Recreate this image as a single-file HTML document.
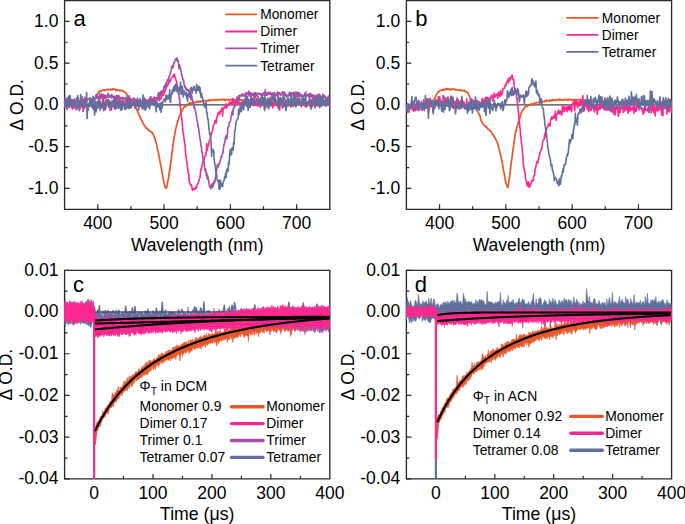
<!DOCTYPE html>
<html><head><meta charset="utf-8"><style>
html,body{margin:0;padding:0;background:#fff;width:685px;height:524px;overflow:hidden}
svg{display:block}
</style></head><body>
<svg width="685" height="524" viewBox="0 0 685 524" font-family='"Liberation Sans", sans-serif' fill="#000">
<path d="M64.6,0.5 H329.8 V209.3 H64.6 Z" fill="none" stroke="#2a2a2a" stroke-width="1.35"/>
<path d="M97.75,209.3 V204.3 M164.05,209.3 V204.3 M230.35,209.3 V204.3 M296.65,209.3 V204.3 M130.9,209.3 V206.3 M197.2,209.3 V206.3 M263.5,209.3 V206.3 M64.6,21.38 H69.6 M64.6,63.14 H69.6 M64.6,104.9 H69.6 M64.6,146.66 H69.6 M64.6,188.42 H69.6 M64.6,42.26 H67.6 M64.6,84.02 H67.6 M64.6,125.78 H67.6 M64.6,167.54 H67.6" stroke="#2a2a2a" stroke-width="1.2" fill="none"/>
<text x="97.75" y="229.4" font-size="17.5" text-anchor="middle" >400</text>
<text x="164.05" y="229.4" font-size="17.5" text-anchor="middle" >500</text>
<text x="230.35" y="229.4" font-size="17.5" text-anchor="middle" >600</text>
<text x="296.65" y="229.4" font-size="17.5" text-anchor="middle" >700</text>
<text x="58.4" y="26.78" font-size="17.5" text-anchor="end" >1.0</text>
<text x="58.4" y="68.54" font-size="17.5" text-anchor="end" >0.5</text>
<text x="58.4" y="110.3" font-size="17.5" text-anchor="end" >0.0</text>
<text x="58.4" y="152.06" font-size="17.5" text-anchor="end" >-0.5</text>
<text x="58.4" y="193.82" font-size="17.5" text-anchor="end" >-1.0</text>
<text x="197.2" y="250.5" font-size="17.5" text-anchor="middle" >Wavelength (nm)</text>
<text transform="translate(22.6,104.9) rotate(-90)" font-size="17.5" text-anchor="middle">&#916; O.D.</text>
<text x="73.5" y="25.8" font-size="22" text-anchor="start" >a</text>
<path d="M64.6,104.9 H329.8" stroke="#444" stroke-width="1.3"/>
<path d="M406.4,0.5 H671.6 V209.3 H406.4 Z" fill="none" stroke="#2a2a2a" stroke-width="1.35"/>
<path d="M439.55,209.3 V204.3 M505.85,209.3 V204.3 M572.15,209.3 V204.3 M638.45,209.3 V204.3 M472.7,209.3 V206.3 M539,209.3 V206.3 M605.3,209.3 V206.3 M406.4,21.38 H411.4 M406.4,63.14 H411.4 M406.4,104.9 H411.4 M406.4,146.66 H411.4 M406.4,188.42 H411.4 M406.4,42.26 H409.4 M406.4,84.02 H409.4 M406.4,125.78 H409.4 M406.4,167.54 H409.4" stroke="#2a2a2a" stroke-width="1.2" fill="none"/>
<text x="439.55" y="229.4" font-size="17.5" text-anchor="middle" >400</text>
<text x="505.85" y="229.4" font-size="17.5" text-anchor="middle" >500</text>
<text x="572.15" y="229.4" font-size="17.5" text-anchor="middle" >600</text>
<text x="638.45" y="229.4" font-size="17.5" text-anchor="middle" >700</text>
<text x="400.2" y="26.78" font-size="17.5" text-anchor="end" >1.0</text>
<text x="400.2" y="68.54" font-size="17.5" text-anchor="end" >0.5</text>
<text x="400.2" y="110.3" font-size="17.5" text-anchor="end" >0.0</text>
<text x="400.2" y="152.06" font-size="17.5" text-anchor="end" >-0.5</text>
<text x="400.2" y="193.82" font-size="17.5" text-anchor="end" >-1.0</text>
<text x="539" y="250.5" font-size="17.5" text-anchor="middle" >Wavelength (nm)</text>
<text transform="translate(364.4,104.9) rotate(-90)" font-size="17.5" text-anchor="middle">&#916; O.D.</text>
<text x="415.3" y="25.8" font-size="22" text-anchor="start" >b</text>
<path d="M406.4,104.9 H671.6" stroke="#444" stroke-width="1.3"/>
<g>
<path d="M64.6,104.9 L65.1,105 L65.6,104.8 L66.1,104.59 L66.6,104.74 L67.1,104.55 L67.6,104.92 L68.1,105.37 L68.6,104.73 L69.1,104.68 L69.6,105.07 L70.1,105.02 L70.6,104.94 L71.1,104.57 L71.6,104.89 L72.1,105.14 L72.6,104.43 L73.1,104.74 L73.6,104.23 L74.1,104.45 L74.6,104.26 L75.1,104.82 L75.6,104.46 L76.1,104.99 L76.6,104.95 L77.1,104.83 L77.6,104.02 L78.1,104.71 L78.6,104.88 L79.1,104.94 L79.6,104.36 L80.1,104.73 L80.6,104.56 L81.1,104.62 L81.6,105.27 L82.1,104.62 L82.6,104.89 L83.1,105.21 L83.6,104.7 L84.1,104.86 L84.6,104.94 L85.1,104.92 L85.6,104.47 L86.1,104.93 L86.6,105.38 L87.1,104.36 L87.6,105.2 L88.1,104.94 L88.6,104.62 L89.1,105.41 L89.6,104.79 L90.1,103.85 L90.6,104.01 L91.1,103.85 L91.6,103.23 L92.1,103.16 L92.6,102.33 L93.1,101.81 L93.6,101.15 L94.1,99.41 L94.6,98.7 L95.1,97.51 L95.6,96.89 L96.1,95.61 L96.6,94.97 L97.1,94.27 L97.6,93.88 L98.1,93.28 L98.6,91.86 L99.1,91.66 L99.6,91.85 L100.1,90.64 L100.6,90.92 L101.1,90.81 L101.6,91.07 L102.1,90.68 L102.6,90.17 L103.1,90.03 L103.6,89.97 L104.1,90.52 L104.6,89.78 L105.1,89.77 L105.6,89.95 L106.1,89.74 L106.6,89.67 L107.1,89.31 L107.6,89.66 L108.1,89.47 L108.6,90.01 L109.1,89.8 L109.6,89.54 L110.1,89.77 L110.6,89.4 L111.1,89.88 L111.6,89.5 L112.1,89.7 L112.6,89.05 L113.1,89.64 L113.6,88.95 L114.1,88.85 L114.6,89.49 L115.1,89.32 L115.6,89.74 L116.1,90.53 L116.6,89.51 L117.1,89.65 L117.6,90.02 L118.1,90.2 L118.6,90.06 L119.1,90.15 L119.6,90.57 L120.1,90.62 L120.6,90.19 L121.1,90.65 L121.6,90.82 L122.1,90.58 L122.6,91.18 L123.1,90.94 L123.6,91.74 L124.1,91.71 L124.6,92.08 L125.1,92.36 L125.6,93.15 L126.1,93.18 L126.6,94.21 L127.1,95.48 L127.6,95.34 L128.1,97.07 L128.6,96.8 L129.1,98.33 L129.6,98.42 L130.1,99.65 L130.6,100.09 L131.1,100.19 L131.6,101.86 L132.1,102.64 L132.6,102.84 L133.1,103.51 L133.6,104.32 L134.1,104.82 L134.6,106.36 L135.1,106.64 L135.6,107.69 L136.1,108.34 L136.6,109.33 L137.1,110.06 L137.6,111.94 L138.1,112.51 L138.6,114.02 L139.1,114.85 L139.6,115.78 L140.1,117.09 L140.6,118.18 L141.1,119.52 L141.6,120.46 L142.1,121.5 L142.6,122.05 L143.1,123.09 L143.6,124.76 L144.1,124.73 L144.6,125.34 L145.1,126.55 L145.6,127.6 L146.1,127.24 L146.6,128.27 L147.1,128.67 L147.6,128.77 L148.1,130.07 L148.6,130.18 L149.1,130.55 L149.6,130.58 L150.1,131.32 L150.6,131.31 L151.1,131.82 L151.6,131.9 L152.1,132.36 L152.6,133.84 L153.1,133.94 L153.6,135.24 L154.1,136.37 L154.6,137.66 L155.1,139.22 L155.6,141.29 L156.1,142.7 L156.6,144.55 L157.1,146.68 L157.6,149.38 L158.1,151.68 L158.6,154.16 L159.1,156.47 L159.6,158.82 L160.1,162.22 L160.6,164.7 L161.1,166.71 L161.6,169.62 L162.1,172.57 L162.6,175.54 L163.1,178.48 L163.6,180.74 L164.1,183.88 L164.6,184.95 L165.1,187.2 L165.6,187.92 L166.1,188.12 L166.6,187.6 L167.1,185.78 L167.6,182.54 L168.1,179.56 L168.6,177.36 L169.1,173.51 L169.6,170.7 L170.1,167.98 L170.6,163.72 L171.1,159.77 L171.6,156.59 L172.1,152.43 L172.6,148.35 L173.1,144.71 L173.6,141.06 L174.1,137.7 L174.6,135.14 L175.1,132.03 L175.6,129.23 L176.1,127.76 L176.6,125.56 L177.1,123.87 L177.6,121.64 L178.1,120.13 L178.6,118.48 L179.1,117.09 L179.6,116.11 L180.1,114.47 L180.6,113.59 L181.1,112.35 L181.6,111.79 L182.1,109.57 L182.6,109.52 L183.1,108.53 L183.6,107.99 L184.1,106.96 L184.6,106.81 L185.1,106.78 L185.6,106.08 L186.1,105.76 L186.6,105.28 L187.1,105.47 L187.6,104.78 L188.1,103.76 L188.6,104.06 L189.1,103.4 L189.6,102.76 L190.1,103.52 L190.6,104 L191.1,103.38 L191.6,102.79 L192.1,102.72 L192.6,103.31 L193.1,102.83 L193.6,102.67 L194.1,102.51 L194.6,102.43 L195.1,102.59 L195.6,102.4 L196.1,102.19 L196.6,101.65 L197.1,102.11 L197.6,101.61 L198.1,102.15 L198.6,101.24 L199.1,101.57 L199.6,101.54 L200.1,101.02 L200.6,102.02 L201.1,101.87 L201.6,101.13 L202.1,101.51 L202.6,101.31 L203.1,100.2 L203.6,101.15 L204.1,100.98 L204.6,100.97 L205.1,100.51 L205.6,100.73 L206.1,100.7 L206.6,101.11 L207.1,100.74 L207.6,100.54 L208.1,101 L208.6,100.19 L209.1,100.17 L209.6,99.59 L210.1,100.7 L210.6,100.41 L211.1,100.33 L211.6,100.17 L212.1,99.92 L212.6,99.9 L213.1,99.69 L213.6,99.67 L214.1,99.74 L214.6,100.23 L215.1,99.89 L215.6,99.68 L216.1,99.5 L216.6,99.48 L217.1,100.26 L217.6,99.88 L218.1,99.73 L218.6,99.58 L219.1,99.32 L219.6,99.68 L220.1,100.01 L220.6,99.57 L221.1,99.63 L221.6,99.63 L222.1,99.75 L222.6,99.16 L223.1,99.63 L223.6,99.42 L224.1,100.03 L224.6,99.45 L225.1,99.93 L225.6,100.26 L226.1,99.62 L226.6,99.52 L227.1,99.8 L227.6,99.74 L228.1,99.39 L228.6,99.9 L229.1,100.45 L229.6,99.66 L230.1,99.68 L230.6,99.39 L231.1,99.87 L231.6,99.32 L232.1,99.38 L232.6,100.22 L233.1,99.46 L233.6,100.15 L234.1,100.31 L234.6,99.87 L235.1,99.98 L235.6,100.48 L236.1,99.73 L236.6,99.59 L237.1,99.33 L237.6,99.83 L238.1,100.35 L238.6,100.19 L239.1,99.54 L239.6,99.6 L240.1,99.75 L240.6,100.06 L241.1,99.92 L241.6,100.1 L242.1,100.17 L242.6,100 L243.1,100.13 L243.6,100.27 L244.1,100.21 L244.6,100.47 L245.1,101 L245.6,100.6 L246.1,100.47 L246.6,99.91 L247.1,100.7 L247.6,99.94 L248.1,100.18 L248.6,101.04 L249.1,101.04 L249.6,100.81 L250.1,100.32 L250.6,100.85 L251.1,100.8 L251.6,101.33 L252.1,101.95 L252.6,101.3 L253.1,101.01 L253.6,100.94 L254.1,101.38 L254.6,101.4 L255.1,101.12 L255.6,101.62 L256.1,101.23 L256.6,102.07 L257.1,102.11 L257.6,102.17 L258.1,101.67 L258.6,102.06 L259.1,101.88 L259.6,101.83 L260.1,101.89 L260.6,101.59 L261.1,101.58 L261.6,102.41 L262.1,102.1 L262.6,102.28 L263.1,102.6 L263.6,101.68 L264.1,102.06 L264.6,102.43 L265.1,102.55 L265.6,102.32 L266.1,102.86 L266.6,102.61 L267.1,102.15 L267.6,102.3 L268.1,102.94 L268.6,102.87 L269.1,102.08 L269.6,103.26 L270.1,103.04 L270.6,103.34 L271.1,102.77 L271.6,102.84 L272.1,102.59 L272.6,103.92 L273.1,103.01 L273.6,103.66 L274.1,102.92 L274.6,103.24 L275.1,102.63 L275.6,103.12 L276.1,103.64 L276.6,102.89 L277.1,103.74 L277.6,103.52 L278.1,103.07 L278.6,103.29 L279.1,103.34 L279.6,103.52 L280.1,103.38 L280.6,103.31 L281.1,103.52 L281.6,103.3 L282.1,103.23 L282.6,103.69 L283.1,104.05 L283.6,103.23 L284.1,103.79 L284.6,103.58 L285.1,103.49 L285.6,104.16 L286.1,103.7 L286.6,104.42 L287.1,103.64 L287.6,104.07 L288.1,103.87 L288.6,103.7 L289.1,104.18 L289.6,103.94 L290.1,104.21 L290.6,104 L291.1,103.64 L291.6,104 L292.1,104.06 L292.6,104.39 L293.1,103.75 L293.6,104.06 L294.1,103.48 L294.6,104.33 L295.1,103.73 L295.6,103.48 L296.1,104.11 L296.6,104.52 L297.1,103.61 L297.6,103.78 L298.1,103.91 L298.6,103.78 L299.1,104.32 L299.6,103.91 L300.1,103.95 L300.6,104.42 L301.1,103.96 L301.6,104.38 L302.1,103.9 L302.6,103.82 L303.1,103.61 L303.6,104.92 L304.1,104.16 L304.6,104.37 L305.1,104.28 L305.6,104.35 L306.1,104.32 L306.6,104.98 L307.1,103.96 L307.6,103.78 L308.1,103.98 L308.6,103.87 L309.1,104.61 L309.6,104.64 L310.1,104.02 L310.6,103.88 L311.1,104.25 L311.6,104.87 L312.1,103.4 L312.6,104.58 L313.1,104.02 L313.6,104.77 L314.1,104.03 L314.6,104.32 L315.1,103.89 L315.6,104.08 L316.1,104.92 L316.6,104.72 L317.1,104.3 L317.6,104.14 L318.1,103.79 L318.6,104.32 L319.1,104.45 L319.6,104.43 L320.1,104.43 L320.6,104.08 L321.1,104.45 L321.6,104.46 L322.1,104.93 L322.6,105.13 L323.1,104.43 L323.6,104.22 L324.1,104.46 L324.6,104.28 L325.1,104.23 L325.6,104.47 L326.1,104.13 L326.6,104.71 L327.1,104.46 L327.6,104.59 L328.1,104.43 L328.6,104.24 L329.1,104.17 L329.6,104.42" fill="none" stroke="#E95628" stroke-width="1.7" stroke-linejoin="round" />
<path d="M64.6,102.29 L65.05,98.8 L65.5,106.19 L65.95,106.58 L66.4,103.63 L66.85,105.53 L67.3,109.29 L67.75,107.47 L68.2,106.48 L68.65,106.43 L69.1,102.08 L69.55,107.2 L70,99.88 L70.45,103.57 L70.9,103.27 L71.35,99.66 L71.8,104.19 L72.25,109.1 L72.7,103.54 L73.15,101.12 L73.6,104.24 L74.05,108.18 L74.5,105.04 L74.95,104.49 L75.4,100.55 L75.85,105.9 L76.3,105.85 L76.75,108.25 L77.2,108.66 L77.65,106.42 L78.1,99.89 L78.55,100.47 L79,101.42 L79.45,105.32 L79.9,102.28 L80.35,108.16 L80.8,105.17 L81.25,106.7 L81.7,106.59 L82.15,105.44 L82.6,100.53 L83.05,111.35 L83.5,108.58 L83.95,108.75 L84.4,102.39 L84.85,99.31 L85.3,100.26 L85.75,101.53 L86.2,106.95 L86.65,107 L87.1,110.91 L87.55,110.47 L88,105.93 L88.45,105.46 L88.9,103.45 L89.35,103.53 L89.8,101.22 L90.25,105.89 L90.7,105.35 L91.15,103.33 L91.6,102.19 L92.05,105.74 L92.5,108.11 L92.95,104.68 L93.4,105.25 L93.85,102.92 L94.3,103.75 L94.75,103.56 L95.2,103.65 L95.65,102.77 L96.1,105.55 L96.55,108.08 L97,101.79 L97.45,108.35 L97.9,103.31 L98.35,103.4 L98.8,98.39 L99.25,97.65 L99.7,106.48 L100.15,101.37 L100.6,106.68 L101.05,104.56 L101.5,105.12 L101.95,108.15 L102.4,104.21 L102.85,95.27 L103.3,99.54 L103.75,107.13 L104.2,109.99 L104.65,104.13 L105.1,102.43 L105.55,100.5 L106,105.92 L106.45,99.35 L106.9,100.9 L107.35,104.76 L107.8,104.66 L108.25,103.65 L108.7,107.35 L109.15,100.89 L109.6,101.03 L110.05,103.19 L110.5,104.54 L110.95,103.41 L111.4,109.92 L111.85,102.66 L112.3,106.12 L112.75,102.7 L113.2,105.23 L113.65,103.09 L114.1,103.23 L114.55,108.86 L115,103.38 L115.45,109.11 L115.9,102.25 L116.35,103 L116.8,107.4 L117.25,97.38 L117.7,99.62 L118.15,104.34 L118.6,105.62 L119.05,105.88 L119.5,103.37 L119.95,100.24 L120.4,106.59 L120.85,105.51 L121.3,101.08 L121.75,104.49 L122.2,109.32 L122.65,104.59 L123.1,100.89 L123.55,103.03 L124,103.19 L124.45,105.18 L124.9,106.75 L125.35,101.58 L125.8,102.37 L126.25,107.05 L126.7,106.26 L127.15,107.98 L127.6,100.09 L128.05,101.49 L128.5,106.97 L128.95,101.5 L129.4,105.06 L129.85,103.99 L130.3,102.06 L130.75,108.2 L131.2,104.09 L131.65,102.72 L132.1,103.67 L132.55,104.79 L133,99.77 L133.45,101.73 L133.9,100.59 L134.35,98.35 L134.8,106.73 L135.25,107.95 L135.7,107.26 L136.15,102.03 L136.6,105.11 L137.05,105.85 L137.5,102.52 L137.95,106.17 L138.4,101.1 L138.85,101.21 L139.3,101.85 L139.75,102.14 L140.2,101.41 L140.65,106.38 L141.1,101.22 L141.55,102.68 L142,102.17 L142.45,109 L142.9,101.35 L143.35,104.51 L143.8,107.53 L144.25,100.32 L144.7,101 L145.15,102 L145.6,99.6 L146.05,105.12 L146.5,101.19 L146.95,104.31 L147.4,103 L147.85,101.75 L148.3,103.5 L148.75,100.77 L149.2,103.32 L149.65,98.54 L150.1,99.55 L150.55,103.11 L151,96.89 L151.45,103.7 L151.9,99.82 L152.35,101.6 L152.8,99.19 L153.25,102.45 L153.7,97.71 L154.15,102.05 L154.6,100.8 L155.05,99.31 L155.5,99.74 L155.95,100.84 L156.4,98.81 L156.85,97.39 L157.3,99.86 L157.75,98.16 L158.2,98.63 L158.65,99.11 L159.1,99.85 L159.55,101.07 L160,98.94 L160.45,98.38 L160.9,98.87 L161.35,97.7 L161.8,94.7 L162.25,95.36 L162.7,93.87 L163.15,95.36 L163.6,95.18 L164.05,93.21 L164.5,90.71 L164.95,91.88 L165.4,88.95 L165.85,89.41 L166.3,86.9 L166.75,85.84 L167.2,84.99 L167.65,85.64 L168.1,83.94 L168.55,84.14 L169,81.26 L169.45,82.19 L169.9,80.05 L170.35,81.13 L170.8,80.05 L171.25,78.02 L171.7,77.74 L172.15,77.24 L172.6,76.87 L173.05,75.62 L173.5,76.77 L173.95,75.14 L174.4,74.06 L174.85,76.95 L175.3,77.4 L175.75,79.36 L176.2,80.7 L176.65,82.24 L177.1,84.42 L177.55,86.72 L178,88.49 L178.45,90.76 L178.9,94.27 L179.35,98.58 L179.8,100.42 L180.25,106.44 L180.7,109.86 L181.15,114.58 L181.6,117.62 L182.05,122.25 L182.5,125.67 L182.95,130.92 L183.4,132.99 L183.85,136.83 L184.3,140.87 L184.75,142.92 L185.2,147.67 L185.65,154.21 L186.1,157.23 L186.55,160.58 L187,163.24 L187.45,167.08 L187.9,170.27 L188.35,173.52 L188.8,175.21 L189.25,180.82 L189.7,182.13 L190.15,184.08 L190.6,184.96 L191.05,185.49 L191.5,184.62 L191.95,187.72 L192.4,190.34 L192.85,189.63 L193.3,188.71 L193.75,188.3 L194.2,189.33 L194.65,189.55 L195.1,188.7 L195.55,189.1 L196,186.58 L196.45,187.74 L196.9,185.84 L197.35,184.08 L197.8,183.23 L198.25,182.73 L198.7,181.9 L199.15,179.58 L199.6,178.14 L200.05,177.81 L200.5,171.49 L200.95,168.86 L201.4,168.81 L201.85,165.81 L202.3,165.21 L202.75,161.91 L203.2,162.16 L203.65,161.9 L204.1,160.29 L204.55,156.68 L205,156.09 L205.45,155.9 L205.9,155.42 L206.35,151.15 L206.8,143.66 L207.25,150.28 L207.7,147.32 L208.15,145.15 L208.6,145.74 L209.05,141.44 L209.5,140.86 L209.95,140.89 L210.4,137.52 L210.85,137.05 L211.3,133.54 L211.75,133.15 L212.2,130.94 L212.65,130.32 L213.1,126.8 L213.55,125.26 L214,124.16 L214.45,124.01 L214.9,120.9 L215.35,120.3 L215.8,121.3 L216.25,122.99 L216.7,117.94 L217.15,115.72 L217.6,116.31 L218.05,113.44 L218.5,112.39 L218.95,112.29 L219.4,114.15 L219.85,113.55 L220.3,110.48 L220.75,110.55 L221.2,110.9 L221.65,111.21 L222.1,107.69 L222.55,116.25 L223,109.63 L223.45,109.52 L223.9,107.39 L224.35,108 L224.8,106.73 L225.25,106.82 L225.7,105.05 L226.15,103.76 L226.6,108.35 L227.05,105.33 L227.5,105.03 L227.95,105.03 L228.4,105.73 L228.85,104.93 L229.3,102.19 L229.75,103.08 L230.2,103.07 L230.65,103.78 L231.1,101.81 L231.55,102.98 L232,102.68 L232.45,104.24 L232.9,98.59 L233.35,102.42 L233.8,102.8 L234.25,103.32 L234.7,102.3 L235.15,101.03 L235.6,103.38 L236.05,102.92 L236.5,100.95 L236.95,100.06 L237.4,103.31 L237.85,100.85 L238.3,103.52 L238.75,105.12 L239.2,102.77 L239.65,102.83 L240.1,102.65 L240.55,105.11 L241,105.2 L241.45,102.61 L241.9,103.97 L242.35,102.55 L242.8,101.42 L243.25,104.12 L243.7,102.29 L244.15,100.62 L244.6,99.16 L245.05,104.74 L245.5,100.3 L245.95,99.94 L246.4,101.9 L246.85,104.27 L247.3,98.4 L247.75,104.06 L248.2,103.48 L248.65,99.55 L249.1,99.72 L249.55,102.11 L250,107.41 L250.45,101.92 L250.9,105.32 L251.35,104.98 L251.8,98.47 L252.25,102.57 L252.7,105.15 L253.15,101.28 L253.6,105.8 L254.05,93.8 L254.5,98.69 L254.95,104.81 L255.4,104.36 L255.85,101.58 L256.3,105.09 L256.75,98.46 L257.2,101.05 L257.65,106.34 L258.1,95.97 L258.55,103.48 L259,100.22 L259.45,100.62 L259.9,101.76 L260.35,98.63 L260.8,105.21 L261.25,104.27 L261.7,106.03 L262.15,103.13 L262.6,100.07 L263.05,104.47 L263.5,98.98 L263.95,100.15 L264.4,108.51 L264.85,105.68 L265.3,103.93 L265.75,106.83 L266.2,101.91 L266.65,104.35 L267.1,100.46 L267.55,101.8 L268,102.98 L268.45,106.91 L268.9,100.8 L269.35,105.7 L269.8,102.73 L270.25,97.84 L270.7,97.37 L271.15,100.82 L271.6,105.77 L272.05,103.5 L272.5,107.87 L272.95,103.29 L273.4,106.76 L273.85,103.49 L274.3,100.24 L274.75,104.8 L275.2,100.72 L275.65,98.85 L276.1,100.7 L276.55,101.72 L277,103.52 L277.45,105.21 L277.9,104.54 L278.35,108.7 L278.8,97.34 L279.25,102.33 L279.7,110.11 L280.15,101.97 L280.6,99.32 L281.05,100.74 L281.5,100.14 L281.95,99.01 L282.4,107.74 L282.85,98.95 L283.3,100.93 L283.75,106.87 L284.2,103.73 L284.65,103.82 L285.1,101.84 L285.55,105.55 L286,100.04 L286.45,105.6 L286.9,103.26 L287.35,102.39 L287.8,101.42 L288.25,105.6 L288.7,103.88 L289.15,101.83 L289.6,103.27 L290.05,99.99 L290.5,106.54 L290.95,106.84 L291.4,106.14 L291.85,103.78 L292.3,104.4 L292.75,99.15 L293.2,101.94 L293.65,102.29 L294.1,102.61 L294.55,104.76 L295,101.76 L295.45,100.96 L295.9,106.38 L296.35,102.12 L296.8,101.19 L297.25,97.34 L297.7,99.17 L298.15,101.47 L298.6,103.76 L299.05,97.99 L299.5,102.95 L299.95,103.91 L300.4,101.58 L300.85,103.15 L301.3,106.94 L301.75,100.89 L302.2,98.24 L302.65,101.93 L303.1,100.52 L303.55,102.85 L304,104.95 L304.45,105.49 L304.9,103.9 L305.35,106.93 L305.8,104.01 L306.25,105.88 L306.7,103.98 L307.15,103.77 L307.6,101.58 L308.05,103.01 L308.5,101.39 L308.95,102.17 L309.4,103.21 L309.85,106.24 L310.3,102.29 L310.75,104.75 L311.2,99.54 L311.65,102.2 L312.1,106.58 L312.55,103.98 L313,97.92 L313.45,102.93 L313.9,102.32 L314.35,99.69 L314.8,98.09 L315.25,100.35 L315.7,100.02 L316.15,105.02 L316.6,104.64 L317.05,105.06 L317.5,106.05 L317.95,96.92 L318.4,102.25 L318.85,103.98 L319.3,101.15 L319.75,106.55 L320.2,100.79 L320.65,103.5 L321.1,102.87 L321.55,106.47 L322,104.13 L322.45,103.62 L322.9,102.97 L323.35,100.83 L323.8,103.38 L324.25,105.34 L324.7,104.35 L325.15,100.06 L325.6,98.81 L326.05,105 L326.5,103.57 L326.95,103.86 L327.4,100.65 L327.85,105.13 L328.3,105.08 L328.75,102.34 L329.2,104.67 L329.65,100.5" fill="none" stroke="#FF2891" stroke-width="1.6" stroke-linejoin="round" />
<path d="M64.6,101.94 L65.05,104.25 L65.5,102.43 L65.95,99.38 L66.4,100.11 L66.85,102.29 L67.3,100.93 L67.75,102.78 L68.2,98.08 L68.65,104.16 L69.1,103.81 L69.55,98.81 L70,100.54 L70.45,100.07 L70.9,100.42 L71.35,102.46 L71.8,100.24 L72.25,99.63 L72.7,103.36 L73.15,103.06 L73.6,100.36 L74.05,101.48 L74.5,98.85 L74.95,102.54 L75.4,104.5 L75.85,101.94 L76.3,100.93 L76.75,97.89 L77.2,100.52 L77.65,97.85 L78.1,102.18 L78.55,103.73 L79,103.12 L79.45,101.22 L79.9,101.71 L80.35,99.9 L80.8,103.3 L81.25,101.27 L81.7,100.88 L82.15,96.75 L82.6,101.26 L83.05,101.53 L83.5,99.64 L83.95,101.45 L84.4,102.02 L84.85,97.41 L85.3,102.11 L85.75,99.88 L86.2,98.84 L86.65,100.83 L87.1,99.33 L87.55,99.79 L88,98.93 L88.45,99.42 L88.9,98.57 L89.35,99.51 L89.8,98.72 L90.25,98.3 L90.7,101.99 L91.15,100.3 L91.6,100.79 L92.05,102.66 L92.5,100.85 L92.95,99.64 L93.4,97.7 L93.85,100.4 L94.3,99.67 L94.75,100.29 L95.2,98.24 L95.65,97.61 L96.1,94.69 L96.55,98.55 L97,95.06 L97.45,96.46 L97.9,97.79 L98.35,96.95 L98.8,96.54 L99.25,97.26 L99.7,93.72 L100.15,96.5 L100.6,98.37 L101.05,98.21 L101.5,94.09 L101.95,97.88 L102.4,97.1 L102.85,94.89 L103.3,94.32 L103.75,96.2 L104.2,98.6 L104.65,97.2 L105.1,94.99 L105.55,96.64 L106,98.12 L106.45,96.36 L106.9,95.79 L107.35,97.25 L107.8,93.3 L108.25,97.24 L108.7,94.46 L109.15,96.46 L109.6,97.17 L110.05,96.41 L110.5,95.49 L110.95,96.08 L111.4,97.96 L111.85,94.62 L112.3,95.88 L112.75,97.26 L113.2,98.03 L113.65,96.8 L114.1,96.03 L114.55,97.97 L115,96.3 L115.45,100.12 L115.9,99.05 L116.35,99.97 L116.8,95.62 L117.25,96.44 L117.7,96.84 L118.15,95.41 L118.6,96.62 L119.05,99.02 L119.5,96.07 L119.95,97.29 L120.4,100.18 L120.85,98.44 L121.3,97.76 L121.75,98.21 L122.2,97.31 L122.65,97.83 L123.1,98.91 L123.55,97.69 L124,98.76 L124.45,98.08 L124.9,98.73 L125.35,101.37 L125.8,99.97 L126.25,97.07 L126.7,98.87 L127.15,103.29 L127.6,102.15 L128.05,97.59 L128.5,100.17 L128.95,99.57 L129.4,95.73 L129.85,100.18 L130.3,102.9 L130.75,98.77 L131.2,99.5 L131.65,101.53 L132.1,99.43 L132.55,99.51 L133,100.71 L133.45,98.12 L133.9,101.2 L134.35,98.46 L134.8,100.66 L135.25,101.92 L135.7,103.28 L136.15,99.58 L136.6,101.21 L137.05,101.29 L137.5,98.17 L137.95,100.78 L138.4,101.44 L138.85,101.98 L139.3,104.25 L139.75,101.4 L140.2,101.18 L140.65,101.18 L141.1,101.32 L141.55,102.12 L142,103.84 L142.45,99.8 L142.9,101.47 L143.35,97.75 L143.8,98.87 L144.25,101.69 L144.7,98.17 L145.15,101.93 L145.6,103.39 L146.05,100.02 L146.5,100.19 L146.95,101.24 L147.4,100.36 L147.85,100.99 L148.3,99.9 L148.75,102.22 L149.2,101.25 L149.65,100.55 L150.1,97.05 L150.55,99.3 L151,100.3 L151.45,101.16 L151.9,98.91 L152.35,100.68 L152.8,100.88 L153.25,98.47 L153.7,100.33 L154.15,98.73 L154.6,97.1 L155.05,98.53 L155.5,100.4 L155.95,98.77 L156.4,97.97 L156.85,99 L157.3,98.57 L157.75,97.53 L158.2,94.07 L158.65,92.63 L159.1,97.43 L159.55,98.08 L160,96.07 L160.45,92.03 L160.9,94.98 L161.35,90.97 L161.8,92.72 L162.25,93.13 L162.7,90.8 L163.15,91.47 L163.6,89.31 L164.05,86.15 L164.5,87.78 L164.95,87.75 L165.4,85.27 L165.85,82.97 L166.3,86.2 L166.75,83.27 L167.2,80.88 L167.65,79.26 L168.1,79.4 L168.55,80.05 L169,76.23 L169.45,76.4 L169.9,74.73 L170.35,72.58 L170.8,71.62 L171.25,70.44 L171.7,67.72 L172.15,65.79 L172.6,67.79 L173.05,67.73 L173.5,65.31 L173.95,62.13 L174.4,62.56 L174.85,60.98 L175.3,59.07 L175.75,59.02 L176.2,59.16 L176.65,60.43 L177.1,57.73 L177.55,61.32 L178,60.35 L178.45,63.2 L178.9,68.84 L179.35,64.54 L179.8,65.91 L180.25,67.63 L180.7,69.2 L181.15,71.58 L181.6,75.13 L182.05,75.23 L182.5,78.55 L182.95,79.44 L183.4,79.42 L183.85,82.78 L184.3,84.99 L184.75,87.07 L185.2,86.45 L185.65,89.5 L186.1,87.66 L186.55,88.87 L187,90.68 L187.45,90.58 L187.9,89.74 L188.35,89.81 L188.8,91.66 L189.25,92.11 L189.7,97.1 L190.15,93.13 L190.6,92.02 L191.05,99.68 L191.5,94.78 L191.95,97.31 L192.4,99.92 L192.85,102.92 L193.3,101.92 L193.75,105.14 L194.2,108.03 L194.65,107.02 L195.1,109.69 L195.55,111.28 L196,113.52 L196.45,116.18 L196.9,119.76 L197.35,121.38 L197.8,125.27 L198.25,126.9 L198.7,128.79 L199.15,132.83 L199.6,135.96 L200.05,138.63 L200.5,141.9 L200.95,146.21 L201.4,146.35 L201.85,152.44 L202.3,152.82 L202.75,156.18 L203.2,160.87 L203.65,162.93 L204.1,161.22 L204.55,166.74 L205,170.33 L205.45,168.74 L205.9,171.16 L206.35,175.41 L206.8,172.93 L207.25,178.9 L207.7,175.69 L208.15,178.08 L208.6,180 L209.05,184.41 L209.5,186 L209.95,186.99 L210.4,187.23 L210.85,188.67 L211.3,184.24 L211.75,185.34 L212.2,187.44 L212.65,183.43 L213.1,186.64 L213.55,183.51 L214,181.4 L214.45,183.24 L214.9,182.07 L215.35,178.04 L215.8,175.74 L216.25,172.57 L216.7,170.16 L217.15,165.12 L217.6,165.58 L218.05,167.22 L218.5,163.58 L218.95,164.14 L219.4,164.06 L219.85,162.26 L220.3,160.3 L220.75,158.96 L221.2,156.42 L221.65,157.05 L222.1,154.12 L222.55,153.81 L223,153.24 L223.45,148.63 L223.9,144.07 L224.35,144.56 L224.8,141.63 L225.25,139.28 L225.7,136.86 L226.15,135.67 L226.6,138.99 L227.05,136.94 L227.5,133 L227.95,127.13 L228.4,126.91 L228.85,126.49 L229.3,122.62 L229.75,122.34 L230.2,121.32 L230.65,120.22 L231.1,116.78 L231.55,114.89 L232,112.36 L232.45,110.63 L232.9,114.88 L233.35,108.17 L233.8,108.37 L234.25,106.67 L234.7,104.88 L235.15,106.48 L235.6,102.81 L236.05,103.29 L236.5,102.23 L236.95,97.06 L237.4,99.76 L237.85,99.35 L238.3,98.51 L238.75,95.59 L239.2,100.89 L239.65,95.42 L240.1,95.41 L240.55,95.11 L241,95.16 L241.45,96.24 L241.9,96.03 L242.35,93.88 L242.8,95.25 L243.25,95.67 L243.7,94.34 L244.15,96.25 L244.6,94.93 L245.05,95.87 L245.5,92.92 L245.95,97.09 L246.4,94.17 L246.85,92.9 L247.3,93.04 L247.75,93.19 L248.2,94.81 L248.65,90.93 L249.1,92.84 L249.55,95.91 L250,96.11 L250.45,92.65 L250.9,94.46 L251.35,94.58 L251.8,93.89 L252.25,93.38 L252.7,95.44 L253.15,93.81 L253.6,94.51 L254.05,95.38 L254.5,92.77 L254.95,92.81 L255.4,97.52 L255.85,92.66 L256.3,95.84 L256.75,95.93 L257.2,94.3 L257.65,93.68 L258.1,94.02 L258.55,93.02 L259,94.16 L259.45,93.81 L259.9,93.33 L260.35,93.58 L260.8,95.38 L261.25,94.14 L261.7,93.81 L262.15,96.98 L262.6,94.1 L263.05,95.05 L263.5,92.83 L263.95,92.57 L264.4,94.85 L264.85,95.57 L265.3,89.68 L265.75,95.15 L266.2,95.3 L266.65,94.18 L267.1,95.09 L267.55,92.56 L268,94.71 L268.45,92.47 L268.9,93.77 L269.35,93.56 L269.8,94.35 L270.25,92.11 L270.7,94.52 L271.15,94.66 L271.6,95.83 L272.05,93.26 L272.5,94.87 L272.95,93.15 L273.4,94.9 L273.85,93.18 L274.3,92.55 L274.75,93.27 L275.2,96.49 L275.65,96.35 L276.1,94.31 L276.55,94.38 L277,94.79 L277.45,92.02 L277.9,97.2 L278.35,92.87 L278.8,92.48 L279.25,94.02 L279.7,92.86 L280.15,94.78 L280.6,95.28 L281.05,93.84 L281.5,94.59 L281.95,93.46 L282.4,91.86 L282.85,92.52 L283.3,97.35 L283.75,94.24 L284.2,91.7 L284.65,92.76 L285.1,93.17 L285.55,95.56 L286,94.64 L286.45,96.63 L286.9,97.33 L287.35,95.43 L287.8,95.35 L288.25,96.4 L288.7,93.97 L289.15,94.2 L289.6,92.14 L290.05,95.79 L290.5,93.35 L290.95,95.08 L291.4,98.26 L291.85,92.69 L292.3,93.97 L292.75,93.19 L293.2,93.03 L293.65,95.8 L294.1,92.34 L294.55,95.2 L295,94.9 L295.45,96.36 L295.9,92.15 L296.35,92.94 L296.8,96.3 L297.25,92.1 L297.7,95.1 L298.15,96.54 L298.6,92.6 L299.05,93.3 L299.5,96.21 L299.95,93.01 L300.4,96.17 L300.85,96.7 L301.3,95.02 L301.75,94.86 L302.2,94.94 L302.65,97.07 L303.1,96.25 L303.55,96.14 L304,95.09 L304.45,95.58 L304.9,93.08 L305.35,93.75 L305.8,92 L306.25,96.13 L306.7,96.56 L307.15,95.71 L307.6,94.57 L308.05,94.78 L308.5,94.79 L308.95,97.01 L309.4,93.74 L309.85,97.34 L310.3,96.36 L310.75,93.4 L311.2,96.58 L311.65,96.81 L312.1,95.16 L312.55,98.51 L313,94.67 L313.45,95.34 L313.9,96.28 L314.35,96.78 L314.8,95.8 L315.25,97.48 L315.7,95.25 L316.15,96.98 L316.6,96.04 L317.05,96.34 L317.5,94.89 L317.95,96.23 L318.4,94.18 L318.85,97.56 L319.3,94.28 L319.75,97.83 L320.2,95.12 L320.65,97.41 L321.1,100.11 L321.55,97.64 L322,97.79 L322.45,96.71 L322.9,94.1 L323.35,96.41 L323.8,97.2 L324.25,95.49 L324.7,97.5 L325.15,96.18 L325.6,98.6 L326.05,97.56 L326.5,97.83 L326.95,98.12 L327.4,97.35 L327.85,100.01 L328.3,96.05 L328.75,96.53 L329.2,97.75 L329.65,98.09" fill="none" stroke="#A84EA8" stroke-width="1.6" stroke-linejoin="round" />
<path d="M64.6,108.08 L65.1,103.09 L65.6,106.46 L66.1,99.44 L66.6,108.07 L67.1,98.09 L67.6,104.1 L68.1,101.69 L68.6,96 L69.1,107.24 L69.6,98.1 L70.1,95.45 L70.6,101.85 L71.1,106.83 L71.6,100.91 L72.1,100.52 L72.6,103.91 L73.1,102.9 L73.6,105.7 L74.1,103.5 L74.6,99.98 L75.1,101.91 L75.6,104.63 L76.1,109.99 L76.6,105 L77.1,105.81 L77.6,95.5 L78.1,100.43 L78.6,103.89 L79.1,110.69 L79.6,110.06 L80.1,104.45 L80.6,94.58 L81.1,103.74 L81.6,101.22 L82.1,104.06 L82.6,102.57 L83.1,105.23 L83.6,106.59 L84.1,103.24 L84.6,108.23 L85.1,99.7 L85.6,104.05 L86.1,104.76 L86.6,92.43 L87.1,118.49 L87.6,106.73 L88.1,110.54 L88.6,103.83 L89.1,106.32 L89.6,106.49 L90.1,97.79 L90.6,105.14 L91.1,98.52 L91.6,105.1 L92.1,106.78 L92.6,105.05 L93.1,96.19 L93.6,109.57 L94.1,105.16 L94.6,115.24 L95.1,101.4 L95.6,102.52 L96.1,111.94 L96.6,103.26 L97.1,102.37 L97.6,102.59 L98.1,107.81 L98.6,98.02 L99.1,102.79 L99.6,100.62 L100.1,110.39 L100.6,108.13 L101.1,104.4 L101.6,104.89 L102.1,103.15 L102.6,102.34 L103.1,103.38 L103.6,110.76 L104.1,102.89 L104.6,102.99 L105.1,105.19 L105.6,109.64 L106.1,105.84 L106.6,99.97 L107.1,104.25 L107.6,104.1 L108.1,98.98 L108.6,101.19 L109.1,105.33 L109.6,102.38 L110.1,110.4 L110.6,105.36 L111.1,102.27 L111.6,103.74 L112.1,100.57 L112.6,101.52 L113.1,106.97 L113.6,103.79 L114.1,96.76 L114.6,98.94 L115.1,107.76 L115.6,99.72 L116.1,102.87 L116.6,108.21 L117.1,103.2 L117.6,103.01 L118.1,102.57 L118.6,108.11 L119.1,101.46 L119.6,99.46 L120.1,104.4 L120.6,110.25 L121.1,105.5 L121.6,109.95 L122.1,108.74 L122.6,99.96 L123.1,104.41 L123.6,103.79 L124.1,104.21 L124.6,108.76 L125.1,109.44 L125.6,106.95 L126.1,108.7 L126.6,102.01 L127.1,107.25 L127.6,100.36 L128.1,102.96 L128.6,107.56 L129.1,108.72 L129.6,102.7 L130.1,107.04 L130.6,99.57 L131.1,105.12 L131.6,107.22 L132.1,104.66 L132.6,105 L133.1,104.88 L133.6,104.14 L134.1,103.06 L134.6,101.41 L135.1,107.9 L135.6,104.38 L136.1,104.6 L136.6,105.46 L137.1,100.15 L137.6,99.82 L138.1,99.91 L138.6,110.21 L139.1,103.44 L139.6,106.12 L140.1,98.47 L140.6,103.09 L141.1,104.64 L141.6,102.54 L142.1,107.75 L142.6,103.25 L143.1,94.75 L143.6,98.98 L144.1,109.17 L144.6,105.33 L145.1,102.97 L145.6,110.18 L146.1,107.84 L146.6,101.17 L147.1,101.36 L147.6,101.51 L148.1,107.19 L148.6,105.44 L149.1,101.69 L149.6,109.01 L150.1,104.14 L150.6,102.7 L151.1,101.27 L151.6,101.89 L152.1,103.69 L152.6,102.6 L153.1,104.24 L153.6,103.4 L154.1,102.48 L154.6,105.71 L155.1,105.86 L155.6,99.34 L156.1,111.69 L156.6,103.53 L157.1,102.12 L157.6,106.91 L158.1,105.64 L158.6,106.5 L159.1,103.57 L159.6,109.81 L160.1,106.38 L160.6,103.33 L161.1,112.38 L161.6,102.23 L162.1,108.08 L162.6,102.82 L163.1,101.45 L163.6,100.57 L164.1,99.23 L164.6,98.84 L165.1,101.62 L165.6,99.78 L166.1,95.09 L166.6,99.36 L167.1,95.86 L167.6,99.04 L168.1,95.9 L168.6,95.94 L169.1,99.05 L169.6,89.92 L170.1,102.09 L170.6,102.14 L171.1,94.63 L171.6,94.15 L172.1,89.98 L172.6,93.66 L173.1,89.26 L173.6,88.04 L174.1,85.93 L174.6,91.26 L175.1,89.77 L175.6,84.02 L176.1,89.74 L176.6,85.46 L177.1,91.98 L177.6,87.69 L178.1,90.25 L178.6,94.65 L179.1,90.11 L179.6,87.41 L180.1,89.54 L180.6,82.15 L181.1,94.56 L181.6,93.28 L182.1,86.23 L182.6,87.88 L183.1,96.96 L183.6,93.01 L184.1,90.78 L184.6,94.49 L185.1,93.43 L185.6,95.05 L186.1,92.38 L186.6,98.04 L187.1,94.61 L187.6,101.14 L188.1,93.64 L188.6,95.69 L189.1,93.65 L189.6,92.57 L190.1,91.31 L190.6,88.02 L191.1,90.18 L191.6,87.64 L192.1,93.29 L192.6,90.91 L193.1,88.27 L193.6,87.67 L194.1,86.4 L194.6,90.13 L195.1,89.89 L195.6,89.62 L196.1,93.17 L196.6,84.39 L197.1,90.46 L197.6,89.56 L198.1,90.11 L198.6,86.07 L199.1,86.34 L199.6,92.18 L200.1,87.71 L200.6,94.94 L201.1,97.41 L201.6,93.32 L202.1,97.14 L202.6,98.32 L203.1,101.17 L203.6,105.54 L204.1,103.3 L204.6,104.83 L205.1,107.33 L205.6,103.26 L206.1,102.34 L206.6,112.87 L207.1,112.49 L207.6,118.9 L208.1,118.71 L208.6,124.57 L209.1,129.16 L209.6,134.22 L210.1,133.21 L210.6,137.63 L211.1,142.5 L211.6,156.47 L212.1,148.96 L212.6,150.66 L213.1,151.21 L213.6,150.21 L214.1,157.81 L214.6,163.42 L215.1,163.97 L215.6,169.6 L216.1,175.29 L216.6,174.05 L217.1,179.77 L217.6,180.96 L218.1,180.35 L218.6,183.43 L219.1,189.08 L219.6,180.11 L220.1,188.87 L220.6,180.57 L221.1,186.34 L221.6,184.05 L222.1,183.78 L222.6,186.34 L223.1,182.27 L223.6,181.44 L224.1,180.39 L224.6,176.64 L225.1,178.21 L225.6,173.29 L226.1,177.45 L226.6,169.88 L227.1,171.97 L227.6,167.95 L228.1,171.13 L228.6,161.95 L229.1,164.11 L229.6,155.88 L230.1,149.19 L230.6,155.37 L231.1,150.07 L231.6,154.16 L232.1,147.51 L232.6,150.11 L233.1,150.14 L233.6,142.63 L234.1,144.79 L234.6,130.96 L235.1,130.92 L235.6,126.19 L236.1,121.42 L236.6,120.54 L237.1,119.66 L237.6,119.05 L238.1,118.43 L238.6,109.38 L239.1,114.66 L239.6,111.4 L240.1,106.48 L240.6,108.47 L241.1,111.61 L241.6,110.12 L242.1,102.99 L242.6,104.99 L243.1,101.16 L243.6,109.82 L244.1,104.3 L244.6,102.27 L245.1,104.15 L245.6,95.78 L246.1,103.78 L246.6,106.29 L247.1,104.16 L247.6,96.46 L248.1,110.49 L248.6,104.19 L249.1,101.61 L249.6,101.63 L250.1,107.46 L250.6,101.48 L251.1,95.27 L251.6,104.12 L252.1,98.14 L252.6,101.34 L253.1,98.57 L253.6,103.53 L254.1,104.37 L254.6,103.85 L255.1,104.93 L255.6,103.52 L256.1,99.13 L256.6,100.74 L257.1,101.47 L257.6,98.87 L258.1,100 L258.6,99.32 L259.1,104.65 L259.6,104.14 L260.1,107.38 L260.6,97.84 L261.1,102.17 L261.6,103.03 L262.1,94.22 L262.6,101.72 L263.1,104.24 L263.6,98.87 L264.1,97.26 L264.6,110.74 L265.1,96.89 L265.6,107.62 L266.1,103.17 L266.6,103.58 L267.1,99.99 L267.6,98.25 L268.1,107.45 L268.6,109.04 L269.1,98.83 L269.6,106.57 L270.1,102.01 L270.6,104.98 L271.1,101.22 L271.6,99.38 L272.1,96.11 L272.6,95.43 L273.1,101.5 L273.6,101.04 L274.1,97.43 L274.6,95.73 L275.1,98.84 L275.6,103.38 L276.1,105.17 L276.6,105.63 L277.1,102.06 L277.6,104.6 L278.1,97.15 L278.6,107.77 L279.1,102.16 L279.6,98.7 L280.1,98.13 L280.6,97.56 L281.1,100.46 L281.6,104.83 L282.1,98.86 L282.6,107.67 L283.1,102.21 L283.6,95.26 L284.1,97.39 L284.6,98.1 L285.1,99.92 L285.6,108.48 L286.1,110.58 L286.6,106.9 L287.1,102.71 L287.6,98.7 L288.1,105.83 L288.6,98.42 L289.1,100.96 L289.6,101.91 L290.1,104.93 L290.6,102.69 L291.1,92.9 L291.6,103.03 L292.1,100.21 L292.6,102.95 L293.1,106.81 L293.6,95.72 L294.1,102.49 L294.6,105.24 L295.1,95.96 L295.6,106.81 L296.1,104.14 L296.6,104.19 L297.1,98.8 L297.6,103.37 L298.1,104.51 L298.6,98.77 L299.1,99.44 L299.6,98.46 L300.1,102.7 L300.6,102.98 L301.1,105.12 L301.6,103.03 L302.1,100.26 L302.6,96.21 L303.1,98.5 L303.6,105.49 L304.1,98.22 L304.6,98.61 L305.1,102.08 L305.6,94.81 L306.1,103.57 L306.6,106.89 L307.1,104.3 L307.6,104.58 L308.1,103.82 L308.6,102.09 L309.1,101.81 L309.6,97.7 L310.1,103.27 L310.6,105.27 L311.1,109.18 L311.6,100.53 L312.1,103.41 L312.6,103.83 L313.1,100.59 L313.6,100.37 L314.1,100.52 L314.6,101.02 L315.1,108.05 L315.6,98.37 L316.1,97.64 L316.6,96.76 L317.1,103.25 L317.6,104.17 L318.1,96.25 L318.6,105.45 L319.1,98.17 L319.6,107.75 L320.1,102.37 L320.6,105.62 L321.1,96.87 L321.6,105.43 L322.1,102.57 L322.6,99.89 L323.1,96.12 L323.6,105.04 L324.1,104.72 L324.6,100.76 L325.1,105.64 L325.6,105.73 L326.1,106.31 L326.6,98.39 L327.1,104.79 L327.6,102.83 L328.1,99.63 L328.6,102.8 L329.1,100.22 L329.6,106.43" fill="none" stroke="#60709E" stroke-width="1.6" stroke-linejoin="round" />
</g>
<path d="M425.8,99.01 L426.3,99.3 L426.8,99.28 L427.3,98.91 L427.8,99.53 L428.3,99.19 L428.8,99.6 L429.3,99.88 L429.8,99.42 L430.3,100.35 L430.8,100.52 L431.3,100.54 L431.8,100.55 L432.3,100.64 L432.8,100.46 L433.3,100.56 L433.8,99.93 L434.3,99.32 L434.8,97.84 L435.3,97.22 L435.8,96.07 L436.3,94.96 L436.8,94.05 L437.3,93.7 L437.8,92.23 L438.3,92.3 L438.8,91.62 L439.3,91.14 L439.8,90.82 L440.3,90.26 L440.8,90.24 L441.3,90.4 L441.8,90.19 L442.3,89.99 L442.8,89.28 L443.3,89.9 L443.8,90.04 L444.3,89.91 L444.8,89.58 L445.3,88.9 L445.8,89.74 L446.3,89.33 L446.8,88.47 L447.3,89.46 L447.8,88.78 L448.3,88.83 L448.8,89.04 L449.3,89.69 L449.8,89.1 L450.3,89.31 L450.8,89.82 L451.3,89.76 L451.8,89.16 L452.3,89.12 L452.8,88.78 L453.3,89.01 L453.8,89.44 L454.3,89.48 L454.8,89.45 L455.3,89.83 L455.8,89.29 L456.3,89.63 L456.8,89.99 L457.3,90.03 L457.8,90.3 L458.3,90.16 L458.8,90.01 L459.3,90.34 L459.8,89.95 L460.3,89.81 L460.8,90.67 L461.3,90.53 L461.8,90.74 L462.3,90.12 L462.8,90.67 L463.3,90.69 L463.8,90.71 L464.3,90.34 L464.8,91.15 L465.3,91.74 L465.8,91.73 L466.3,91.59 L466.8,92.12 L467.3,92.9 L467.8,92.35 L468.3,94.08 L468.8,95.2 L469.3,96.2 L469.8,97.52 L470.3,98.27 L470.8,98.89 L471.3,99.82 L471.8,100.98 L472.3,101.55 L472.8,102.77 L473.3,104.13 L473.8,105.5 L474.3,105.7 L474.8,106.6 L475.3,107.5 L475.8,108.68 L476.3,108.97 L476.8,110.27 L477.3,110.22 L477.8,111.35 L478.3,112.28 L478.8,113.65 L479.3,114.87 L479.8,115.39 L480.3,117.58 L480.8,119.92 L481.3,120.76 L481.8,121.37 L482.3,123.06 L482.8,123.58 L483.3,124.22 L483.8,124.45 L484.3,125.51 L484.8,125.58 L485.3,126.54 L485.8,126.34 L486.3,126.87 L486.8,127.79 L487.3,127.99 L487.8,128.95 L488.3,129.26 L488.8,129.29 L489.3,130.08 L489.8,130.38 L490.3,131.3 L490.8,131.26 L491.3,131.87 L491.8,133.04 L492.3,134.05 L492.8,134.68 L493.3,134.77 L493.8,135.64 L494.3,136.98 L494.8,137.34 L495.3,138.04 L495.8,139.49 L496.3,140.73 L496.8,141.48 L497.3,142.46 L497.8,143.87 L498.3,146.14 L498.8,147.39 L499.3,149.54 L499.8,151.74 L500.3,154.08 L500.8,156.03 L501.3,158.64 L501.8,160.49 L502.3,163.17 L502.8,165.71 L503.3,169.38 L503.8,171.92 L504.3,174.54 L504.8,177.33 L505.3,179.71 L505.8,182.2 L506.3,183.64 L506.8,185.68 L507.3,186.84 L507.8,187.42 L508.3,185.12 L508.8,181.97 L509.3,178.71 L509.8,175.15 L510.3,170.11 L510.8,165.89 L511.3,162.6 L511.8,158.93 L512.3,155.39 L512.8,151.21 L513.3,148.25 L513.8,144.41 L514.3,140.42 L514.8,137.15 L515.3,133.28 L515.8,131.78 L516.3,129.39 L516.8,127.72 L517.3,126.08 L517.8,124.11 L518.3,122.11 L518.8,121.33 L519.3,119.44 L519.8,118 L520.3,116.28 L520.8,114.76 L521.3,112.53 L521.8,112.36 L522.3,110.81 L522.8,110.14 L523.3,109.78 L523.8,108.57 L524.3,107.46 L524.8,107.33 L525.3,106.82 L525.8,106.7 L526.3,106.57 L526.8,105.53 L527.3,106.07 L527.8,105.16 L528.3,105.55 L528.8,105.18 L529.3,104.9 L529.8,104.79 L530.3,104.44 L530.8,104.23 L531.3,103.68 L531.8,104.09 L532.3,104.58 L532.8,104.48 L533.3,104.1 L533.8,103.74 L534.3,103.12 L534.8,103.73 L535.3,103.08 L535.8,102.95 L536.3,102.76 L536.8,102.78 L537.3,102.48 L537.8,102.5 L538.3,102.04 L538.8,102.19 L539.3,103.02 L539.8,102.1 L540.3,101.94 L540.8,102.12 L541.3,102.09 L541.8,101.35 L542.3,101.58 L542.8,101.88 L543.3,101.56 L543.8,101.41 L544.3,101.82 L544.8,100.95 L545.3,101.13 L545.8,100.84 L546.3,101.46 L546.8,100.18 L547.3,100.56 L547.8,100.54 L548.3,100.9 L548.8,100.82 L549.3,101.05 L549.8,99.96 L550.3,100.74 L550.8,100.34 L551.3,100.17 L551.8,100.56 L552.3,100.01 L552.8,99.58 L553.3,100.14 L553.8,99.71 L554.3,99.98 L554.8,100.3 L555.3,100.25 L555.8,100.67 L556.3,100.02 L556.8,99.52 L557.3,99.77 L557.8,99.69 L558.3,99.56 L558.8,100.12 L559.3,99.72 L559.8,99.23 L560.3,100.15 L560.8,99.85 L561.3,99.99 L561.8,99.89 L562.3,100.06 L562.8,99.84 L563.3,100.25 L563.8,99.96 L564.3,99.94 L564.8,99.95 L565.3,99.29 L565.8,99.74 L566.3,99.71 L566.8,99.87 L567.3,99.33 L567.8,100.38 L568.3,99.85 L568.8,99.39 L569.3,99.22 L569.8,99.73 L570.3,99.8 L570.8,99.59 L571.3,99.88 L571.8,99.63 L572.3,100.06 L572.8,99.63 L573.3,99.88 L573.8,100.24 L574.3,100.81 L574.8,99.57 L575.3,99.78 L575.8,99.66 L576.3,100.24 L576.8,99.58 L577.3,99.83 L577.8,100 L578.3,99.69 L578.8,99.71 L579.3,99.9 L579.8,99.35 L580.3,99.6 L580.8,99.98 L581.3,100.19 L581.8,100.09 L582.3,99.56 L582.8,100.04 L583.3,100.5 L583.8,100.44 L584.3,100.24 L584.8,99.97 L585.3,100.53 L585.8,100.13 L586.3,99.94 L586.8,100.09 L587.3,100.9 L587.8,100.5 L588.3,100.85 L588.8,100.3 L589.3,100.82 L589.8,100.3 L590.3,100.48 L590.8,101.43 L591.3,100.85 L591.8,100.43 L592.3,100.6 L592.8,100.77 L593.3,101.1 L593.8,100.53 L594.3,100.12 L594.8,100.65 L595.3,100.78 L595.8,100.84 L596.3,101.29 L596.8,100.96 L597.3,101.16 L597.8,100.51 L598.3,101.22 L598.8,101.68 L599.3,101.24 L599.8,101.08 L600.3,101.07 L600.8,101.66 L601.3,100.74 L601.8,101.05 L602.3,101.28 L602.8,101.4 L603.3,101.02 L603.8,101.31 L604.3,101.13 L604.8,101.31 L605.3,101.25 L605.8,100.93 L606.3,101.35 L606.8,101.7 L607.3,101.09 L607.8,101.38 L608.3,101.73 L608.8,101.16 L609.3,101.63 L609.8,101.23 L610.3,102.04 L610.8,102.49 L611.3,102.42 L611.8,101.67 L612.3,102.05 L612.8,101.87 L613.3,101.9 L613.8,102.44 L614.3,101.48 L614.8,102.35 L615.3,102 L615.8,102.55 L616.3,102.16 L616.8,101.9 L617.3,102.27 L617.8,102.47 L618.3,102.26 L618.8,102.45 L619.3,102.14 L619.8,101.61 L620.3,102.71 L620.8,102.68 L621.3,102.52 L621.8,102.53 L622.3,102.9 L622.8,102.41 L623.3,102.36 L623.8,102.57 L624.3,103.09 L624.8,102.22 L625.3,103.15 L625.8,102.55 L626.3,102.41 L626.8,103.27 L627.3,102.82 L627.8,102.43 L628.3,102.79 L628.8,103.27 L629.3,103.38 L629.8,102.84 L630.3,103.16 L630.8,103.29 L631.3,102.84 L631.8,103.21 L632.3,103.1 L632.8,102.94 L633.3,102.98 L633.8,103.2 L634.3,103.21 L634.8,103.03 L635.3,103.1 L635.8,103.66 L636.3,103.37 L636.8,103.63 L637.3,103.76 L637.8,103.57 L638.3,104.18 L638.8,103.12 L639.3,103.71 L639.8,103.34 L640.3,104.12 L640.8,104.09 L641.3,102.83 L641.8,103.2 L642.3,103.79 L642.8,103.86 L643.3,103.86 L643.8,103.6 L644.3,103.8 L644.8,103.89 L645.3,103.66 L645.8,104.07 L646.3,102.94 L646.8,103.97 L647.3,103.4 L647.8,104.12 L648.3,103.73 L648.8,103.51 L649.3,103.98 L649.8,103.55 L650.3,103.56 L650.8,103.35 L651.3,103.91 L651.8,104.11 L652.3,104.32 L652.8,103.93 L653.3,104.36 L653.8,104.02 L654.3,104 L654.8,104.25 L655.3,104.43 L655.8,103.96 L656.3,104.01 L656.8,104.06 L657.3,104.16 L657.8,103.83 L658.3,104.52 L658.8,104.04 L659.3,104.36 L659.8,103.92 L660.3,104.35 L660.8,104.38 L661.3,104.11 L661.8,104.98 L662.3,104.41 L662.8,104.92 L663.3,104.65 L663.8,104.09 L664.3,104.2 L664.8,104.5 L665.3,104.38 L665.8,104.39 L666.3,104.29 L666.8,103.77 L667.3,104.33 L667.8,103.65 L668.3,104.56 L668.8,104.19 L669.3,104.2 L669.8,104.39 L670.3,104.57 L670.8,103.98 L671.3,103.88" fill="none" stroke="#E95628" stroke-width="1.7" stroke-linejoin="round" />
<path d="M406.4,107.3 L406.85,107.29 L407.3,103.51 L407.75,105.47 L408.2,105.5 L408.65,105.68 L409.1,112.48 L409.55,104.58 L410,104.56 L410.45,104.02 L410.9,108.8 L411.35,104.16 L411.8,105.19 L412.25,108.29 L412.7,107.9 L413.15,102.34 L413.6,111.26 L414.05,106.34 L414.5,108.49 L414.95,110.13 L415.4,110.92 L415.85,104.31 L416.3,103.42 L416.75,106.73 L417.2,109.85 L417.65,105.36 L418.1,108.3 L418.55,110.41 L419,100.87 L419.45,109.82 L419.9,109.05 L420.35,103.82 L420.8,105.21 L421.25,103.86 L421.7,108.01 L422.15,103.36 L422.6,107.41 L423.05,109.79 L423.5,99.7 L423.95,106.69 L424.4,105.05 L424.85,103.69 L425.3,106.68 L425.75,104.83 L426.2,100.25 L426.65,103.27 L427.1,105.1 L427.55,102.75 L428,100.82 L428.45,113.04 L428.9,109.74 L429.35,109.24 L429.8,105.41 L430.25,98.38 L430.7,104.42 L431.15,106.6 L431.6,103.33 L432.05,102.76 L432.5,105.61 L432.95,106.76 L433.4,105.18 L433.85,104.41 L434.3,101.49 L434.75,108.51 L435.2,104.54 L435.65,103.13 L436.1,102.08 L436.55,100.99 L437,103.41 L437.45,104.09 L437.9,102.48 L438.35,96.87 L438.8,99.42 L439.25,102.66 L439.7,96.87 L440.15,105.84 L440.6,99.46 L441.05,102.64 L441.5,101.34 L441.95,105.42 L442.4,102.66 L442.85,102.75 L443.3,95.54 L443.75,97.16 L444.2,97.1 L444.65,97.36 L445.1,97.8 L445.55,103.53 L446,100.57 L446.45,100.95 L446.9,98.12 L447.35,98.26 L447.8,97.11 L448.25,105.08 L448.7,102.22 L449.15,104.38 L449.6,103.05 L450.05,99.59 L450.5,102.51 L450.95,96.05 L451.4,105.4 L451.85,103.42 L452.3,104.2 L452.75,103.98 L453.2,108.56 L453.65,103.12 L454.1,104.04 L454.55,101.8 L455,103.21 L455.45,105.03 L455.9,106.92 L456.35,100.2 L456.8,99.5 L457.25,98 L457.7,103.14 L458.15,100.16 L458.6,105.87 L459.05,109.2 L459.5,101.47 L459.95,108.2 L460.4,107.91 L460.85,100.92 L461.3,102.57 L461.75,106.33 L462.2,101.43 L462.65,100.8 L463.1,107.2 L463.55,102.15 L464,101.99 L464.45,106.16 L464.9,104.46 L465.35,104.91 L465.8,108.79 L466.25,108.4 L466.7,98.84 L467.15,107.17 L467.6,104.37 L468.05,105.39 L468.5,106.98 L468.95,110.11 L469.4,106.92 L469.85,104.03 L470.3,108.07 L470.75,99.58 L471.2,106.02 L471.65,104.97 L472.1,100.52 L472.55,99.78 L473,99.96 L473.45,101.44 L473.9,105.62 L474.35,103.28 L474.8,101.62 L475.25,101.32 L475.7,107.32 L476.15,102.51 L476.6,100.85 L477.05,109.72 L477.5,100.58 L477.95,104.38 L478.4,105.44 L478.85,103.16 L479.3,101.94 L479.75,106.15 L480.2,102.71 L480.65,104.03 L481.1,101.97 L481.55,106.59 L482,99.36 L482.45,98.32 L482.9,99.27 L483.35,101.13 L483.8,100.66 L484.25,101.54 L484.7,99.39 L485.15,102.14 L485.6,97.24 L486.05,97.51 L486.5,98.72 L486.95,98.55 L487.4,97.57 L487.85,98.51 L488.3,98.03 L488.75,100.13 L489.2,100.91 L489.65,107.3 L490.1,99.28 L490.55,97.27 L491,96.3 L491.45,96.14 L491.9,94.98 L492.35,99.13 L492.8,101.08 L493.25,97.35 L493.7,97.78 L494.15,93.02 L494.6,97.01 L495.05,95.49 L495.5,96.49 L495.95,94.73 L496.4,94.61 L496.85,94.15 L497.3,94.25 L497.75,98.28 L498.2,95.81 L498.65,92.18 L499.1,93.79 L499.55,93.28 L500,96.58 L500.45,90.49 L500.9,93.71 L501.35,93.58 L501.8,95.03 L502.25,93.93 L502.7,90.82 L503.15,88.31 L503.6,88.6 L504.05,88.39 L504.5,88.12 L504.95,86.4 L505.4,84.33 L505.85,85.72 L506.3,83.91 L506.75,82.17 L507.2,81.21 L507.65,80.31 L508.1,79.12 L508.55,83.03 L509,78.8 L509.45,78 L509.9,80.32 L510.35,77.69 L510.8,78.28 L511.25,76.41 L511.7,76.98 L512.15,75.07 L512.6,77.86 L513.05,79.95 L513.5,79.47 L513.95,82.55 L514.4,86.66 L514.85,89.05 L515.3,88.59 L515.75,90.74 L516.2,93.4 L516.65,97.83 L517.1,97.91 L517.55,102.81 L518,107.8 L518.45,112.49 L518.9,117.07 L519.35,120.73 L519.8,127.09 L520.25,129.12 L520.7,137.01 L521.15,139.21 L521.6,144.3 L522.05,146.7 L522.5,153.54 L522.95,156.46 L523.4,164.88 L523.85,167.32 L524.3,169.76 L524.75,171.63 L525.2,173.55 L525.65,179.53 L526.1,180.67 L526.55,183.04 L527,184.51 L527.45,185.89 L527.9,182.58 L528.35,181.96 L528.8,187.02 L529.25,183.71 L529.7,187.11 L530.15,185.67 L530.6,184.43 L531.05,183.52 L531.5,180.65 L531.95,181.53 L532.4,180.37 L532.85,180.02 L533.3,180.77 L533.75,175.96 L534.2,175.66 L534.65,175.12 L535.1,169.86 L535.55,167.71 L536,166.01 L536.45,163.87 L536.9,161.63 L537.35,163.12 L537.8,162.81 L538.25,160.13 L538.7,157.16 L539.15,155.62 L539.6,155.3 L540.05,152.44 L540.5,151.67 L540.95,149.56 L541.4,149.82 L541.85,147.6 L542.3,145.02 L542.75,141.25 L543.2,140.15 L543.65,139.98 L544.1,139.63 L544.55,134.5 L545,137.43 L545.45,131.53 L545.9,130.25 L546.35,130.2 L546.8,127.58 L547.25,127.6 L547.7,126.76 L548.15,124.94 L548.6,123.76 L549.05,124.83 L549.5,125.17 L549.95,126.09 L550.4,121.96 L550.85,118.49 L551.3,119.47 L551.75,116.75 L552.2,119.03 L552.65,117 L553.1,118.19 L553.55,116.5 L554,116.38 L554.45,115.07 L554.9,118.23 L555.35,111.23 L555.8,116.48 L556.25,120.33 L556.7,114.75 L557.15,113.74 L557.6,113.77 L558.05,111.74 L558.5,110.1 L558.95,113.85 L559.4,113.51 L559.85,113.7 L560.3,111.16 L560.75,113.67 L561.2,112.53 L561.65,115.24 L562.1,110.72 L562.55,105.46 L563,107.77 L563.45,111.07 L563.9,106.48 L564.35,111.46 L564.8,107.68 L565.25,109.66 L565.7,109.89 L566.15,106.71 L566.6,109.8 L567.05,111.65 L567.5,106.94 L567.95,107.34 L568.4,106.38 L568.85,109.58 L569.3,110.39 L569.75,105.68 L570.2,106.17 L570.65,109.47 L571.1,107.14 L571.55,111.67 L572,106.49 L572.45,104.98 L572.9,102.75 L573.35,104.22 L573.8,100.85 L574.25,106.58 L574.7,110.64 L575.15,100.77 L575.6,101.07 L576.05,101.6 L576.5,104.32 L576.95,101.84 L577.4,107.07 L577.85,107.57 L578.3,102.2 L578.75,103.42 L579.2,101.77 L579.65,105.99 L580.1,105.34 L580.55,100.76 L581,102.42 L581.45,100.44 L581.9,105.4 L582.35,105.4 L582.8,95.62 L583.25,103.38 L583.7,111.25 L584.15,110.88 L584.6,101.72 L585.05,104.67 L585.5,103.55 L585.95,106.32 L586.4,101.52 L586.85,107.01 L587.3,108.65 L587.75,109.51 L588.2,101 L588.65,111.74 L589.1,103.01 L589.55,101.6 L590,109.93 L590.45,109.22 L590.9,110.33 L591.35,109.45 L591.8,108.82 L592.25,107.75 L592.7,103.25 L593.15,105.65 L593.6,106.82 L594.05,110.72 L594.5,111.95 L594.95,106.53 L595.4,105.11 L595.85,104.54 L596.3,110.06 L596.75,105.11 L597.2,114.11 L597.65,107.93 L598.1,107.84 L598.55,109.61 L599,107.43 L599.45,104.66 L599.9,107.91 L600.35,108.95 L600.8,106.07 L601.25,107.03 L601.7,107.66 L602.15,101.86 L602.6,105.37 L603.05,107.47 L603.5,104.31 L603.95,109.6 L604.4,109.79 L604.85,97.78 L605.3,106.27 L605.75,109.6 L606.2,107.19 L606.65,109.9 L607.1,110.28 L607.55,103.41 L608,109.16 L608.45,105.51 L608.9,100.95 L609.35,110.08 L609.8,105.98 L610.25,108.1 L610.7,110.74 L611.15,111.79 L611.6,107.75 L612.05,105.64 L612.5,106.57 L612.95,112.15 L613.4,107.61 L613.85,114.46 L614.3,113.76 L614.75,106.54 L615.2,114.62 L615.65,106.93 L616.1,108.43 L616.55,108.64 L617,105.49 L617.45,109.16 L617.9,110.86 L618.35,116.27 L618.8,113.23 L619.25,107.07 L619.7,109.86 L620.15,112.54 L620.6,108.47 L621.05,106.22 L621.5,108.45 L621.95,105.15 L622.4,109.04 L622.85,107.09 L623.3,112.56 L623.75,107.99 L624.2,104.75 L624.65,111.02 L625.1,102.36 L625.55,105.74 L626,109.61 L626.45,106.07 L626.9,103.04 L627.35,104.74 L627.8,112.06 L628.25,113.21 L628.7,108.24 L629.15,106.69 L629.6,102.77 L630.05,111.12 L630.5,107.85 L630.95,110.19 L631.4,107.37 L631.85,108.19 L632.3,109.9 L632.75,109.63 L633.2,106.49 L633.65,109.16 L634.1,113.5 L634.55,100.17 L635,111.52 L635.45,109.35 L635.9,109.17 L636.35,110.94 L636.8,106.7 L637.25,102.02 L637.7,106.07 L638.15,106.8 L638.6,100.36 L639.05,109.63 L639.5,109.5 L639.95,104.06 L640.4,108.01 L640.85,108 L641.3,107.86 L641.75,107.7 L642.2,111.15 L642.65,108.48 L643.1,114.4 L643.55,108.54 L644,112.06 L644.45,112.37 L644.9,102.92 L645.35,108.74 L645.8,109.43 L646.25,109.86 L646.7,109.48 L647.15,109.5 L647.6,110.88 L648.05,107.21 L648.5,111.93 L648.95,107.43 L649.4,109.3 L649.85,106.27 L650.3,103.73 L650.75,104.4 L651.2,112.85 L651.65,110.53 L652.1,105.94 L652.55,110.36 L653,108.03 L653.45,105.38 L653.9,112.82 L654.35,106.66 L654.8,109.77 L655.25,115.92 L655.7,106.93 L656.15,108.79 L656.6,109.21 L657.05,110.84 L657.5,105.71 L657.95,104.25 L658.4,110.76 L658.85,103.85 L659.3,109.61 L659.75,106.27 L660.2,108.03 L660.65,109.47 L661.1,102.19 L661.55,114.95 L662,103.46 L662.45,104.19 L662.9,115.81 L663.35,97.74 L663.8,105.02 L664.25,108.64 L664.7,106.64 L665.15,107.41 L665.6,106.6 L666.05,106.72 L666.5,106.37 L666.95,113.93 L667.4,109.58 L667.85,104.09 L668.3,106.51 L668.75,110.34 L669.2,111.9 L669.65,106.52 L670.1,107.08 L670.55,99.56 L671,105.26 L671.45,112.79" fill="none" stroke="#FF2891" stroke-width="1.6" stroke-linejoin="round" />
<path d="M406.4,104.77 L406.9,109.5 L407.4,112.16 L407.9,104.82 L408.4,104.15 L408.9,108.84 L409.4,105.23 L409.9,107.95 L410.4,104.56 L410.9,107.05 L411.4,102.03 L411.9,96.65 L412.4,109.85 L412.9,104.47 L413.4,101.68 L413.9,104.53 L414.4,100.79 L414.9,100.85 L415.4,97.72 L415.9,96.85 L416.4,100.16 L416.9,106.38 L417.4,107.99 L417.9,105.29 L418.4,100.45 L418.9,110.35 L419.4,108.68 L419.9,105.19 L420.4,105.15 L420.9,104.69 L421.4,101.44 L421.9,110.4 L422.4,106.76 L422.9,104.75 L423.4,104.87 L423.9,104.51 L424.4,110.43 L424.9,103.98 L425.4,95.5 L425.9,105.12 L426.4,108.26 L426.9,107.46 L427.4,103.62 L427.9,99.13 L428.4,118.11 L428.9,101.44 L429.4,105.5 L429.9,104.42 L430.4,102.6 L430.9,103.4 L431.4,100.91 L431.9,101.63 L432.4,103.05 L432.9,111.95 L433.4,113.7 L433.9,101.27 L434.4,108.96 L434.9,105.12 L435.4,103.41 L435.9,99.68 L436.4,104.59 L436.9,101.03 L437.4,105.81 L437.9,106.08 L438.4,100.42 L438.9,108.98 L439.4,104.25 L439.9,105.02 L440.4,101.88 L440.9,103.61 L441.4,108.79 L441.9,110.95 L442.4,105.79 L442.9,108.55 L443.4,112.13 L443.9,97.27 L444.4,104.55 L444.9,109.74 L445.4,105.92 L445.9,104.75 L446.4,100.2 L446.9,105.94 L447.4,102.32 L447.9,106.31 L448.4,97.71 L448.9,101.04 L449.4,110.64 L449.9,109.99 L450.4,106.62 L450.9,106.28 L451.4,96.9 L451.9,106.88 L452.4,102.67 L452.9,97.17 L453.4,101.35 L453.9,101.12 L454.4,107.45 L454.9,105.71 L455.4,113.76 L455.9,110.48 L456.4,105.39 L456.9,107.14 L457.4,100.7 L457.9,108.33 L458.4,104.02 L458.9,105.9 L459.4,106.57 L459.9,105.55 L460.4,103.88 L460.9,108.11 L461.4,108.22 L461.9,96.22 L462.4,103.2 L462.9,104.76 L463.4,103.31 L463.9,106.03 L464.4,108.56 L464.9,105.97 L465.4,104.9 L465.9,109.27 L466.4,106.9 L466.9,106.66 L467.4,113.19 L467.9,109.65 L468.4,102.09 L468.9,110.62 L469.4,104.2 L469.9,106.54 L470.4,99.01 L470.9,109.34 L471.4,99.37 L471.9,107.23 L472.4,113.2 L472.9,107.77 L473.4,109.03 L473.9,101.88 L474.4,104.36 L474.9,108.6 L475.4,97.01 L475.9,101.41 L476.4,109.69 L476.9,103.57 L477.4,109.22 L477.9,107.45 L478.4,101.99 L478.9,104.64 L479.4,110.14 L479.9,104.04 L480.4,105.08 L480.9,107.12 L481.4,103.31 L481.9,104.26 L482.4,107.01 L482.9,104.62 L483.4,100.11 L483.9,102.16 L484.4,111.57 L484.9,105.27 L485.4,103.54 L485.9,115.44 L486.4,108.88 L486.9,99.4 L487.4,104.13 L487.9,100.37 L488.4,108.22 L488.9,102.01 L489.4,98.31 L489.9,113.62 L490.4,103.77 L490.9,105.86 L491.4,106.98 L491.9,109.02 L492.4,109.13 L492.9,110.48 L493.4,103.89 L493.9,107.22 L494.4,100.66 L494.9,105.82 L495.4,103.82 L495.9,110.99 L496.4,106.72 L496.9,107.84 L497.4,104.69 L497.9,103.13 L498.4,104.3 L498.9,103.73 L499.4,105.66 L499.9,104.03 L500.4,105.74 L500.9,108.59 L501.4,102.48 L501.9,103.45 L502.4,101.78 L502.9,110.62 L503.4,109.07 L503.9,105.19 L504.4,103.23 L504.9,99.71 L505.4,104.28 L505.9,100.97 L506.4,101.08 L506.9,99.46 L507.4,90.72 L507.9,93.25 L508.4,95.5 L508.9,97.44 L509.4,92.34 L509.9,94.63 L510.4,92.32 L510.9,89.48 L511.4,95.74 L511.9,88.21 L512.4,87.5 L512.9,95.33 L513.4,94.78 L513.9,91.6 L514.4,94.15 L514.9,89.37 L515.4,90.64 L515.9,92.54 L516.4,92.74 L516.9,93.46 L517.4,88.62 L517.9,95.05 L518.4,90.07 L518.9,96.39 L519.4,101.63 L519.9,98.2 L520.4,95.02 L520.9,97.17 L521.4,97.24 L521.9,96.13 L522.4,95.73 L522.9,96.82 L523.4,94.91 L523.9,98.64 L524.4,103.85 L524.9,96.95 L525.4,95.67 L525.9,91.1 L526.4,96.77 L526.9,92.9 L527.4,95.99 L527.9,91.29 L528.4,94.68 L528.9,87.62 L529.4,87.01 L529.9,86.29 L530.4,84.98 L530.9,85.53 L531.4,84.36 L531.9,78.73 L532.4,79.95 L532.9,80.88 L533.4,84.79 L533.9,82.77 L534.4,86.04 L534.9,86.6 L535.4,86.18 L535.9,81.1 L536.4,93.02 L536.9,91.07 L537.4,90.47 L537.9,94.63 L538.4,93.8 L538.9,96.31 L539.4,94.81 L539.9,103.39 L540.4,98.94 L540.9,100.65 L541.4,98.81 L541.9,104.17 L542.4,107.78 L542.9,107.79 L543.4,109.01 L543.9,115.74 L544.4,118.24 L544.9,124.61 L545.4,126.83 L545.9,130.75 L546.4,133.11 L546.9,138.15 L547.4,142.93 L547.9,148.74 L548.4,149.27 L548.9,154.69 L549.4,155.41 L549.9,158.2 L550.4,159.47 L550.9,164.97 L551.4,166.39 L551.9,164.68 L552.4,170.21 L552.9,170.32 L553.4,173.73 L553.9,175.46 L554.4,180.77 L554.9,178.56 L555.4,177.43 L555.9,178.58 L556.4,179.5 L556.9,180.36 L557.4,183.81 L557.9,181.72 L558.4,184.1 L558.9,185.7 L559.4,178.9 L559.9,181.1 L560.4,184.11 L560.9,179.46 L561.4,175.47 L561.9,176.2 L562.4,172.23 L562.9,169.12 L563.4,171.98 L563.9,165.61 L564.4,164.52 L564.9,164.1 L565.4,164.86 L565.9,162.48 L566.4,157.19 L566.9,156.81 L567.4,153.85 L567.9,154.79 L568.4,151.14 L568.9,146.15 L569.4,139.6 L569.9,143.56 L570.4,140.15 L570.9,140.61 L571.4,139.55 L571.9,134.6 L572.4,134.66 L572.9,138.42 L573.4,130 L573.9,128.03 L574.4,124.14 L574.9,124.63 L575.4,113.17 L575.9,122.38 L576.4,120.81 L576.9,118.83 L577.4,125.22 L577.9,115.09 L578.4,114.2 L578.9,112.75 L579.4,113.57 L579.9,108.98 L580.4,109.14 L580.9,109.91 L581.4,112.64 L581.9,107.55 L582.4,111.07 L582.9,104.04 L583.4,108.55 L583.9,101.65 L584.4,101.41 L584.9,102.35 L585.4,100.08 L585.9,101.17 L586.4,103.19 L586.9,103.34 L587.4,95.58 L587.9,102.76 L588.4,103.89 L588.9,99.78 L589.4,107.02 L589.9,101.68 L590.4,101.91 L590.9,96.54 L591.4,108.84 L591.9,107.75 L592.4,105.24 L592.9,106.75 L593.4,98.64 L593.9,99.12 L594.4,102.41 L594.9,101.13 L595.4,97.21 L595.9,101.73 L596.4,104.02 L596.9,100.3 L597.4,106.24 L597.9,102.37 L598.4,99.68 L598.9,95.12 L599.4,97.36 L599.9,104.4 L600.4,96.5 L600.9,103.59 L601.4,100.84 L601.9,97 L602.4,102.78 L602.9,101.98 L603.4,108.18 L603.9,103.44 L604.4,101.41 L604.9,103.9 L605.4,106.66 L605.9,99.09 L606.4,99.4 L606.9,105.17 L607.4,109.46 L607.9,97.58 L608.4,109.99 L608.9,104.16 L609.4,105.37 L609.9,96.02 L610.4,101.12 L610.9,100.5 L611.4,110.57 L611.9,98.02 L612.4,103.03 L612.9,108.04 L613.4,102.31 L613.9,105.41 L614.4,102.97 L614.9,100.01 L615.4,104.76 L615.9,102.81 L616.4,100.58 L616.9,102.64 L617.4,96.78 L617.9,100.41 L618.4,100.98 L618.9,108.04 L619.4,106.08 L619.9,103.81 L620.4,102.2 L620.9,101.97 L621.4,102.1 L621.9,99.53 L622.4,108.05 L622.9,99.66 L623.4,105.9 L623.9,105.87 L624.4,101.79 L624.9,102.24 L625.4,97.95 L625.9,101.88 L626.4,100.46 L626.9,105.74 L627.4,100.21 L627.9,100.39 L628.4,104.88 L628.9,96.26 L629.4,100.05 L629.9,106.64 L630.4,101.88 L630.9,105.43 L631.4,91.85 L631.9,99.92 L632.4,101.7 L632.9,97.26 L633.4,105.41 L633.9,97.07 L634.4,100.13 L634.9,97.3 L635.4,99.79 L635.9,101.4 L636.4,94.25 L636.9,102.63 L637.4,99.25 L637.9,107.08 L638.4,101.03 L638.9,98.55 L639.4,105.92 L639.9,108.35 L640.4,103.56 L640.9,103.91 L641.4,96.6 L641.9,99.81 L642.4,105.16 L642.9,104.18 L643.4,95.66 L643.9,104.78 L644.4,96.02 L644.9,104.3 L645.4,108.06 L645.9,101.15 L646.4,105.78 L646.9,100.19 L647.4,101.33 L647.9,103.6 L648.4,105.43 L648.9,100.51 L649.4,112.14 L649.9,102.02 L650.4,90.99 L650.9,104.06 L651.4,104.3 L651.9,91.65 L652.4,97.8 L652.9,104.94 L653.4,102.92 L653.9,99.51 L654.4,98.95 L654.9,102.35 L655.4,101.2 L655.9,104.75 L656.4,103.45 L656.9,108.02 L657.4,100.58 L657.9,104.35 L658.4,104.35 L658.9,102.65 L659.4,105.34 L659.9,96.9 L660.4,101.37 L660.9,109.43 L661.4,104.8 L661.9,102.83 L662.4,105.26 L662.9,102.15 L663.4,98.68 L663.9,103.34 L664.4,105.75 L664.9,101.39 L665.4,108.26 L665.9,97.72 L666.4,102.43 L666.9,100.45 L667.4,109.97 L667.9,110.96 L668.4,98.34 L668.9,102.43 L669.4,99.9 L669.9,106.77 L670.4,102.31 L670.9,105.99 L671.4,102.17" fill="none" stroke="#60709E" stroke-width="1.6" stroke-linejoin="round" />
<path d="M226.1,14.3 H256.5" stroke="#E95628" stroke-width="1.8" stroke-linecap="round"/>
<text x="260.2" y="19.1" font-size="13.8" text-anchor="start" >Monomer</text>
<path d="M226.1,31.5 H256.5" stroke="#FF2891" stroke-width="1.8" stroke-linecap="round"/>
<text x="260.2" y="36.3" font-size="13.8" text-anchor="start" >Dimer</text>
<path d="M226.1,48.3 H256.5" stroke="#A84EA8" stroke-width="1.8" stroke-linecap="round"/>
<text x="260.2" y="53.1" font-size="13.8" text-anchor="start" >Trimer</text>
<path d="M226.1,65.7 H256.5" stroke="#60709E" stroke-width="1.8" stroke-linecap="round"/>
<text x="260.2" y="70.5" font-size="13.8" text-anchor="start" >Tetramer</text>
<path d="M567.1,17.9 H597.5" stroke="#E95628" stroke-width="1.8" stroke-linecap="round"/>
<text x="601.8" y="22.7" font-size="13.8" text-anchor="start" >Monomer</text>
<path d="M567.1,34.9 H597.5" stroke="#FF2891" stroke-width="1.8" stroke-linecap="round"/>
<text x="601.8" y="39.7" font-size="13.8" text-anchor="start" >Dimer</text>
<path d="M567.1,51.9 H597.5" stroke="#60709E" stroke-width="1.8" stroke-linecap="round"/>
<text x="601.8" y="56.7" font-size="13.8" text-anchor="start" >Tetramer</text>
<path d="M64.6,270.3 H329.8 V478.9 H64.6 Z" fill="none" stroke="#2a2a2a" stroke-width="1.35"/>
<path d="M94.07,478.9 V473.9 M153,478.9 V473.9 M211.93,478.9 V473.9 M270.87,478.9 V473.9 M123.53,478.9 V475.9 M182.47,478.9 V475.9 M241.4,478.9 V475.9 M300.33,478.9 V475.9 M64.6,270.3 H69.6 M64.6,312.02 H69.6 M64.6,353.74 H69.6 M64.6,395.46 H69.6 M64.6,437.18 H69.6 M64.6,478.9 H69.6 M64.6,291.16 H67.6 M64.6,332.88 H67.6 M64.6,374.6 H67.6 M64.6,416.32 H67.6 M64.6,458.04 H67.6" stroke="#2a2a2a" stroke-width="1.2" fill="none"/>
<text x="94.07" y="499.1" font-size="17.5" text-anchor="middle" >0</text>
<text x="153" y="499.1" font-size="17.5" text-anchor="middle" >100</text>
<text x="211.93" y="499.1" font-size="17.5" text-anchor="middle" >200</text>
<text x="270.87" y="499.1" font-size="17.5" text-anchor="middle" >300</text>
<text x="329.8" y="499.1" font-size="17.5" text-anchor="middle" >400</text>
<text x="58.4" y="275.7" font-size="17.5" text-anchor="end" >0.01</text>
<text x="58.4" y="317.42" font-size="17.5" text-anchor="end" >0.00</text>
<text x="58.4" y="359.14" font-size="17.5" text-anchor="end" >-0.01</text>
<text x="58.4" y="400.86" font-size="17.5" text-anchor="end" >-0.02</text>
<text x="58.4" y="442.58" font-size="17.5" text-anchor="end" >-0.03</text>
<text x="58.4" y="484.3" font-size="17.5" text-anchor="end" >-0.04</text>
<text x="197.2" y="520.3" font-size="17.7" text-anchor="middle" >Time (&#956;s)</text>
<text transform="translate(12.2,374.6) rotate(-90)" font-size="17.5" text-anchor="middle">&#916; O.D.</text>
<text x="73" y="291.5" font-size="22" text-anchor="start" >c</text>
<path d="M406.4,270.3 H671.6 V478.9 H406.4 Z" fill="none" stroke="#2a2a2a" stroke-width="1.35"/>
<path d="M435.87,478.9 V473.9 M494.8,478.9 V473.9 M553.73,478.9 V473.9 M612.67,478.9 V473.9 M465.33,478.9 V475.9 M524.27,478.9 V475.9 M583.2,478.9 V475.9 M642.13,478.9 V475.9 M406.4,270.3 H411.4 M406.4,312.02 H411.4 M406.4,353.74 H411.4 M406.4,395.46 H411.4 M406.4,437.18 H411.4 M406.4,478.9 H411.4 M406.4,291.16 H409.4 M406.4,332.88 H409.4 M406.4,374.6 H409.4 M406.4,416.32 H409.4 M406.4,458.04 H409.4" stroke="#2a2a2a" stroke-width="1.2" fill="none"/>
<text x="435.87" y="499.1" font-size="17.5" text-anchor="middle" >0</text>
<text x="494.8" y="499.1" font-size="17.5" text-anchor="middle" >100</text>
<text x="553.73" y="499.1" font-size="17.5" text-anchor="middle" >200</text>
<text x="612.67" y="499.1" font-size="17.5" text-anchor="middle" >300</text>
<text x="671.6" y="499.1" font-size="17.5" text-anchor="middle" >400</text>
<text x="400.2" y="275.7" font-size="17.5" text-anchor="end" >0.01</text>
<text x="400.2" y="317.42" font-size="17.5" text-anchor="end" >0.00</text>
<text x="400.2" y="359.14" font-size="17.5" text-anchor="end" >-0.01</text>
<text x="400.2" y="400.86" font-size="17.5" text-anchor="end" >-0.02</text>
<text x="400.2" y="442.58" font-size="17.5" text-anchor="end" >-0.03</text>
<text x="400.2" y="484.3" font-size="17.5" text-anchor="end" >-0.04</text>
<text x="539" y="520.3" font-size="17.7" text-anchor="middle" >Time (&#956;s)</text>
<text transform="translate(354,374.6) rotate(-90)" font-size="17.5" text-anchor="middle">&#916; O.D.</text>
<text x="414.8" y="291.5" font-size="22" text-anchor="start" >d</text>
<path d="M64.6,312.02 H329.8" stroke="#555" stroke-width="1.2"/>
<path d="M64.6,306.23 L65.4,304.91 L66.2,304.22 L67,307.38 L67.8,303.9 L68.6,304.93 L69.4,303.87 L70.2,304.89 L71,303.11 L71.8,306.06 L72.6,301.89 L73.4,303.03 L74.2,306.64 L75,304.12 L75.8,304.55 L76.6,308.93 L77.4,304.25 L78.2,306.61 L79,305.94 L79.8,306.64 L80.6,306.29 L81.4,305.09 L82.2,305.24 L83,307.35 L83.8,305.97 L84.6,308.13 L85.4,306.35 L86.2,305.52 L87,303.73 L87.8,299.08 L88.6,306.65 L89.4,306.86 L90.2,307.09 L91,299.5 L91.8,303.56 L92.6,305.4 L93.4,304.05 L93.4,320.21 L92.6,320.72 L91.8,324.32 L91,327.5 L90.2,326.93 L89.4,322.9 L88.6,326.1 L87.8,324.97 L87,322.71 L86.2,324.66 L85.4,322.71 L84.6,323.48 L83.8,322.76 L83,323.66 L82.2,321.79 L81.4,322.13 L80.6,324.34 L79.8,321.97 L79,323.34 L78.2,321.21 L77.4,323.48 L76.6,322.14 L75.8,323.8 L75,322.01 L74.2,324.83 L73.4,325.12 L72.6,322 L71.8,320.92 L71,321.09 L70.2,324.29 L69.4,322.62 L68.6,324.71 L67.8,323.04 L67,319.18 L66.2,319.95 L65.4,326.45 L64.6,324.07Z" fill="#60709E" stroke="#60709E" stroke-width="0.6" stroke-linejoin="round"/>
<path d="M64.6,301.74 L65.4,299.62 L66.2,303.14 L67,302.12 L67.8,304.08 L68.6,305.85 L69.4,300.59 L70.2,302.39 L71,306.2 L71.8,304.69 L72.6,304.03 L73.4,302.59 L74.2,301.11 L75,302.64 L75.8,303.75 L76.6,302.4 L77.4,303.44 L78.2,302.83 L79,304.1 L79.8,304.91 L80.6,301.18 L81.4,303.58 L82.2,302.93 L83,304 L83.8,303.92 L84.6,303.63 L85.4,302.12 L86.2,301.27 L87,302.29 L87.8,303.93 L88.6,298.91 L89.4,301.84 L90.2,301.69 L91,303.92 L91.8,303.47 L92.6,302.19 L93.4,305.71 L93.4,316.43 L92.6,317.67 L91.8,318.24 L91,317.68 L90.2,318.32 L89.4,318.26 L88.6,315 L87.8,315.81 L87,315.55 L86.2,316.61 L85.4,316.85 L84.6,317.61 L83.8,317.85 L83,317.56 L82.2,318.76 L81.4,318.11 L80.6,315.78 L79.8,318.29 L79,319.67 L78.2,317.42 L77.4,315.48 L76.6,316.59 L75.8,319.58 L75,319.59 L74.2,319.82 L73.4,317.07 L72.6,317.69 L71.8,320.55 L71,317.09 L70.2,316.39 L69.4,319.07 L68.6,315.78 L67.8,317.77 L67,318.24 L66.2,321.24 L65.4,318.2 L64.6,316.44Z" fill="#A84EA8" stroke="#A84EA8" stroke-width="0.6" stroke-linejoin="round"/>
<path d="M94.24,315.58 L94.94,317.15 L95.64,312.16 L96.34,314.87 L97.04,314.65 L97.74,315.75 L98.44,315.39 L99.14,315.02 L99.84,315.19 L100.54,316.23 L101.24,314.63 L101.94,314.78 L102.64,315.56 L103.34,316.33 L104.04,316.53 L104.74,316.69 L105.44,315.01 L106.14,315.82 L106.84,312.63 L107.54,316.5 L108.24,309.85 L108.94,315.29 L109.64,316.05 L110.34,313.95 L111.04,315.1 L111.74,314.26 L112.44,313.86 L113.14,314.62 L113.84,315.89 L114.54,315.01 L115.24,313.93 L115.94,316.04 L116.64,314.51 L117.34,315.46 L118.04,315.83 L118.74,315.92 L119.44,316.59 L120.14,315.52 L120.84,314.67 L121.54,317.72 L122.24,315.67 L122.94,314.87 L123.64,315.64 L124.34,314.16 L125.04,316.16 L125.74,314.19 L126.44,310.44 L127.14,314.59 L127.84,316.05 L128.54,312.81 L129.24,315.4 L129.94,314.41 L130.64,316.32 L131.34,315.97 L132.04,314.55 L132.74,316.83 L133.44,314.46 L134.14,312.77 L134.84,316.84 L135.54,315.38 L136.24,313.91 L136.94,315.45 L137.64,313.92 L138.34,314.76 L139.04,317.14 L139.74,317.99 L140.44,312.39 L141.14,313.77 L141.84,316.04 L142.54,313.35 L143.24,316.99 L143.94,314.09 L144.64,315.16 L145.34,315.06 L146.04,315.36 L146.74,315.75 L147.44,315 L148.14,316.3 L148.84,313.68 L149.54,316.37 L150.24,314.07 L150.94,316.2 L151.64,316.54 L152.34,314 L153.04,314.34 L153.74,311.94 L154.44,312.48 L155.14,315.74 L155.84,313.53 L156.54,314.31 L157.24,310.29 L157.94,316.1 L158.64,315.17 L159.34,315.37 L160.04,315.83 L160.74,312.2 L161.44,314.98 L162.14,315.04 L162.84,315.85 L163.54,310.47 L164.24,316.87 L164.94,312.81 L165.64,311.84 L166.34,314.36 L167.04,313.69 L167.74,315.06 L168.44,315.45 L169.14,315.31 L169.84,315.56 L170.54,312.14 L171.24,313.2 L171.94,315.19 L172.64,312.75 L173.34,314 L174.04,312.07 L174.74,315.19 L175.44,315.44 L176.14,315.31 L176.84,317.3 L177.54,313.52 L178.24,313.88 L178.94,314.31 L179.64,314.33 L180.34,313.23 L181.04,315.59 L181.74,313.97 L182.44,313.94 L183.14,313.39 L183.84,312.49 L184.54,313.77 L185.24,315.37 L185.94,313.67 L186.64,314.69 L187.34,314.25 L188.04,306.81 L188.74,314.69 L189.44,314.38 L190.14,314.68 L190.84,313.36 L191.54,311.92 L192.24,314.32 L192.94,313.25 L193.64,314.64 L194.34,309.62 L195.04,314.13 L195.74,312.93 L196.44,313.96 L197.14,312.93 L197.84,314.74 L198.54,312.5 L199.24,313.87 L199.94,313.39 L200.64,312.35 L201.34,316.97 L202.04,312.34 L202.74,311 L203.44,314.4 L204.14,311.53 L204.84,314.35 L205.54,313.23 L206.24,314.24 L206.94,315.67 L207.64,315.41 L208.34,316.28 L209.04,311.84 L209.74,315.36 L210.44,316.28 L211.14,313.69 L211.84,314.28 L212.54,313.44 L213.24,316.87 L213.94,308.13 L214.64,312.15 L215.34,314.75 L216.04,316 L216.74,316.76 L217.44,312.94 L218.14,314.3 L218.84,313.64 L219.54,314.39 L220.24,316.33 L220.94,314.86 L221.64,314.25 L222.34,315.27 L223.04,313.78 L223.74,315.1 L224.44,312.94 L225.14,316.73 L225.84,313.56 L226.54,314.09 L227.24,312.91 L227.94,312.32 L228.64,313.26 L229.34,313.68 L230.04,314.79 L230.74,312.6 L231.44,313.87 L232.14,313.42 L232.84,314.05 L233.54,313.69 L234.24,314.76 L234.94,310.54 L235.64,313.61 L236.34,314.36 L237.04,312.77 L237.74,313.36 L238.44,314.39 L239.14,312.82 L239.84,313.72 L240.54,313.4 L241.24,312.31 L241.94,313.33 L242.64,313.21 L243.34,313.01 L244.04,311.92 L244.74,313.83 L245.44,312.11 L246.14,312.73 L246.84,313.05 L247.54,315.27 L248.24,313.44 L248.94,315.47 L249.64,314.44 L250.34,314.03 L251.04,314.3 L251.74,315.4 L252.44,312.47 L253.14,313.94 L253.84,311.91 L254.54,313.64 L255.24,315.99 L255.94,311.79 L256.64,312.38 L257.34,311.44 L258.04,314.03 L258.74,316.31 L259.44,313.43 L260.14,315.02 L260.84,312.33 L261.54,311.56 L262.24,315.18 L262.94,312.28 L263.64,315.05 L264.34,316.56 L265.04,311.29 L265.74,314.64 L266.44,315.1 L267.14,312.47 L267.84,313.26 L268.54,315.73 L269.24,312.31 L269.94,312.47 L270.64,313.05 L271.34,315.91 L272.04,313.57 L272.74,315.99 L273.44,313.29 L274.14,312.76 L274.84,312.39 L275.54,314.64 L276.24,311.67 L276.94,313.71 L277.64,313.88 L278.34,314.46 L279.04,312.86 L279.74,312.69 L280.44,313.52 L281.14,314.4 L281.84,311.69 L282.54,313.06 L283.24,312.29 L283.94,312.62 L284.64,313.2 L285.34,314.24 L286.04,314.11 L286.74,313.81 L287.44,316.62 L288.14,314.19 L288.84,312.16 L289.54,313.21 L290.24,315.17 L290.94,312.76 L291.64,313.84 L292.34,311.93 L293.04,313.59 L293.74,314.4 L294.44,313.1 L295.14,309.4 L295.84,312.46 L296.54,314.05 L297.24,311.62 L297.94,313.6 L298.64,314.87 L299.34,314.02 L300.04,313.75 L300.74,312.05 L301.44,312.63 L302.14,313.23 L302.84,312.05 L303.54,312.66 L304.24,311.92 L304.94,313.61 L305.64,311.21 L306.34,315.62 L307.04,314.82 L307.74,313.05 L308.44,312.05 L309.14,311.19 L309.84,312.75 L310.54,312.94 L311.24,312.54 L311.94,312.72 L312.64,313.05 L313.34,314.6 L314.04,314.08 L314.74,313.05 L315.44,314.92 L316.14,311.15 L316.84,311.73 L317.54,313.45 L318.24,314.34 L318.94,314.87 L319.64,314.01 L320.34,312.29 L321.04,311.88 L321.74,313.13 L322.44,312.42 L323.14,312.29 L323.84,313.29 L324.54,309.91 L325.24,311.15 L325.94,312.16 L326.64,311.17 L327.34,313.57 L328.04,313.39 L328.74,312.65 L329.44,313.47 L329.44,329.55 L328.74,331.88 L328.04,330.18 L327.34,329.3 L326.64,331.37 L325.94,328.59 L325.24,331.16 L324.54,328.48 L323.84,330.82 L323.14,330.89 L322.44,332.89 L321.74,330.17 L321.04,333.03 L320.34,329.52 L319.64,333.01 L318.94,331.63 L318.24,327.1 L317.54,331.51 L316.84,329.35 L316.14,328.9 L315.44,331.57 L314.74,332.09 L314.04,332.34 L313.34,330.07 L312.64,328.5 L311.94,331.08 L311.24,329.88 L310.54,330.2 L309.84,331.42 L309.14,328.51 L308.44,329.9 L307.74,331.61 L307.04,329.22 L306.34,331.76 L305.64,329.3 L304.94,334.51 L304.24,330.58 L303.54,331.23 L302.84,330.27 L302.14,331.27 L301.44,328.77 L300.74,331.95 L300.04,330.23 L299.34,331 L298.64,328.88 L297.94,330.38 L297.24,329.91 L296.54,327.88 L295.84,330.46 L295.14,331.02 L294.44,331.63 L293.74,329.48 L293.04,327.55 L292.34,329.99 L291.64,326.53 L290.94,331.64 L290.24,329.86 L289.54,330.22 L288.84,329.71 L288.14,331.79 L287.44,329.59 L286.74,328.58 L286.04,330.41 L285.34,329.49 L284.64,331.82 L283.94,327.71 L283.24,329 L282.54,329.08 L281.84,327.7 L281.14,331.49 L280.44,330.06 L279.74,329.73 L279.04,328.27 L278.34,328.61 L277.64,328.1 L276.94,329.65 L276.24,333.34 L275.54,328.23 L274.84,329.44 L274.14,328.09 L273.44,328.31 L272.74,325.97 L272.04,328.11 L271.34,329.13 L270.64,329.25 L269.94,335 L269.24,329.68 L268.54,330.33 L267.84,328.97 L267.14,329.96 L266.44,328.77 L265.74,329.55 L265.04,326.59 L264.34,328.11 L263.64,329.11 L262.94,329.35 L262.24,330.43 L261.54,328.26 L260.84,329.59 L260.14,330.18 L259.44,326.96 L258.74,328.62 L258.04,330.75 L257.34,328.2 L256.64,329.1 L255.94,325.59 L255.24,326.96 L254.54,328.4 L253.84,327.88 L253.14,327.3 L252.44,329.14 L251.74,328.36 L251.04,328.83 L250.34,327.37 L249.64,329.82 L248.94,327.74 L248.24,325.66 L247.54,326.62 L246.84,326.96 L246.14,329.3 L245.44,328.55 L244.74,331.9 L244.04,326.52 L243.34,330.08 L242.64,327.95 L241.94,325.12 L241.24,325.31 L240.54,329.5 L239.84,329.59 L239.14,329.21 L238.44,328.57 L237.74,329.57 L237.04,335.91 L236.34,328.69 L235.64,327.6 L234.94,330.5 L234.24,330.33 L233.54,328.22 L232.84,329.12 L232.14,328.79 L231.44,327.75 L230.74,329.79 L230.04,326.32 L229.34,325.06 L228.64,325.1 L227.94,327.32 L227.24,330.18 L226.54,329.8 L225.84,327.01 L225.14,328.11 L224.44,326.95 L223.74,327.6 L223.04,328.7 L222.34,326.02 L221.64,327.13 L220.94,328.86 L220.24,326.06 L219.54,325.72 L218.84,326.9 L218.14,327.51 L217.44,325.9 L216.74,325.9 L216.04,328.22 L215.34,324.89 L214.64,326.65 L213.94,327.49 L213.24,326.77 L212.54,326.66 L211.84,327.99 L211.14,328.19 L210.44,326.83 L209.74,325.43 L209.04,327.99 L208.34,323.29 L207.64,327.12 L206.94,327.45 L206.24,324.89 L205.54,327.94 L204.84,327.17 L204.14,329.01 L203.44,328.96 L202.74,326.28 L202.04,324.25 L201.34,328.17 L200.64,326.83 L199.94,326.94 L199.24,328.08 L198.54,326.91 L197.84,325.86 L197.14,325.46 L196.44,326.52 L195.74,327.57 L195.04,332.78 L194.34,325.74 L193.64,327.09 L192.94,325.85 L192.24,327.51 L191.54,324.52 L190.84,326.5 L190.14,326.18 L189.44,326.84 L188.74,326.04 L188.04,327.39 L187.34,324.85 L186.64,331.52 L185.94,327.33 L185.24,326.46 L184.54,323.03 L183.84,325.39 L183.14,327.43 L182.44,325.01 L181.74,327.81 L181.04,334.28 L180.34,323.46 L179.64,328.33 L178.94,327.29 L178.24,325.75 L177.54,326.23 L176.84,331.18 L176.14,325.38 L175.44,325.12 L174.74,327.28 L174.04,329.64 L173.34,326.05 L172.64,331.67 L171.94,328.12 L171.24,324.1 L170.54,327.95 L169.84,325.43 L169.14,329.2 L168.44,328.1 L167.74,323.02 L167.04,323.32 L166.34,324.51 L165.64,326.12 L164.94,327.07 L164.24,325.46 L163.54,323.99 L162.84,325.68 L162.14,325.41 L161.44,327.32 L160.74,324.3 L160.04,326 L159.34,325.21 L158.64,326.94 L157.94,328.22 L157.24,323.64 L156.54,325.4 L155.84,325.47 L155.14,321.18 L154.44,324.74 L153.74,326.01 L153.04,323.86 L152.34,329.94 L151.64,326.34 L150.94,323.27 L150.24,326.28 L149.54,324.22 L148.84,325.09 L148.14,323.7 L147.44,324.69 L146.74,325.29 L146.04,326.23 L145.34,325.8 L144.64,322.81 L143.94,322.99 L143.24,324.07 L142.54,322.32 L141.84,330.5 L141.14,324.14 L140.44,323.99 L139.74,326.01 L139.04,325.66 L138.34,326.49 L137.64,325.35 L136.94,324.03 L136.24,324.76 L135.54,325.62 L134.84,326.1 L134.14,325.65 L133.44,322.34 L132.74,325.68 L132.04,323.26 L131.34,324.42 L130.64,324.58 L129.94,325.13 L129.24,326.27 L128.54,327.9 L127.84,324.92 L127.14,326.74 L126.44,324.04 L125.74,324.56 L125.04,325.66 L124.34,323.24 L123.64,324.79 L122.94,326.63 L122.24,320.87 L121.54,324.5 L120.84,323.68 L120.14,324.5 L119.44,323.21 L118.74,325.02 L118.04,325.49 L117.34,323.44 L116.64,326.08 L115.94,323.12 L115.24,323.75 L114.54,324.11 L113.84,329.64 L113.14,322.66 L112.44,323.86 L111.74,323.61 L111.04,326.19 L110.34,326.1 L109.64,322.2 L108.94,325.62 L108.24,324.19 L107.54,325.63 L106.84,325.43 L106.14,324.6 L105.44,322.18 L104.74,323.9 L104.04,324.79 L103.34,322.92 L102.64,324.21 L101.94,323.61 L101.24,322.05 L100.54,323.62 L99.84,323.01 L99.14,321.09 L98.44,324.45 L97.74,324.19 L97.04,320.93 L96.34,323.17 L95.64,321.87 L94.94,322.55 L94.24,321.96Z" fill="#A84EA8" stroke="#A84EA8" stroke-width="0.6" stroke-linejoin="round"/>
<path d="M94.24,306 L95.09,312.55 L95.94,315.31 L96.79,314 L97.64,310.13 L98.49,316.3 L99.34,305.64 L100.19,315.39 L101.04,318.31 L101.89,314.54 L102.74,311.32 L103.59,312.26 L104.44,316.34 L105.29,310.39 L106.14,314.53 L106.99,312.7 L107.84,311.13 L108.69,314.31 L109.54,315.24 L110.39,312.03 L111.24,312.74 L112.09,315.21 L112.94,310.76 L113.79,311.77 L114.64,316.2 L115.49,314.1 L116.34,310.47 L117.19,313.92 L118.04,318.61 L118.89,310.22 L119.74,316.11 L120.59,315.74 L121.44,313.47 L122.29,315.37 L123.14,312.25 L123.99,317.67 L124.84,314.09 L125.69,306.36 L126.54,313.37 L127.39,314.22 L128.24,312.36 L129.09,317.19 L129.94,311.35 L130.79,315.32 L131.64,313.16 L132.49,307.66 L133.34,315.06 L134.19,316.19 L135.04,306.58 L135.89,315.85 L136.74,316.08 L137.59,313.61 L138.44,317.72 L139.29,311.99 L140.14,312.54 L140.99,314.85 L141.84,312.19 L142.69,317.39 L143.54,314.39 L144.39,318.22 L145.24,311.26 L146.09,311.5 L146.94,317.27 L147.79,309.21 L148.64,316.62 L149.49,311.85 L150.34,314.57 L151.19,316.87 L152.04,313.75 L152.89,310.97 L153.74,312.65 L154.59,316.82 L155.44,317.3 L156.29,308.28 L157.14,314.12 L157.99,314.65 L158.84,313.41 L159.69,311.27 L160.54,319.14 L161.39,314.38 L162.24,302.22 L163.09,313.92 L163.94,314.58 L164.79,318.98 L165.64,310.34 L166.49,314.21 L167.34,314.7 L168.19,315.91 L169.04,312.06 L169.89,315.27 L170.74,311.91 L171.59,313.79 L172.44,312.48 L173.29,312.98 L174.14,312.86 L174.99,314.72 L175.84,313.68 L176.69,316.39 L177.54,318.47 L178.39,309.87 L179.24,311.91 L180.09,313.28 L180.94,312.44 L181.79,309.35 L182.64,311.42 L183.49,312.55 L184.34,316.4 L185.19,313.55 L186.04,316.48 L186.89,316.05 L187.74,312.51 L188.59,312.98 L189.44,312.43 L190.29,312.62 L191.14,313.98 L191.99,312.43 L192.84,310.41 L193.69,311.6 L194.54,306.91 L195.39,312.86 L196.24,307.72 L197.09,311.39 L197.94,314.54 L198.79,311.6 L199.64,315.75 L200.49,307.93 L201.34,309.06 L202.19,314.4 L203.04,316.07 L203.89,301.93 L204.74,314.32 L205.59,314.39 L206.44,322.87 L207.29,310.88 L208.14,311.83 L208.99,310.68 L209.84,316.3 L210.69,314.43 L211.54,313.01 L212.39,318.42 L213.24,320.21 L214.09,312.41 L214.94,315.52 L215.79,313.24 L216.64,311.89 L217.49,312.41 L218.34,313.11 L219.19,309.86 L220.04,313.58 L220.89,316.35 L221.74,310.9 L222.59,312.22 L223.44,310.99 L224.29,305.28 L225.14,313.54 L225.99,316.83 L226.84,312.86 L227.69,309.16 L228.54,315.68 L229.39,307.04 L230.24,313.56 L231.09,316.2 L231.94,305.32 L232.79,307.43 L233.64,313.97 L234.49,302.38 L235.34,306.47 L236.19,312.1 L237.04,321.54 L237.89,315.98 L238.74,310.91 L239.59,314.83 L240.44,315.17 L241.29,308.77 L242.14,315.86 L242.99,311.46 L243.84,321.04 L244.69,319.12 L245.54,311.3 L246.39,314.65 L247.24,311.89 L248.09,310.63 L248.94,317.29 L249.79,309.92 L250.64,316.62 L251.49,314.87 L252.34,314.25 L253.19,308.78 L254.04,311.55 L254.89,304.92 L255.74,315.61 L256.59,310.64 L257.44,318.73 L258.29,311.49 L259.14,319.03 L259.99,319.59 L260.84,325.83 L261.69,318.07 L262.54,312.76 L263.39,307.12 L264.24,311.15 L265.09,315.1 L265.94,320.13 L266.79,309.8 L267.64,319.91 L268.49,311.74 L269.34,309.46 L270.19,315.16 L271.04,317.98 L271.89,312.51 L272.74,309.96 L273.59,320.63 L274.44,309.62 L275.29,317.73 L276.14,309.13 L276.99,312.42 L277.84,314.06 L278.69,309.6 L279.54,309.48 L280.39,312.85 L281.24,306.82 L282.09,310.8 L282.94,319.68 L283.79,321.11 L284.64,318.35 L285.49,317.5 L286.34,312.85 L287.19,314.25 L288.04,310.86 L288.89,302.34 L289.74,314.69 L290.59,314.79 L291.44,317.97 L292.29,306.75 L293.14,318.67 L293.99,311.61 L294.84,308.65 L295.69,312.77 L296.54,313.87 L297.39,313.8 L298.24,315.74 L299.09,310.07 L299.94,315.9 L300.79,318.09 L301.64,310 L302.49,315.67 L303.34,302.94 L304.19,314.84 L305.04,307.25 L305.89,315.63 L306.74,313.81 L307.59,308.84 L308.44,315.45 L309.29,309.42 L310.14,314.22 L310.99,309.72 L311.84,316.27 L312.69,311.3 L313.54,315.9 L314.39,315.93 L315.24,316.33 L316.09,307.72 L316.94,304.21 L317.79,310.16 L318.64,322.32 L319.49,309.47 L320.34,319.62 L321.19,317.41 L322.04,311.12 L322.89,312.88 L323.74,320.13 L324.59,308.56 L325.44,311.94 L326.29,308.44 L327.14,314.24 L327.99,307.53 L328.84,319.91 L329.69,315.05" fill="none" stroke="#60709E" stroke-width="1.5" stroke-linejoin="round" />
<path d="M94.66,312.02 H329.8" stroke="#3a3a3a" stroke-width="1.2" opacity="0.75"/>
<path d="M94.77,444.69 L96.42,428.03" stroke="#E95628" stroke-width="2.2"/>
<path d="M94.24,430.29 L94.84,427.99 L95.44,426.74 L96.04,425.51 L96.64,422.56 L97.24,422.68 L97.84,421.24 L98.44,420.57 L99.04,420.63 L99.64,418.14 L100.24,416.33 L100.84,416.06 L101.44,415.87 L102.04,415.71 L102.64,410.98 L103.24,413.11 L103.84,412.12 L104.44,411.82 L105.04,408.74 L105.64,408.05 L106.24,408.23 L106.84,406.55 L107.44,405.15 L108.04,405.01 L108.64,404.93 L109.24,403.09 L109.84,401.57 L110.44,402.26 L111.04,400.91 L111.64,398.54 L112.24,393.68 L112.84,392.89 L113.44,396.51 L114.04,394.58 L114.64,395.84 L115.24,392.05 L115.84,394.03 L116.44,391.88 L117.04,389.32 L117.64,392.11 L118.24,386.32 L118.84,390.68 L119.44,391.71 L120.04,387.7 L120.64,386.72 L121.24,388.45 L121.84,387.77 L122.44,385.32 L123.04,385.17 L123.64,383.07 L124.24,380.99 L124.84,385.06 L125.44,380.81 L126.04,383.06 L126.64,381.11 L127.24,377.54 L127.84,380.72 L128.44,381.12 L129.04,376.33 L129.64,378.5 L130.24,376.12 L130.84,378.2 L131.44,375.99 L132.04,376.82 L132.64,375.1 L133.24,373.82 L133.84,375.6 L134.44,374.15 L135.04,372.95 L135.64,371.57 L136.24,371.15 L136.84,372.59 L137.44,372.71 L138.04,371.18 L138.64,369.36 L139.24,368.62 L139.84,371.13 L140.44,371.36 L141.04,369.07 L141.64,367.66 L142.24,366.05 L142.84,368.14 L143.44,366.93 L144.04,364.89 L144.64,366.71 L145.24,364.22 L145.84,362.85 L146.44,363.04 L147.04,361.69 L147.64,363.9 L148.24,364.94 L148.84,360.62 L149.44,361.24 L150.04,360.06 L150.64,361.16 L151.24,362.36 L151.84,361.18 L152.44,360.62 L153.04,360.68 L153.64,359.21 L154.24,358.62 L154.84,359.37 L155.44,360.53 L156.04,360.34 L156.64,357.67 L157.24,357.35 L157.84,357.84 L158.44,354.47 L159.04,357 L159.64,355.01 L160.24,354.74 L160.84,355.94 L161.44,353.09 L162.04,353.88 L162.64,352.86 L163.24,355.4 L163.84,354.33 L164.44,354.43 L165.04,352.98 L165.64,352.41 L166.24,351.14 L166.84,353.84 L167.44,351.22 L168.04,350.95 L168.64,349.83 L169.24,352.88 L169.84,349.52 L170.44,351.63 L171.04,349.81 L171.64,350.12 L172.24,350.21 L172.84,347.51 L173.44,347.52 L174.04,346.7 L174.64,347.57 L175.24,346.99 L175.84,346.33 L176.44,346.49 L177.04,344.82 L177.64,346.17 L178.24,347.02 L178.84,345.42 L179.44,346.9 L180.04,345.72 L180.64,345.24 L181.24,344.3 L181.84,344.67 L182.44,345.1 L183.04,343.4 L183.64,342.49 L184.24,342.5 L184.84,342.26 L185.44,342.73 L186.04,341.55 L186.64,343.19 L187.24,344.46 L187.84,342.55 L188.44,340.39 L189.04,343.8 L189.64,343.72 L190.24,339.33 L190.84,342.83 L191.44,340.07 L192.04,341.58 L192.64,339.26 L193.24,341.71 L193.84,341.23 L194.44,339.43 L195.04,339.77 L195.64,338.49 L196.24,337 L196.84,339.4 L197.44,338.76 L198.04,338.72 L198.64,338.9 L199.24,337.03 L199.84,338.27 L200.44,337.05 L201.04,335.53 L201.64,338.75 L202.24,337.33 L202.84,336.86 L203.44,336.87 L204.04,334.81 L204.64,335.3 L205.24,335.51 L205.84,336.23 L206.44,332.88 L207.04,337.72 L207.64,335.9 L208.24,335.2 L208.84,333.18 L209.44,335.22 L210.04,334.05 L210.64,335.88 L211.24,334.04 L211.84,334.52 L212.44,333.24 L213.04,334.2 L213.64,334.44 L214.24,333.83 L214.84,335.4 L215.44,328.93 L216.04,332 L216.64,333.55 L217.24,331.01 L217.84,331.74 L218.44,333.52 L219.04,330.99 L219.64,332.77 L220.24,330.3 L220.84,333.29 L221.44,332.2 L222.04,333.46 L222.64,331.77 L223.24,332.38 L223.84,332.18 L224.44,329.51 L225.04,329.43 L225.64,328.88 L226.24,330.68 L226.84,329.21 L227.44,332.11 L228.04,331.6 L228.64,329.95 L229.24,330.07 L229.84,330.25 L230.44,327.77 L231.04,326.83 L231.64,329.26 L232.24,327.1 L232.84,328.96 L233.44,329.25 L234.04,327.17 L234.64,325.81 L235.24,330.08 L235.84,327.92 L236.44,326.72 L237.04,329.91 L237.64,328.69 L238.24,327.37 L238.84,325.75 L239.44,328.59 L240.04,325.87 L240.64,325.06 L241.24,327.54 L241.84,327.7 L242.44,327.38 L243.04,328.67 L243.64,326.59 L244.24,325.92 L244.84,325.33 L245.44,323.64 L246.04,327.27 L246.64,324.54 L247.24,325.66 L247.84,326.27 L248.44,324.6 L249.04,325.75 L249.64,326.37 L250.24,324.37 L250.84,325.95 L251.44,324.73 L252.04,324.02 L252.64,324.47 L253.24,326.17 L253.84,323.72 L254.44,323.23 L255.04,325.68 L255.64,325.64 L256.24,326.22 L256.84,324.59 L257.44,325.93 L258.04,323.88 L258.64,323.49 L259.24,322.3 L259.84,324.21 L260.44,324.4 L261.04,322.89 L261.64,323.93 L262.24,323.07 L262.84,322.49 L263.44,324.61 L264.04,321.11 L264.64,323.12 L265.24,321.34 L265.84,319.28 L266.44,323.56 L267.04,324.48 L267.64,321.33 L268.24,318.39 L268.84,322.86 L269.44,322.38 L270.04,322.74 L270.64,321.58 L271.24,323.86 L271.84,322.28 L272.44,320.78 L273.04,320.93 L273.64,323.09 L274.24,319.61 L274.84,322.78 L275.44,321.23 L276.04,315.9 L276.64,321.14 L277.24,321.33 L277.84,319.17 L278.44,319.48 L279.04,322.39 L279.64,321.61 L280.24,320.46 L280.84,322.44 L281.44,320.35 L282.04,320.53 L282.64,320.63 L283.24,319.59 L283.84,318.98 L284.44,320.27 L285.04,321.01 L285.64,319.7 L286.24,321.67 L286.84,319.55 L287.44,319.08 L288.04,316.37 L288.64,317.16 L289.24,321.52 L289.84,319.65 L290.44,321.38 L291.04,320.33 L291.64,321.2 L292.24,318.63 L292.84,318.56 L293.44,321.04 L294.04,318.95 L294.64,318.73 L295.24,317.73 L295.84,320.65 L296.44,317.87 L297.04,315.74 L297.64,319.26 L298.24,318.01 L298.84,318.12 L299.44,316.32 L300.04,317.58 L300.64,316.48 L301.24,315.94 L301.84,317.83 L302.44,317.11 L303.04,320.04 L303.64,317.1 L304.24,319.92 L304.84,317.96 L305.44,316.94 L306.04,319.21 L306.64,317.96 L307.24,319.17 L307.84,314.69 L308.44,317.92 L309.04,316.06 L309.64,318.14 L310.24,316.99 L310.84,318.9 L311.44,318.98 L312.04,315.26 L312.64,314.72 L313.24,317.62 L313.84,317.74 L314.44,317.56 L315.04,316.77 L315.64,315.16 L316.24,314.07 L316.84,316.67 L317.44,316.17 L318.04,317.11 L318.64,315.21 L319.24,317.77 L319.84,318.48 L320.44,316.81 L321.04,316.13 L321.64,315.91 L322.24,316.91 L322.84,317.44 L323.44,317.02 L324.04,306.91 L324.64,318.14 L325.24,316.76 L325.84,316.02 L326.44,316.29 L327.04,315.24 L327.64,315.2 L328.24,315.74 L328.84,317.83 L329.44,317.78 L329.44,325.67 L328.84,324.27 L328.24,324.23 L327.64,323.75 L327.04,322.54 L326.44,323.62 L325.84,326.47 L325.24,323.5 L324.64,323.23 L324.04,324.75 L323.44,324.41 L322.84,324.51 L322.24,325.32 L321.64,325.21 L321.04,324.74 L320.44,325.26 L319.84,323.39 L319.24,325.83 L318.64,324.73 L318.04,325.4 L317.44,323.72 L316.84,324.41 L316.24,324.2 L315.64,324.32 L315.04,324.98 L314.44,323.98 L313.84,324.22 L313.24,327.26 L312.64,325.79 L312.04,326.48 L311.44,326.42 L310.84,327.21 L310.24,325.44 L309.64,327.25 L309.04,327.32 L308.44,327.55 L307.84,326.46 L307.24,326.32 L306.64,327.63 L306.04,328.19 L305.44,326.55 L304.84,326.43 L304.24,331.92 L303.64,328.78 L303.04,327.32 L302.44,327.12 L301.84,327.79 L301.24,324.54 L300.64,324.86 L300.04,325.96 L299.44,327.12 L298.84,329.06 L298.24,328.27 L297.64,326.78 L297.04,326.04 L296.44,327.21 L295.84,327.93 L295.24,327.37 L294.64,330.17 L294.04,325.55 L293.44,325.63 L292.84,326.74 L292.24,328.45 L291.64,334.75 L291.04,329.83 L290.44,336.41 L289.84,327.05 L289.24,327.35 L288.64,329.47 L288.04,328.7 L287.44,328.49 L286.84,327.35 L286.24,329.8 L285.64,330.33 L285.04,330.53 L284.44,327.08 L283.84,328.89 L283.24,328.51 L282.64,328.45 L282.04,330.37 L281.44,329.37 L280.84,334.15 L280.24,330 L279.64,330.92 L279.04,329.37 L278.44,328.25 L277.84,330.56 L277.24,328.74 L276.64,332.61 L276.04,330.1 L275.44,331.51 L274.84,331.03 L274.24,330.93 L273.64,331.84 L273.04,330.67 L272.44,329.79 L271.84,329.56 L271.24,331.39 L270.64,331.09 L270.04,331.68 L269.44,331.51 L268.84,330.38 L268.24,330.19 L267.64,330.79 L267.04,330.99 L266.44,332.08 L265.84,330.65 L265.24,329.49 L264.64,329.96 L264.04,333.34 L263.44,331.04 L262.84,331.79 L262.24,332.51 L261.64,330.37 L261.04,331.22 L260.44,332 L259.84,333.33 L259.24,332.58 L258.64,336.81 L258.04,331.89 L257.44,332.42 L256.84,331.51 L256.24,334.37 L255.64,330.01 L255.04,332.48 L254.44,335.53 L253.84,333.23 L253.24,331.62 L252.64,331.26 L252.04,335.43 L251.44,332.8 L250.84,334.78 L250.24,334.15 L249.64,331.49 L249.04,334.05 L248.44,341.51 L247.84,334.88 L247.24,336.34 L246.64,335.47 L246.04,334.74 L245.44,335.7 L244.84,335.82 L244.24,337.94 L243.64,335.93 L243.04,334.85 L242.44,333.96 L241.84,333.73 L241.24,334.34 L240.64,337.07 L240.04,334.14 L239.44,334.66 L238.84,336.54 L238.24,336.64 L237.64,337.87 L237.04,336.55 L236.44,337.02 L235.84,337.23 L235.24,338.14 L234.64,338.38 L234.04,337.71 L233.44,338.02 L232.84,342.43 L232.24,337.33 L231.64,338.79 L231.04,338.39 L230.44,334.99 L229.84,338.27 L229.24,340.07 L228.64,338.8 L228.04,338.88 L227.44,342.45 L226.84,339.25 L226.24,336.98 L225.64,339.22 L225.04,339.29 L224.44,339.01 L223.84,340.37 L223.24,337.73 L222.64,339.54 L222.04,341.4 L221.44,340.46 L220.84,339.59 L220.24,340.63 L219.64,341.83 L219.04,342.32 L218.44,343.72 L217.84,341.42 L217.24,340.65 L216.64,346.17 L216.04,342.9 L215.44,340.46 L214.84,343.26 L214.24,340.59 L213.64,340.55 L213.04,343.16 L212.44,343.2 L211.84,341.93 L211.24,343.05 L210.64,342.99 L210.04,343.58 L209.44,341.93 L208.84,344.29 L208.24,342.68 L207.64,345.6 L207.04,344.64 L206.44,344.23 L205.84,344.59 L205.24,347.81 L204.64,344.1 L204.04,345.38 L203.44,345.86 L202.84,346.35 L202.24,346.79 L201.64,344.86 L201.04,349.02 L200.44,346.26 L199.84,348.45 L199.24,344.97 L198.64,346.85 L198.04,348.77 L197.44,347.69 L196.84,347.9 L196.24,346.93 L195.64,348.83 L195.04,349.55 L194.44,348.93 L193.84,348.94 L193.24,348.23 L192.64,347.95 L192.04,351 L191.44,349.96 L190.84,351.45 L190.24,352.14 L189.64,352.74 L189.04,353.53 L188.44,350.52 L187.84,350.34 L187.24,351.09 L186.64,353.05 L186.04,349.68 L185.44,353.5 L184.84,351.86 L184.24,352.26 L183.64,354.29 L183.04,352.29 L182.44,356.67 L181.84,353.11 L181.24,353.5 L180.64,354.69 L180.04,360.97 L179.44,356.09 L178.84,353.95 L178.24,354.82 L177.64,354.37 L177.04,356.06 L176.44,355.61 L175.84,359.54 L175.24,354.76 L174.64,358.09 L174.04,355.93 L173.44,358.15 L172.84,358.06 L172.24,358.93 L171.64,358.57 L171.04,357.82 L170.44,361.15 L169.84,358.36 L169.24,359.56 L168.64,360.35 L168.04,360.37 L167.44,358.58 L166.84,359.89 L166.24,360.44 L165.64,360.39 L165.04,359.95 L164.44,361.47 L163.84,361.45 L163.24,362.47 L162.64,363.69 L162.04,363.36 L161.44,363.03 L160.84,362.09 L160.24,362.49 L159.64,365.33 L159.04,362.56 L158.44,367.12 L157.84,364.41 L157.24,365.26 L156.64,365.85 L156.04,364.88 L155.44,369.21 L154.84,367.8 L154.24,367.86 L153.64,369.44 L153.04,369.68 L152.44,366.26 L151.84,367.08 L151.24,370.52 L150.64,371.24 L150.04,368.77 L149.44,371.69 L148.84,371.41 L148.24,372.59 L147.64,374.91 L147.04,373.78 L146.44,373.43 L145.84,375.18 L145.24,373.15 L144.64,374.16 L144.04,375.74 L143.44,374.13 L142.84,374.76 L142.24,376.87 L141.64,377.8 L141.04,377.17 L140.44,377.05 L139.84,378 L139.24,379.09 L138.64,379.21 L138.04,379.61 L137.44,380.13 L136.84,380.03 L136.24,380.73 L135.64,379.19 L135.04,379.39 L134.44,382.51 L133.84,382.93 L133.24,383.45 L132.64,385.16 L132.04,386.04 L131.44,386.81 L130.84,382.94 L130.24,383.67 L129.64,388.23 L129.04,388.28 L128.44,386.7 L127.84,387.69 L127.24,390.86 L126.64,388.95 L126.04,389.49 L125.44,390.94 L124.84,391.11 L124.24,391.22 L123.64,391.38 L123.04,392.67 L122.44,394.7 L121.84,395.63 L121.24,393.15 L120.64,394.14 L120.04,396.54 L119.44,396.85 L118.84,399.03 L118.24,397.62 L117.64,399.2 L117.04,399.44 L116.44,401.98 L115.84,400.75 L115.24,402.41 L114.64,402.38 L114.04,403.65 L113.44,406.49 L112.84,406.53 L112.24,405.05 L111.64,407.41 L111.04,407.72 L110.44,408.36 L109.84,406.86 L109.24,409.76 L108.64,412.38 L108.04,414.24 L107.44,411.33 L106.84,413.85 L106.24,412.69 L105.64,415.56 L105.04,417.44 L104.44,416.3 L103.84,418.23 L103.24,417.66 L102.64,418.86 L102.04,419.59 L101.44,422.1 L100.84,423.38 L100.24,426.94 L99.64,424.76 L99.04,426.91 L98.44,428.97 L97.84,428.43 L97.24,431.19 L96.64,430.03 L96.04,432.22 L95.44,434.27 L94.84,435.06 L94.24,438.84Z" fill="#E95628" stroke="#E95628" stroke-width="0.6" stroke-linejoin="round"/>
<path d="M64.6,302.09 L65.2,304.12 L65.8,305.41 L66.4,302.45 L67,302 L67.6,302.65 L68.2,305.65 L68.8,305.74 L69.4,302.52 L70,301.2 L70.6,305.68 L71.2,301.98 L71.8,301.76 L72.4,303.41 L73,305.45 L73.6,304.4 L74.2,303.98 L74.8,302.4 L75.4,302.09 L76,304.92 L76.6,303.59 L77.2,303.49 L77.8,303.7 L78.4,302.02 L79,303.84 L79.6,303.54 L80.2,305.66 L80.8,303.22 L81.4,304.85 L82,300.61 L82.6,303.21 L83.2,303.16 L83.8,303.29 L84.4,305.19 L85,304.09 L85.6,303.27 L86.2,302.07 L86.8,303.11 L87.4,305.42 L88,303.76 L88.6,303.64 L89.2,305.96 L89.8,302.63 L90.4,302.29 L91,304.81 L91.6,300.16 L92.2,302.95 L92.8,304.32 L93.4,300.52 L93.4,322.43 L92.8,321.28 L92.2,320.12 L91.6,321.83 L91,322.23 L90.4,321.12 L89.8,321.37 L89.2,322.29 L88.6,321.71 L88,320.89 L87.4,321.53 L86.8,322.79 L86.2,321.35 L85.6,321.99 L85,321.7 L84.4,318.07 L83.8,319.71 L83.2,322.15 L82.6,322.52 L82,319.75 L81.4,318.52 L80.8,321.58 L80.2,319.55 L79.6,320.56 L79,321.82 L78.4,320.69 L77.8,321.62 L77.2,323.65 L76.6,318.84 L76,322.52 L75.4,322.2 L74.8,321.82 L74.2,321.7 L73.6,320.13 L73,324.83 L72.4,322.59 L71.8,323.71 L71.2,321.18 L70.6,319.9 L70,319.56 L69.4,320.2 L68.8,321.05 L68.2,320.17 L67.6,319.93 L67,324.06 L66.4,319.79 L65.8,318.72 L65.2,321.66 L64.6,320.55Z" fill="#FF2891" stroke="#FF2891" stroke-width="0.6" stroke-linejoin="round"/>
<path d="M94.24,318.58 L94.84,320.02 L95.44,319.88 L96.04,319.23 L96.64,319.7 L97.24,318.52 L97.84,321.48 L98.44,319.22 L99.04,320.11 L99.64,318.78 L100.24,318.82 L100.84,319.23 L101.44,320.81 L102.04,320.79 L102.64,320.03 L103.24,320.75 L103.84,322.3 L104.44,321.8 L105.04,319.84 L105.64,321.38 L106.24,320.58 L106.84,320.25 L107.44,321.78 L108.04,320.7 L108.64,318.79 L109.24,318.73 L109.84,319.7 L110.44,319.67 L111.04,320.49 L111.64,320.17 L112.24,319.33 L112.84,321.87 L113.44,320.66 L114.04,320.56 L114.64,319.29 L115.24,321.31 L115.84,318.08 L116.44,320.93 L117.04,317.91 L117.64,320.16 L118.24,319.98 L118.84,318.29 L119.44,322 L120.04,319.31 L120.64,318.18 L121.24,321.05 L121.84,319.19 L122.44,320.64 L123.04,319.03 L123.64,320.34 L124.24,318.76 L124.84,320.43 L125.44,320.49 L126.04,320.24 L126.64,320.96 L127.24,318.32 L127.84,319.14 L128.44,318.47 L129.04,318.64 L129.64,318.31 L130.24,321 L130.84,319.4 L131.44,319.92 L132.04,319.72 L132.64,319.71 L133.24,321.4 L133.84,321.28 L134.44,322.11 L135.04,318.46 L135.64,318.69 L136.24,320.56 L136.84,319.52 L137.44,320.51 L138.04,320.63 L138.64,320.02 L139.24,319.88 L139.84,320.56 L140.44,320.84 L141.04,319.46 L141.64,316.63 L142.24,319.69 L142.84,318.01 L143.44,318.13 L144.04,319.78 L144.64,321.37 L145.24,320.09 L145.84,319.12 L146.44,318.14 L147.04,319.2 L147.64,319.88 L148.24,317.2 L148.84,319 L149.44,319.21 L150.04,318.58 L150.64,321.16 L151.24,318.03 L151.84,321.23 L152.44,319.67 L153.04,321.17 L153.64,319.03 L154.24,317.98 L154.84,317.09 L155.44,317.83 L156.04,318.13 L156.64,320.81 L157.24,316.19 L157.84,318.75 L158.44,317.63 L159.04,317.58 L159.64,317.59 L160.24,319.8 L160.84,318.42 L161.44,317.56 L162.04,319.37 L162.64,318.03 L163.24,318.63 L163.84,320.27 L164.44,318.05 L165.04,318.27 L165.64,316.33 L166.24,318.11 L166.84,316.67 L167.44,317.5 L168.04,316.5 L168.64,319.91 L169.24,317.47 L169.84,318.47 L170.44,316.92 L171.04,317.94 L171.64,317.54 L172.24,317.49 L172.84,316.78 L173.44,317.94 L174.04,315.57 L174.64,317.01 L175.24,317.14 L175.84,317.79 L176.44,315.79 L177.04,316.44 L177.64,316.49 L178.24,314.46 L178.84,317.16 L179.44,316.27 L180.04,317.04 L180.64,315.61 L181.24,316.06 L181.84,317 L182.44,316.46 L183.04,316.18 L183.64,317.36 L184.24,315.39 L184.84,315.98 L185.44,316.33 L186.04,314.69 L186.64,317.72 L187.24,315.68 L187.84,316.24 L188.44,316.34 L189.04,316.16 L189.64,317.01 L190.24,314.95 L190.84,317.46 L191.44,317.05 L192.04,316.32 L192.64,313.85 L193.24,314.77 L193.84,314.53 L194.44,316.39 L195.04,315.15 L195.64,314.54 L196.24,315.86 L196.84,316.21 L197.44,313.44 L198.04,316.05 L198.64,315.72 L199.24,315.94 L199.84,314.88 L200.44,315.16 L201.04,313.47 L201.64,317.16 L202.24,315.94 L202.84,315.38 L203.44,315.3 L204.04,314.87 L204.64,314.16 L205.24,314.38 L205.84,314.33 L206.44,316.49 L207.04,315.06 L207.64,314.35 L208.24,315.9 L208.84,313.92 L209.44,315.07 L210.04,313.99 L210.64,313.29 L211.24,313.9 L211.84,314.82 L212.44,314.05 L213.04,313.86 L213.64,313.4 L214.24,313.82 L214.84,311.82 L215.44,313.41 L216.04,314.4 L216.64,314.68 L217.24,310.99 L217.84,312.15 L218.44,313.74 L219.04,314.15 L219.64,311.59 L220.24,312.19 L220.84,312.67 L221.44,314.27 L222.04,311.62 L222.64,313.03 L223.24,315.73 L223.84,312.37 L224.44,312.2 L225.04,311.86 L225.64,312.87 L226.24,313.5 L226.84,312.3 L227.44,312.68 L228.04,310.94 L228.64,310.05 L229.24,311.98 L229.84,312.87 L230.44,313.43 L231.04,310.36 L231.64,311.49 L232.24,310.34 L232.84,311.23 L233.44,312.6 L234.04,312.42 L234.64,311.67 L235.24,310.25 L235.84,311.75 L236.44,311.07 L237.04,310.47 L237.64,310.98 L238.24,310.05 L238.84,309.94 L239.44,310.28 L240.04,311.59 L240.64,309.51 L241.24,310.49 L241.84,310.41 L242.44,309.37 L243.04,309.98 L243.64,308.83 L244.24,311.76 L244.84,308.26 L245.44,310.27 L246.04,309.08 L246.64,308.48 L247.24,309.4 L247.84,308.81 L248.44,309.46 L249.04,308.43 L249.64,309.77 L250.24,310.12 L250.84,310.38 L251.44,308.88 L252.04,309.37 L252.64,309.17 L253.24,307.66 L253.84,308.79 L254.44,309.95 L255.04,309.1 L255.64,309.69 L256.24,309.33 L256.84,309.76 L257.44,307.64 L258.04,308.45 L258.64,307.9 L259.24,311.39 L259.84,308.29 L260.44,308.91 L261.04,308.1 L261.64,309.51 L262.24,307.13 L262.84,307.44 L263.44,307.85 L264.04,308.94 L264.64,309.15 L265.24,307.32 L265.84,310.22 L266.44,307.99 L267.04,306.86 L267.64,309.09 L268.24,306.68 L268.84,307.32 L269.44,308.99 L270.04,307.86 L270.64,306.67 L271.24,309.93 L271.84,304.97 L272.44,307.89 L273.04,306.6 L273.64,307.05 L274.24,306.85 L274.84,309.6 L275.44,307.11 L276.04,307.66 L276.64,308.65 L277.24,307.61 L277.84,305.73 L278.44,308.72 L279.04,309.79 L279.64,308.43 L280.24,305.25 L280.84,306.53 L281.44,307.73 L282.04,306.28 L282.64,304.49 L283.24,307.28 L283.84,305.57 L284.44,307.93 L285.04,307.1 L285.64,305.58 L286.24,306.45 L286.84,309.1 L287.44,306.1 L288.04,308.43 L288.64,306.62 L289.24,307.86 L289.84,307.66 L290.44,307.11 L291.04,307.38 L291.64,307.79 L292.24,308.82 L292.84,305.61 L293.44,306.96 L294.04,307.31 L294.64,307.05 L295.24,308.01 L295.84,307.61 L296.44,307.53 L297.04,307.92 L297.64,306.76 L298.24,306.84 L298.84,306.78 L299.44,308.33 L300.04,307.55 L300.64,307.64 L301.24,308.1 L301.84,305.44 L302.44,307.08 L303.04,305.1 L303.64,305.75 L304.24,307.92 L304.84,307.49 L305.44,307.69 L306.04,306.16 L306.64,307.82 L307.24,307.17 L307.84,308.45 L308.44,307 L309.04,306.73 L309.64,306.35 L310.24,307.57 L310.84,308.13 L311.44,307.42 L312.04,307.06 L312.64,307.1 L313.24,306.91 L313.84,307.6 L314.44,306.08 L315.04,307.68 L315.64,308.24 L316.24,307.22 L316.84,307.41 L317.44,308.5 L318.04,308.78 L318.64,305.71 L319.24,308.29 L319.84,305.93 L320.44,306.87 L321.04,307.13 L321.64,305.58 L322.24,305.03 L322.84,309.88 L323.44,305.82 L324.04,306.14 L324.64,306.61 L325.24,307.86 L325.84,306.56 L326.44,308.08 L327.04,306.85 L327.64,306.7 L328.24,307.15 L328.84,305.52 L329.44,305.13 L329.44,327.84 L328.84,325.53 L328.24,326.49 L327.64,327.28 L327.04,326.97 L326.44,326.4 L325.84,326.07 L325.24,327.39 L324.64,325 L324.04,326.5 L323.44,328.01 L322.84,327.52 L322.24,325.82 L321.64,324.83 L321.04,325.95 L320.44,327.77 L319.84,327.31 L319.24,328.2 L318.64,325.55 L318.04,325.95 L317.44,325.42 L316.84,328.46 L316.24,325.67 L315.64,326.65 L315.04,326.08 L314.44,324.59 L313.84,326.73 L313.24,326.85 L312.64,326.85 L312.04,329.08 L311.44,327.64 L310.84,326.51 L310.24,325.85 L309.64,327.78 L309.04,326.61 L308.44,327.19 L307.84,326.86 L307.24,326.71 L306.64,325.68 L306.04,325.25 L305.44,325.77 L304.84,324.95 L304.24,327.9 L303.64,328.1 L303.04,325.65 L302.44,326.8 L301.84,326.7 L301.24,329.71 L300.64,326.28 L300.04,326.52 L299.44,326.24 L298.84,327.94 L298.24,326.1 L297.64,325.5 L297.04,328.75 L296.44,327.96 L295.84,328.4 L295.24,325.8 L294.64,325.98 L294.04,327.29 L293.44,326.84 L292.84,326.51 L292.24,328.48 L291.64,325.95 L291.04,326.89 L290.44,326.02 L289.84,325.3 L289.24,326.45 L288.64,328.14 L288.04,326.82 L287.44,327.38 L286.84,326.76 L286.24,326.27 L285.64,328.34 L285.04,327.43 L284.44,325.23 L283.84,326.2 L283.24,328.37 L282.64,327.9 L282.04,327.99 L281.44,324.09 L280.84,328.18 L280.24,326.17 L279.64,325.6 L279.04,324.99 L278.44,326.28 L277.84,328.04 L277.24,328 L276.64,325.91 L276.04,327.79 L275.44,326.13 L274.84,325.73 L274.24,326.96 L273.64,324.81 L273.04,327.84 L272.44,326.61 L271.84,327.55 L271.24,327.36 L270.64,326.92 L270.04,327.78 L269.44,327.27 L268.84,327.67 L268.24,327.15 L267.64,327.34 L267.04,328.65 L266.44,326.14 L265.84,329.37 L265.24,326.78 L264.64,326.57 L264.04,326.06 L263.44,327.29 L262.84,326.08 L262.24,327.41 L261.64,325.99 L261.04,324.52 L260.44,326.65 L259.84,327.78 L259.24,327.03 L258.64,326.79 L258.04,327.44 L257.44,325.95 L256.84,328.34 L256.24,325.84 L255.64,325.3 L255.04,327.36 L254.44,325.91 L253.84,332.48 L253.24,327.73 L252.64,325.58 L252.04,325.25 L251.44,328.38 L250.84,327.65 L250.24,328.06 L249.64,328.32 L249.04,327.22 L248.44,326.39 L247.84,326.94 L247.24,326.57 L246.64,329.16 L246.04,327.02 L245.44,328.06 L244.84,327.98 L244.24,327.66 L243.64,327.27 L243.04,326.55 L242.44,326.58 L241.84,328.29 L241.24,328.15 L240.64,328.63 L240.04,328.51 L239.44,326.73 L238.84,327.15 L238.24,327.66 L237.64,328.35 L237.04,327.69 L236.44,327.3 L235.84,326.95 L235.24,328.55 L234.64,329.77 L234.04,327.73 L233.44,328.25 L232.84,328.36 L232.24,327.74 L231.64,326.8 L231.04,328.52 L230.44,328.65 L229.84,328.06 L229.24,328.21 L228.64,327.01 L228.04,329.8 L227.44,327.64 L226.84,330.06 L226.24,327.62 L225.64,327.88 L225.04,327.93 L224.44,330.05 L223.84,329.11 L223.24,328.57 L222.64,327.23 L222.04,328.25 L221.44,328.59 L220.84,328.03 L220.24,329.69 L219.64,328.89 L219.04,328.81 L218.44,328 L217.84,328.62 L217.24,328.27 L216.64,330.87 L216.04,328.5 L215.44,328.89 L214.84,329.74 L214.24,329.4 L213.64,328.98 L213.04,328.88 L212.44,329.41 L211.84,332.05 L211.24,332.06 L210.64,329.99 L210.04,330.09 L209.44,331.15 L208.84,328.35 L208.24,329.57 L207.64,329.33 L207.04,329.51 L206.44,328.88 L205.84,329.05 L205.24,328.89 L204.64,328.53 L204.04,330.52 L203.44,329.51 L202.84,329.45 L202.24,328.9 L201.64,328.37 L201.04,329.06 L200.44,331.06 L199.84,328.21 L199.24,328.5 L198.64,331.3 L198.04,331.56 L197.44,328.16 L196.84,329.12 L196.24,328.94 L195.64,329.13 L195.04,331.22 L194.44,329.01 L193.84,329.58 L193.24,330.79 L192.64,329.65 L192.04,328.76 L191.44,330.69 L190.84,331.32 L190.24,330.18 L189.64,330.67 L189.04,331.11 L188.44,331.02 L187.84,331.86 L187.24,329.49 L186.64,330.9 L186.04,330.49 L185.44,331.45 L184.84,329.5 L184.24,329.48 L183.64,330.54 L183.04,332.17 L182.44,331.76 L181.84,330.93 L181.24,330.48 L180.64,331.3 L180.04,328.28 L179.44,330.55 L178.84,330.58 L178.24,331.44 L177.64,330.14 L177.04,330.2 L176.44,333.6 L175.84,330.03 L175.24,332.1 L174.64,332.04 L174.04,331.02 L173.44,331.73 L172.84,333.28 L172.24,330.83 L171.64,330.61 L171.04,331.8 L170.44,332.27 L169.84,331.99 L169.24,330.99 L168.64,330.93 L168.04,329.84 L167.44,331.98 L166.84,331.55 L166.24,331.73 L165.64,331.84 L165.04,332.15 L164.44,331.39 L163.84,330.25 L163.24,330.79 L162.64,333.41 L162.04,332.86 L161.44,332.16 L160.84,331.77 L160.24,332.17 L159.64,331.74 L159.04,332.51 L158.44,332.75 L157.84,331.56 L157.24,333.09 L156.64,332.26 L156.04,330.67 L155.44,334.03 L154.84,331 L154.24,330.73 L153.64,330.78 L153.04,333.29 L152.44,330.86 L151.84,332.22 L151.24,333.51 L150.64,331.18 L150.04,332.64 L149.44,333.09 L148.84,333.93 L148.24,332.56 L147.64,331.24 L147.04,332.76 L146.44,331.65 L145.84,331.19 L145.24,333.8 L144.64,332.75 L144.04,334.51 L143.44,333.21 L142.84,334.12 L142.24,331.99 L141.64,333.9 L141.04,335.14 L140.44,332.9 L139.84,334.05 L139.24,333.19 L138.64,333.77 L138.04,333.14 L137.44,332.04 L136.84,331.53 L136.24,333.68 L135.64,334.98 L135.04,333.55 L134.44,335.77 L133.84,332.92 L133.24,334.18 L132.64,332.47 L132.04,332.99 L131.44,332.45 L130.84,333.03 L130.24,336.13 L129.64,335.18 L129.04,336.49 L128.44,332.91 L127.84,333.8 L127.24,333.75 L126.64,334.59 L126.04,334.88 L125.44,334.46 L124.84,333.25 L124.24,333.18 L123.64,332.82 L123.04,334.01 L122.44,334.9 L121.84,333.4 L121.24,335.15 L120.64,331.99 L120.04,333.66 L119.44,335.63 L118.84,336.89 L118.24,334.4 L117.64,336.35 L117.04,334.19 L116.44,334.24 L115.84,333.32 L115.24,336.17 L114.64,333.95 L114.04,335.53 L113.44,335.13 L112.84,334.37 L112.24,334.44 L111.64,335.19 L111.04,336.22 L110.44,332.84 L109.84,336.13 L109.24,334.96 L108.64,335.79 L108.04,334.1 L107.44,335.3 L106.84,335.96 L106.24,334.77 L105.64,334.37 L105.04,334.63 L104.44,334.64 L103.84,337.01 L103.24,334.29 L102.64,335.42 L102.04,333.82 L101.44,335.49 L100.84,335 L100.24,336.39 L99.64,336.2 L99.04,335.25 L98.44,337.6 L97.84,337.55 L97.24,335.78 L96.64,335.35 L96.04,336.5 L95.44,336.79 L94.84,335.49 L94.24,335.47Z" fill="#FF2891" stroke="#FF2891" stroke-width="0.6" stroke-linejoin="round"/>
<path d="M94.07,308.02 V478.9" stroke="#FF2891" stroke-width="2.2"/>
<path d="M94.95,430.99 L96.13,428.62 L97.31,426.31 L98.49,424.07 L99.67,421.89 L100.84,419.77 L102.02,417.71 L103.2,415.71 L104.38,413.76 L105.56,411.86 L106.74,410.01 L107.92,408.21 L109.09,406.46 L110.27,404.75 L111.45,403.09 L112.63,401.46 L113.81,399.88 L114.99,398.33 L116.17,396.83 L117.35,395.36 L118.52,393.92 L119.7,392.52 L120.88,391.15 L122.06,389.81 L123.24,388.5 L124.42,387.23 L125.6,385.98 L126.77,384.76 L127.95,383.56 L129.13,382.4 L130.31,381.25 L131.49,380.13 L132.67,379.04 L133.85,377.97 L135.03,376.92 L136.2,375.89 L137.38,374.89 L138.56,373.9 L139.74,372.93 L140.92,371.99 L142.1,371.06 L143.28,370.15 L144.45,369.26 L145.63,368.38 L146.81,367.52 L147.99,366.68 L149.17,365.85 L150.35,365.04 L151.53,364.24 L152.71,363.46 L153.88,362.7 L155.06,361.94 L156.24,361.2 L157.42,360.48 L158.6,359.76 L159.78,359.06 L160.96,358.37 L162.13,357.69 L163.31,357.03 L164.49,356.37 L165.67,355.73 L166.85,355.1 L168.03,354.48 L169.21,353.86 L170.39,353.26 L171.56,352.67 L172.74,352.09 L173.92,351.52 L175.1,350.96 L176.28,350.4 L177.46,349.86 L178.64,349.32 L179.81,348.79 L180.99,348.27 L182.17,347.76 L183.35,347.26 L184.53,346.76 L185.71,346.28 L186.89,345.8 L188.07,345.32 L189.24,344.86 L190.42,344.4 L191.6,343.95 L192.78,343.5 L193.96,343.07 L195.14,342.63 L196.32,342.21 L197.49,341.79 L198.67,341.38 L199.85,340.97 L201.03,340.57 L202.21,340.18 L203.39,339.79 L204.57,339.41 L205.75,339.03 L206.92,338.66 L208.1,338.29 L209.28,337.93 L210.46,337.58 L211.64,337.23 L212.82,336.88 L214,336.54 L215.17,336.21 L216.35,335.88 L217.53,335.55 L218.71,335.23 L219.89,334.91 L221.07,334.6 L222.25,334.29 L223.43,333.99 L224.6,333.69 L225.78,333.39 L226.96,333.1 L228.14,332.82 L229.32,332.53 L230.5,332.26 L231.68,331.98 L232.85,331.71 L234.03,331.44 L235.21,331.18 L236.39,330.92 L237.57,330.66 L238.75,330.41 L239.93,330.16 L241.11,329.92 L242.28,329.67 L243.46,329.44 L244.64,329.2 L245.82,328.97 L247,328.74 L248.18,328.51 L249.36,328.29 L250.53,328.07 L251.71,327.85 L252.89,327.64 L254.07,327.43 L255.25,327.22 L256.43,327.02 L257.61,326.81 L258.79,326.61 L259.96,326.42 L261.14,326.22 L262.32,326.03 L263.5,325.84 L264.68,325.66 L265.86,325.47 L267.04,325.29 L268.21,325.11 L269.39,324.94 L270.57,324.76 L271.75,324.59 L272.93,324.42 L274.11,324.26 L275.29,324.09 L276.47,323.93 L277.64,323.77 L278.82,323.61 L280,323.45 L281.18,323.3 L282.36,323.15 L283.54,323 L284.72,322.85 L285.89,322.71 L287.07,322.56 L288.25,322.42 L289.43,322.28 L290.61,322.14 L291.79,322.01 L292.97,321.87 L294.15,321.74 L295.32,321.61 L296.5,321.48 L297.68,321.35 L298.86,321.23 L300.04,321.11 L301.22,320.98 L302.4,320.86 L303.57,320.74 L304.75,320.63 L305.93,320.51 L307.11,320.4 L308.29,320.28 L309.47,320.17 L310.65,320.06 L311.83,319.96 L313,319.85 L314.18,319.74 L315.36,319.64 L316.54,319.54 L317.72,319.44 L318.9,319.34 L320.08,319.24 L321.25,319.14 L322.43,319.05 L323.61,318.95 L324.79,318.86 L325.97,318.77 L327.15,318.68 L328.33,318.59 L329.51,318.5" fill="none" stroke="#000" stroke-width="2.1" stroke-linejoin="round" />
<path d="M94.95,320.58 L96.13,320.5 L97.31,320.42 L98.49,320.34 L99.67,320.27 L100.84,320.2 L102.02,320.13 L103.2,320.06 L104.38,319.99 L105.56,319.92 L106.74,319.85 L107.92,319.79 L109.09,319.73 L110.27,319.67 L111.45,319.61 L112.63,319.55 L113.81,319.49 L114.99,319.43 L116.17,319.38 L117.35,319.32 L118.52,319.27 L119.7,319.22 L120.88,319.17 L122.06,319.12 L123.24,319.07 L124.42,319.02 L125.6,318.97 L126.77,318.93 L127.95,318.88 L129.13,318.84 L130.31,318.8 L131.49,318.76 L132.67,318.71 L133.85,318.67 L135.03,318.64 L136.2,318.6 L137.38,318.56 L138.56,318.52 L139.74,318.49 L140.92,318.45 L142.1,318.42 L143.28,318.38 L144.45,318.35 L145.63,318.32 L146.81,318.29 L147.99,318.25 L149.17,318.22 L150.35,318.19 L151.53,318.16 L152.71,318.14 L153.88,318.11 L155.06,318.08 L156.24,318.05 L157.42,318.03 L158.6,318 L159.78,317.98 L160.96,317.95 L162.13,317.93 L163.31,317.91 L164.49,317.88 L165.67,317.86 L166.85,317.84 L168.03,317.82 L169.21,317.8 L170.39,317.77 L171.56,317.75 L172.74,317.73 L173.92,317.71 L175.1,317.7 L176.28,317.68 L177.46,317.66 L178.64,317.64 L179.81,317.62 L180.99,317.61 L182.17,317.59 L183.35,317.57 L184.53,317.56 L185.71,317.54 L186.89,317.53 L188.07,317.51 L189.24,317.5 L190.42,317.48 L191.6,317.47 L192.78,317.45 L193.96,317.44 L195.14,317.43 L196.32,317.42 L197.49,317.4 L198.67,317.39 L199.85,317.38 L201.03,317.37 L202.21,317.35 L203.39,317.34 L204.57,317.33 L205.75,317.32 L206.92,317.31 L208.1,317.3 L209.28,317.29 L210.46,317.28 L211.64,317.27 L212.82,317.26 L214,317.25 L215.17,317.24 L216.35,317.23 L217.53,317.22 L218.71,317.22 L219.89,317.21 L221.07,317.2 L222.25,317.19 L223.43,317.18 L224.6,317.18 L225.78,317.17 L226.96,317.16 L228.14,317.15 L229.32,317.15 L230.5,317.14 L231.68,317.13 L232.85,317.13 L234.03,317.12 L235.21,317.11 L236.39,317.11 L237.57,317.1 L238.75,317.09 L239.93,317.09 L241.11,317.08 L242.28,317.08 L243.46,317.07 L244.64,317.07 L245.82,317.06 L247,317.06 L248.18,317.05 L249.36,317.05 L250.53,317.04 L251.71,317.04 L252.89,317.03 L254.07,317.03 L255.25,317.02 L256.43,317.02 L257.61,317.01 L258.79,317.01 L259.96,317.01 L261.14,317 L262.32,317 L263.5,316.99 L264.68,316.99 L265.86,316.99 L267.04,316.98 L268.21,316.98 L269.39,316.98 L270.57,316.97 L271.75,316.97 L272.93,316.97 L274.11,316.96 L275.29,316.96 L276.47,316.96 L277.64,316.95 L278.82,316.95 L280,316.95 L281.18,316.95 L282.36,316.94 L283.54,316.94 L284.72,316.94 L285.89,316.94 L287.07,316.93 L288.25,316.93 L289.43,316.93 L290.61,316.93 L291.79,316.92 L292.97,316.92 L294.15,316.92 L295.32,316.92 L296.5,316.91 L297.68,316.91 L298.86,316.91 L300.04,316.91 L301.22,316.91 L302.4,316.9 L303.57,316.9 L304.75,316.9 L305.93,316.9 L307.11,316.9 L308.29,316.9 L309.47,316.89 L310.65,316.89 L311.83,316.89 L313,316.89 L314.18,316.89 L315.36,316.89 L316.54,316.89 L317.72,316.88 L318.9,316.88 L320.08,316.88 L321.25,316.88 L322.43,316.88 L323.61,316.88 L324.79,316.88 L325.97,316.87 L327.15,316.87 L328.33,316.87 L329.51,316.87" fill="none" stroke="#000" stroke-width="2.1" stroke-linejoin="round" />
<path d="M94.95,323.55 L96.13,323.53 L97.31,323.5 L98.49,323.47 L99.67,323.44 L100.84,323.41 L102.02,323.38 L103.2,323.35 L104.38,323.32 L105.56,323.29 L106.74,323.26 L107.92,323.23 L109.09,323.2 L110.27,323.17 L111.45,323.14 L112.63,323.12 L113.81,323.09 L114.99,323.06 L116.17,323.03 L117.35,323 L118.52,322.97 L119.7,322.94 L120.88,322.91 L122.06,322.88 L123.24,322.85 L124.42,322.82 L125.6,322.79 L126.77,322.76 L127.95,322.73 L129.13,322.71 L130.31,322.68 L131.49,322.65 L132.67,322.62 L133.85,322.59 L135.03,322.56 L136.2,322.53 L137.38,322.5 L138.56,322.47 L139.74,322.44 L140.92,322.41 L142.1,322.38 L143.28,322.35 L144.45,322.32 L145.63,322.3 L146.81,322.27 L147.99,322.24 L149.17,322.21 L150.35,322.18 L151.53,322.15 L152.71,322.12 L153.88,322.09 L155.06,322.06 L156.24,322.03 L157.42,322 L158.6,321.97 L159.78,321.94 L160.96,321.91 L162.13,321.89 L163.31,321.86 L164.49,321.83 L165.67,321.8 L166.85,321.77 L168.03,321.74 L169.21,321.71 L170.39,321.68 L171.56,321.65 L172.74,321.62 L173.92,321.59 L175.1,321.56 L176.28,321.53 L177.46,321.5 L178.64,321.48 L179.81,321.45 L180.99,321.42 L182.17,321.39 L183.35,321.36 L184.53,321.33 L185.71,321.3 L186.89,321.27 L188.07,321.24 L189.24,321.21 L190.42,321.18 L191.6,321.15 L192.78,321.12 L193.96,321.09 L195.14,321.07 L196.32,321.04 L197.49,321.01 L198.67,320.98 L199.85,320.95 L201.03,320.92 L202.21,320.89 L203.39,320.86 L204.57,320.83 L205.75,320.8 L206.92,320.77 L208.1,320.74 L209.28,320.71 L210.46,320.68 L211.64,320.66 L212.82,320.63 L214,320.6 L215.17,320.57 L216.35,320.54 L217.53,320.51 L218.71,320.48 L219.89,320.45 L221.07,320.42 L222.25,320.39 L223.43,320.36 L224.6,320.33 L225.78,320.3 L226.96,320.27 L228.14,320.24 L229.32,320.22 L230.5,320.19 L231.68,320.16 L232.85,320.13 L234.03,320.1 L235.21,320.07 L236.39,320.04 L237.57,320.01 L238.75,319.98 L239.93,319.95 L241.11,319.92 L242.28,319.89 L243.46,319.86 L244.64,319.83 L245.82,319.81 L247,319.78 L248.18,319.75 L249.36,319.72 L250.53,319.69 L251.71,319.66 L252.89,319.63 L254.07,319.6 L255.25,319.57 L256.43,319.54 L257.61,319.51 L258.79,319.48 L259.96,319.45 L261.14,319.42 L262.32,319.4 L263.5,319.37 L264.68,319.34 L265.86,319.31 L267.04,319.28 L268.21,319.25 L269.39,319.22 L270.57,319.19 L271.75,319.16 L272.93,319.13 L274.11,319.1 L275.29,319.07 L276.47,319.04 L277.64,319.01 L278.82,318.99 L280,318.96 L281.18,318.93 L282.36,318.9 L283.54,318.87 L284.72,318.84 L285.89,318.81 L287.07,318.78 L288.25,318.75 L289.43,318.72 L290.61,318.69 L291.79,318.66 L292.97,318.63 L294.15,318.6 L295.32,318.58 L296.5,318.55 L297.68,318.52 L298.86,318.49 L300.04,318.46 L301.22,318.43 L302.4,318.4 L303.57,318.37 L304.75,318.34 L305.93,318.31 L307.11,318.28 L308.29,318.25 L309.47,318.22 L310.65,318.19 L311.83,318.17 L313,318.14 L314.18,318.11 L315.36,318.08 L316.54,318.05 L317.72,318.02 L318.9,317.99 L320.08,317.96 L321.25,317.93 L322.43,317.9 L323.61,317.87 L324.79,317.84 L325.97,317.81 L327.15,317.78 L328.33,317.76 L329.51,317.73" fill="none" stroke="#000" stroke-width="2.1" stroke-linejoin="round" />
<path d="M94.95,329.41 L96.13,329.3 L97.31,329.18 L98.49,329.07 L99.67,328.95 L100.84,328.84 L102.02,328.73 L103.2,328.62 L104.38,328.51 L105.56,328.4 L106.74,328.29 L107.92,328.18 L109.09,328.08 L110.27,327.97 L111.45,327.87 L112.63,327.76 L113.81,327.66 L114.99,327.56 L116.17,327.45 L117.35,327.35 L118.52,327.25 L119.7,327.15 L120.88,327.05 L122.06,326.96 L123.24,326.86 L124.42,326.76 L125.6,326.67 L126.77,326.57 L127.95,326.48 L129.13,326.38 L130.31,326.29 L131.49,326.2 L132.67,326.11 L133.85,326.02 L135.03,325.93 L136.2,325.84 L137.38,325.75 L138.56,325.66 L139.74,325.57 L140.92,325.49 L142.1,325.4 L143.28,325.31 L144.45,325.23 L145.63,325.14 L146.81,325.06 L147.99,324.98 L149.17,324.9 L150.35,324.81 L151.53,324.73 L152.71,324.65 L153.88,324.57 L155.06,324.49 L156.24,324.42 L157.42,324.34 L158.6,324.26 L159.78,324.18 L160.96,324.11 L162.13,324.03 L163.31,323.96 L164.49,323.88 L165.67,323.81 L166.85,323.74 L168.03,323.66 L169.21,323.59 L170.39,323.52 L171.56,323.45 L172.74,323.38 L173.92,323.31 L175.1,323.24 L176.28,323.17 L177.46,323.1 L178.64,323.03 L179.81,322.97 L180.99,322.9 L182.17,322.83 L183.35,322.77 L184.53,322.7 L185.71,322.64 L186.89,322.57 L188.07,322.51 L189.24,322.45 L190.42,322.38 L191.6,322.32 L192.78,322.26 L193.96,322.2 L195.14,322.14 L196.32,322.08 L197.49,322.02 L198.67,321.96 L199.85,321.9 L201.03,321.84 L202.21,321.78 L203.39,321.73 L204.57,321.67 L205.75,321.61 L206.92,321.55 L208.1,321.5 L209.28,321.44 L210.46,321.39 L211.64,321.33 L212.82,321.28 L214,321.23 L215.17,321.17 L216.35,321.12 L217.53,321.07 L218.71,321.01 L219.89,320.96 L221.07,320.91 L222.25,320.86 L223.43,320.81 L224.6,320.76 L225.78,320.71 L226.96,320.66 L228.14,320.61 L229.32,320.56 L230.5,320.51 L231.68,320.47 L232.85,320.42 L234.03,320.37 L235.21,320.32 L236.39,320.28 L237.57,320.23 L238.75,320.19 L239.93,320.14 L241.11,320.09 L242.28,320.05 L243.46,320.01 L244.64,319.96 L245.82,319.92 L247,319.87 L248.18,319.83 L249.36,319.79 L250.53,319.75 L251.71,319.7 L252.89,319.66 L254.07,319.62 L255.25,319.58 L256.43,319.54 L257.61,319.5 L258.79,319.46 L259.96,319.42 L261.14,319.38 L262.32,319.34 L263.5,319.3 L264.68,319.26 L265.86,319.22 L267.04,319.18 L268.21,319.15 L269.39,319.11 L270.57,319.07 L271.75,319.04 L272.93,319 L274.11,318.96 L275.29,318.93 L276.47,318.89 L277.64,318.85 L278.82,318.82 L280,318.78 L281.18,318.75 L282.36,318.72 L283.54,318.68 L284.72,318.65 L285.89,318.61 L287.07,318.58 L288.25,318.55 L289.43,318.51 L290.61,318.48 L291.79,318.45 L292.97,318.42 L294.15,318.38 L295.32,318.35 L296.5,318.32 L297.68,318.29 L298.86,318.26 L300.04,318.23 L301.22,318.2 L302.4,318.17 L303.57,318.14 L304.75,318.11 L305.93,318.08 L307.11,318.05 L308.29,318.02 L309.47,317.99 L310.65,317.96 L311.83,317.93 L313,317.91 L314.18,317.88 L315.36,317.85 L316.54,317.82 L317.72,317.8 L318.9,317.77 L320.08,317.74 L321.25,317.71 L322.43,317.69 L323.61,317.66 L324.79,317.64 L325.97,317.61 L327.15,317.58 L328.33,317.56 L329.51,317.53" fill="none" stroke="#000" stroke-width="2.1" stroke-linejoin="round" />
<path d="M406.4,312.02 H671.6" stroke="#555" stroke-width="1.2"/>
<path d="M406.4,306.26 L407.2,297.96 L408,301.83 L408.8,301.93 L409.6,306.5 L410.4,300.42 L411.2,302.95 L412,306.11 L412.8,306.58 L413.6,306.45 L414.4,304.98 L415.2,300.22 L416,300.95 L416.8,304.55 L417.6,304.55 L418.4,294.28 L419.2,300.93 L420,305.19 L420.8,303.56 L421.6,304.26 L422.4,302.81 L423.2,300.99 L424,303.87 L424.8,302.26 L425.6,301.76 L426.4,301.23 L427.2,304.76 L428,303.74 L428.8,298.25 L429.6,303.65 L430.4,303.11 L431.2,297.94 L432,304.63 L432.8,304.16 L433.6,298.99 L434.4,299.32 L435.2,305.94 L435.2,319.71 L434.4,319.35 L433.6,317.7 L432.8,318.33 L432,318.06 L431.2,319.83 L430.4,322.72 L429.6,322.77 L428.8,321.32 L428,322.06 L427.2,318.12 L426.4,318.65 L425.6,320.42 L424.8,320.29 L424,317.72 L423.2,319.83 L422.4,321.21 L421.6,314.78 L420.8,315.37 L420,317.81 L419.2,319.13 L418.4,317.8 L417.6,315.81 L416.8,317.81 L416,320.62 L415.2,321.67 L414.4,319.4 L413.6,319.39 L412.8,321.63 L412,316.54 L411.2,322.86 L410.4,318.98 L409.6,323 L408.8,319.19 L408,315.36 L407.2,315.96 L406.4,319.35Z" fill="#60709E" stroke="#60709E" stroke-width="0.6" stroke-linejoin="round"/>
<path d="M436.04,305.37 L436.74,304.37 L437.44,304.09 L438.14,303.53 L438.84,308.54 L439.54,307.19 L440.24,304.45 L440.94,305.1 L441.64,304.41 L442.34,305.79 L443.04,302.55 L443.74,302.62 L444.44,303.79 L445.14,301.79 L445.84,302.87 L446.54,305.19 L447.24,301.2 L447.94,305.23 L448.64,301.85 L449.34,303.46 L450.04,303.65 L450.74,301.14 L451.44,301.02 L452.14,301.58 L452.84,300.13 L453.54,303.73 L454.24,300.21 L454.94,302.38 L455.64,302.26 L456.34,302.2 L457.04,292.92 L457.74,296.45 L458.44,303.83 L459.14,301.85 L459.84,301.76 L460.54,300.82 L461.24,303.04 L461.94,304.33 L462.64,304.29 L463.34,293.35 L464.04,296.22 L464.74,301.8 L465.44,298.86 L466.14,302.34 L466.84,302.54 L467.54,302.35 L468.24,301.17 L468.94,302.32 L469.64,301.5 L470.34,302.59 L471.04,302.19 L471.74,301.57 L472.44,305.32 L473.14,303.27 L473.84,303.54 L474.54,303.84 L475.24,303.18 L475.94,299.73 L476.64,304.24 L477.34,300.94 L478.04,304.34 L478.74,301.59 L479.44,299.28 L480.14,301.62 L480.84,299.69 L481.54,299.66 L482.24,301.24 L482.94,300.42 L483.64,301.12 L484.34,303.01 L485.04,304.96 L485.74,304.7 L486.44,304.31 L487.14,291.22 L487.84,302.4 L488.54,301.41 L489.24,301.6 L489.94,302.37 L490.64,301.53 L491.34,303.21 L492.04,301.83 L492.74,303.84 L493.44,303.31 L494.14,303.34 L494.84,304.8 L495.54,301.78 L496.24,303.5 L496.94,302.63 L497.64,301.79 L498.34,301.85 L499.04,301.45 L499.74,302.83 L500.44,292.51 L501.14,302.61 L501.84,305.69 L502.54,305.23 L503.24,299.8 L503.94,304.44 L504.64,301.93 L505.34,304.28 L506.04,303.33 L506.74,300.31 L507.44,303.29 L508.14,295.38 L508.84,303.32 L509.54,303.02 L510.24,301.86 L510.94,303.26 L511.64,301.14 L512.34,303.33 L513.04,299.23 L513.74,302.22 L514.44,303.72 L515.14,305.24 L515.84,302.52 L516.54,303.6 L517.24,302.23 L517.94,302.61 L518.64,299.77 L519.34,298.15 L520.04,304.49 L520.74,302.33 L521.44,302.25 L522.14,300.2 L522.84,298.36 L523.54,302.01 L524.24,300.01 L524.94,304.79 L525.64,303.8 L526.34,304.32 L527.04,303.35 L527.74,305.13 L528.44,301.5 L529.14,303.05 L529.84,305.3 L530.54,304.48 L531.24,302.08 L531.94,301.14 L532.64,299.05 L533.34,293.37 L534.04,301.9 L534.74,304.43 L535.44,306.29 L536.14,298.78 L536.84,304.11 L537.54,303.4 L538.24,303.75 L538.94,298.13 L539.64,300.73 L540.34,297.5 L541.04,299.44 L541.74,304.51 L542.44,305.66 L543.14,303.52 L543.84,302.74 L544.54,299.47 L545.24,302.41 L545.94,300.88 L546.64,303.55 L547.34,304.78 L548.04,304.39 L548.74,303.95 L549.44,298.82 L550.14,303.62 L550.84,301.14 L551.54,304.27 L552.24,300.97 L552.94,298.14 L553.64,302.93 L554.34,302.72 L555.04,299.53 L555.74,301.85 L556.44,303.47 L557.14,304.85 L557.84,304.95 L558.54,302.34 L559.24,299.81 L559.94,302.36 L560.64,302.86 L561.34,302.13 L562.04,300.3 L562.74,302.25 L563.44,303.39 L564.14,297.97 L564.84,301.88 L565.54,299.88 L566.24,299.61 L566.94,300.07 L567.64,305.11 L568.34,299.68 L569.04,299.55 L569.74,302.97 L570.44,301.15 L571.14,300.02 L571.84,304.64 L572.54,304.26 L573.24,301.49 L573.94,297.15 L574.64,302.66 L575.34,302.94 L576.04,302.04 L576.74,299.09 L577.44,302.48 L578.14,301.49 L578.84,306.29 L579.54,302.74 L580.24,303.62 L580.94,304.84 L581.64,304.23 L582.34,303.25 L583.04,301 L583.74,305.04 L584.44,302.59 L585.14,303.52 L585.84,303.24 L586.54,288.62 L587.24,294.79 L587.94,300.24 L588.64,302.93 L589.34,296.54 L590.04,303.05 L590.74,302.21 L591.44,302.33 L592.14,303.85 L592.84,302.49 L593.54,300.18 L594.24,298.12 L594.94,299.27 L595.64,304.18 L596.34,303.17 L597.04,305.28 L597.74,303.71 L598.44,302.08 L599.14,300.48 L599.84,303.96 L600.54,303.83 L601.24,305.7 L601.94,302.94 L602.64,302.34 L603.34,303.6 L604.04,304.23 L604.74,302.05 L605.44,305.81 L606.14,305.29 L606.84,298.82 L607.54,304.97 L608.24,304.62 L608.94,299.34 L609.64,297.42 L610.34,304.76 L611.04,303.31 L611.74,302.03 L612.44,292.27 L613.14,304.42 L613.84,303.09 L614.54,301.25 L615.24,301.87 L615.94,303.33 L616.64,302.89 L617.34,305.12 L618.04,303.08 L618.74,300.85 L619.44,296.57 L620.14,303.65 L620.84,301.8 L621.54,300.83 L622.24,299.15 L622.94,302.01 L623.64,302.55 L624.34,302.65 L625.04,303.65 L625.74,296.72 L626.44,302.82 L627.14,298.88 L627.84,299.82 L628.54,301.95 L629.24,304.02 L629.94,304.65 L630.64,298.23 L631.34,302.18 L632.04,301.78 L632.74,305.79 L633.44,300.98 L634.14,294.6 L634.84,304.65 L635.54,303.5 L636.24,301.79 L636.94,302.55 L637.64,303.17 L638.34,302.83 L639.04,303.1 L639.74,302.37 L640.44,300 L641.14,306.29 L641.84,303.07 L642.54,302.33 L643.24,301.13 L643.94,303.32 L644.64,305.81 L645.34,296.48 L646.04,299.54 L646.74,304.26 L647.44,293.13 L648.14,303.24 L648.84,302.76 L649.54,304.54 L650.24,303.25 L650.94,300.31 L651.64,301.6 L652.34,299.53 L653.04,300.53 L653.74,301.86 L654.44,299.51 L655.14,301.86 L655.84,296.59 L656.54,303.18 L657.24,302.53 L657.94,302.77 L658.64,300.87 L659.34,304.77 L660.04,301.24 L660.74,302.99 L661.44,300.54 L662.14,301.3 L662.84,299.37 L663.54,301.33 L664.24,305.48 L664.94,302.77 L665.64,304.76 L666.34,303.58 L667.04,299.93 L667.74,301.5 L668.44,303.91 L669.14,304.47 L669.84,302.59 L670.54,304.84 L671.24,303.86 L671.24,317.47 L670.54,318.53 L669.84,320.28 L669.14,325.22 L668.44,319.01 L667.74,320.43 L667.04,321.13 L666.34,316.76 L665.64,316.58 L664.94,319.48 L664.24,318.98 L663.54,317.95 L662.84,319.52 L662.14,316.48 L661.44,321.74 L660.74,323.91 L660.04,319.78 L659.34,317.87 L658.64,319.98 L657.94,320.44 L657.24,325.9 L656.54,324.29 L655.84,319 L655.14,322.62 L654.44,318.56 L653.74,319.54 L653.04,316.1 L652.34,320.3 L651.64,318.92 L650.94,318.54 L650.24,319.43 L649.54,322.79 L648.84,320.33 L648.14,323.65 L647.44,319.97 L646.74,320.05 L646.04,316.98 L645.34,318.62 L644.64,318.42 L643.94,318.35 L643.24,325.88 L642.54,318.13 L641.84,323.43 L641.14,322.53 L640.44,314.45 L639.74,316.89 L639.04,322.15 L638.34,317.98 L637.64,317.74 L636.94,319.52 L636.24,317.53 L635.54,319.11 L634.84,329.96 L634.14,317.78 L633.44,321.23 L632.74,323.05 L632.04,318.94 L631.34,319.77 L630.64,316.7 L629.94,316.98 L629.24,319.21 L628.54,315.82 L627.84,327.62 L627.14,316.48 L626.44,319.28 L625.74,315.26 L625.04,326.21 L624.34,319.62 L623.64,319.19 L622.94,317.05 L622.24,317.04 L621.54,320.44 L620.84,323.89 L620.14,319.03 L619.44,314.88 L618.74,318.49 L618.04,319.49 L617.34,323.5 L616.64,317.22 L615.94,315.85 L615.24,319.91 L614.54,321.19 L613.84,318.34 L613.14,315.66 L612.44,323.04 L611.74,318.24 L611.04,316.29 L610.34,315.65 L609.64,325.61 L608.94,319.01 L608.24,315.77 L607.54,317.15 L606.84,319.19 L606.14,313.29 L605.44,318.26 L604.74,317.12 L604.04,319.8 L603.34,319.94 L602.64,319.7 L601.94,317.83 L601.24,315.84 L600.54,317.91 L599.84,317.29 L599.14,314.78 L598.44,317.7 L597.74,318.33 L597.04,316.14 L596.34,318.79 L595.64,318.6 L594.94,318.87 L594.24,315.84 L593.54,326.22 L592.84,317.78 L592.14,317.02 L591.44,315.53 L590.74,314.86 L590.04,315.22 L589.34,315.7 L588.64,316.93 L587.94,316.85 L587.24,320.65 L586.54,317.5 L585.84,317.94 L585.14,317.61 L584.44,318.08 L583.74,329.64 L583.04,315.03 L582.34,317.19 L581.64,316.51 L580.94,316.32 L580.24,317 L579.54,317.17 L578.84,315.21 L578.14,320.98 L577.44,317.21 L576.74,312.32 L576.04,318.67 L575.34,315.61 L574.64,317.71 L573.94,314.24 L573.24,317.32 L572.54,315.68 L571.84,314.77 L571.14,315.79 L570.44,319.23 L569.74,316.86 L569.04,316.6 L568.34,318.96 L567.64,315.52 L566.94,318.82 L566.24,318.48 L565.54,320.28 L564.84,314.63 L564.14,314.46 L563.44,319.11 L562.74,317.77 L562.04,314.89 L561.34,317.31 L560.64,316.7 L559.94,317.48 L559.24,315.88 L558.54,316.19 L557.84,315.45 L557.14,313.15 L556.44,316.78 L555.74,314.91 L555.04,316.68 L554.34,320.23 L553.64,314.87 L552.94,310.49 L552.24,316.06 L551.54,316.01 L550.84,317.36 L550.14,325.76 L549.44,313.01 L548.74,312.1 L548.04,315.05 L547.34,312.33 L546.64,317.29 L545.94,315.03 L545.24,316.38 L544.54,326.65 L543.84,316.17 L543.14,317.44 L542.44,316.66 L541.74,313.91 L541.04,316.19 L540.34,315.44 L539.64,315.06 L538.94,315.24 L538.24,316.37 L537.54,315.46 L536.84,317.85 L536.14,316.37 L535.44,319.9 L534.74,322.41 L534.04,320.08 L533.34,318.87 L532.64,314.52 L531.94,316.22 L531.24,315.42 L530.54,314.55 L529.84,314.3 L529.14,315.64 L528.44,316.58 L527.74,316.96 L527.04,318.43 L526.34,314.39 L525.64,319.67 L524.94,319.1 L524.24,311.12 L523.54,311.96 L522.84,328.08 L522.14,315.34 L521.44,314.71 L520.74,317.53 L520.04,313.18 L519.34,316.62 L518.64,315.36 L517.94,314.76 L517.24,318.35 L516.54,318.1 L515.84,315.19 L515.14,315.49 L514.44,315.21 L513.74,316.5 L513.04,313.87 L512.34,324.54 L511.64,316.1 L510.94,313.78 L510.24,316.75 L509.54,315 L508.84,314.92 L508.14,313.96 L507.44,315.05 L506.74,313.08 L506.04,312.31 L505.34,313.25 L504.64,313.09 L503.94,315.83 L503.24,310.84 L502.54,313.88 L501.84,319.59 L501.14,313.55 L500.44,314.75 L499.74,311.53 L499.04,317.09 L498.34,315.42 L497.64,313.3 L496.94,312.33 L496.24,311.24 L495.54,312.81 L494.84,316.07 L494.14,314 L493.44,316.24 L492.74,313.66 L492.04,316.15 L491.34,315.7 L490.64,314.07 L489.94,316.45 L489.24,315.02 L488.54,312.42 L487.84,309.59 L487.14,315.54 L486.44,315.36 L485.74,314.52 L485.04,315.93 L484.34,313.3 L483.64,313.01 L482.94,314.4 L482.24,312.73 L481.54,314.89 L480.84,313.75 L480.14,313.05 L479.44,312.08 L478.74,314.28 L478.04,313.72 L477.34,314.65 L476.64,320.52 L475.94,314.51 L475.24,314.05 L474.54,312.35 L473.84,313.28 L473.14,311.43 L472.44,311.65 L471.74,313.62 L471.04,314.05 L470.34,314.96 L469.64,311.64 L468.94,310.17 L468.24,310.92 L467.54,314.99 L466.84,320.33 L466.14,313.18 L465.44,323.29 L464.74,320.1 L464.04,309.47 L463.34,319.4 L462.64,317.11 L461.94,313.91 L461.24,314.41 L460.54,314.43 L459.84,315.28 L459.14,312.9 L458.44,314.39 L457.74,313.24 L457.04,311.39 L456.34,311.53 L455.64,315.54 L454.94,318.96 L454.24,310.98 L453.54,314.7 L452.84,313.6 L452.14,312.66 L451.44,312.68 L450.74,319.26 L450.04,313.49 L449.34,313.45 L448.64,313.49 L447.94,315.03 L447.24,314.62 L446.54,312.18 L445.84,314.79 L445.14,313.99 L444.44,327.21 L443.74,310.64 L443.04,316.73 L442.34,312.61 L441.64,310.84 L440.94,316.81 L440.24,314.78 L439.54,316.87 L438.84,314.92 L438.14,311.65 L437.44,315.79 L436.74,316.98 L436.04,315.69Z" fill="#60709E" stroke="#60709E" stroke-width="0.6" stroke-linejoin="round"/>
<path d="M436.57,439.27 L438.22,420.03" stroke="#E95628" stroke-width="2.2"/>
<path d="M436.04,419.58 L436.64,419.97 L437.24,418.24 L437.84,415.98 L438.44,415.1 L439.04,414.15 L439.64,414.15 L440.24,413.76 L440.84,410.74 L441.44,410.71 L442.04,407.8 L442.64,407.45 L443.24,407.57 L443.84,405.14 L444.44,403.47 L445.04,403.09 L445.64,403.28 L446.24,398.84 L446.84,399.73 L447.44,398.11 L448.04,397.25 L448.64,398.38 L449.24,396.88 L449.84,394.5 L450.44,396.56 L451.04,392.42 L451.64,393.61 L452.24,392.17 L452.84,388.86 L453.44,389.95 L454.04,389.4 L454.64,387.8 L455.24,387.45 L455.84,387.32 L456.44,385.37 L457.04,375.19 L457.64,382.91 L458.24,382.76 L458.84,382.23 L459.44,380.77 L460.04,380.25 L460.64,381.44 L461.24,378.94 L461.84,378.81 L462.44,375.94 L463.04,377.75 L463.64,375.16 L464.24,377.61 L464.84,375.03 L465.44,375.7 L466.04,375.26 L466.64,372.45 L467.24,373.81 L467.84,372.38 L468.44,372.49 L469.04,370.45 L469.64,370 L470.24,372.02 L470.84,368.25 L471.44,369.37 L472.04,362.2 L472.64,366.28 L473.24,365.62 L473.84,368.56 L474.44,363.48 L475.04,365.13 L475.64,366.37 L476.24,363.71 L476.84,361.93 L477.44,365.11 L478.04,361.2 L478.64,362.46 L479.24,362.27 L479.84,361.59 L480.44,361.61 L481.04,359.82 L481.64,359.28 L482.24,353.65 L482.84,354.87 L483.44,358.6 L484.04,356.36 L484.64,358.76 L485.24,355.96 L485.84,357.78 L486.44,356.66 L487.04,354.2 L487.64,356.02 L488.24,349.92 L488.84,354.15 L489.44,354.73 L490.04,352.74 L490.64,351.11 L491.24,354.08 L491.84,350.22 L492.44,351.49 L493.04,348.57 L493.64,351.43 L494.24,351.3 L494.84,349.88 L495.44,350.45 L496.04,349.38 L496.64,349.26 L497.24,347.14 L497.84,348.02 L498.44,349.68 L499.04,349.4 L499.64,348.61 L500.24,349.22 L500.84,348.87 L501.44,343.7 L502.04,347.1 L502.64,344.08 L503.24,345.95 L503.84,345.57 L504.44,346.88 L505.04,342.81 L505.64,344.6 L506.24,341.67 L506.84,344.37 L507.44,341.54 L508.04,340.98 L508.64,344.48 L509.24,341.69 L509.84,343.29 L510.44,343.16 L511.04,341.25 L511.64,340.08 L512.24,339.11 L512.84,340.99 L513.44,339.01 L514.04,339.29 L514.64,339.75 L515.24,340.67 L515.84,338.51 L516.44,334.43 L517.04,339.87 L517.64,338.63 L518.24,339.3 L518.84,336.14 L519.44,335.34 L520.04,335.69 L520.64,334.62 L521.24,337.01 L521.84,334.52 L522.44,337.49 L523.04,334.2 L523.64,334.05 L524.24,336.53 L524.84,334.28 L525.44,336.65 L526.04,335.19 L526.64,334.75 L527.24,336.02 L527.84,335.84 L528.44,334.3 L529.04,331.69 L529.64,334.06 L530.24,334.61 L530.84,332.43 L531.44,333.42 L532.04,332.77 L532.64,330.9 L533.24,331.92 L533.84,333.17 L534.44,332.4 L535.04,330.68 L535.64,332.18 L536.24,331.81 L536.84,330.91 L537.44,330.57 L538.04,331.33 L538.64,330.01 L539.24,330.56 L539.84,332.07 L540.44,329.34 L541.04,331.13 L541.64,325.85 L542.24,329.27 L542.84,329.83 L543.44,328.19 L544.04,327.22 L544.64,326.98 L545.24,328.38 L545.84,327.22 L546.44,326.73 L547.04,328.16 L547.64,330.08 L548.24,327.92 L548.84,329.75 L549.44,328.78 L550.04,325.7 L550.64,324.16 L551.24,327.22 L551.84,328.14 L552.44,327.97 L553.04,327.6 L553.64,328.37 L554.24,328.36 L554.84,324.93 L555.44,322.54 L556.04,326.81 L556.64,323.38 L557.24,327.3 L557.84,325.1 L558.44,327.22 L559.04,324.1 L559.64,325.01 L560.24,326.67 L560.84,324.16 L561.44,321.32 L562.04,324.61 L562.64,324.54 L563.24,324.34 L563.84,324.06 L564.44,322.48 L565.04,322.3 L565.64,325.75 L566.24,322.16 L566.84,323.87 L567.44,321.32 L568.04,322.77 L568.64,321.99 L569.24,323.8 L569.84,324.75 L570.44,322.56 L571.04,321.53 L571.64,318.13 L572.24,321.54 L572.84,322.15 L573.44,321.4 L574.04,323.3 L574.64,322.3 L575.24,323.87 L575.84,321.97 L576.44,322.2 L577.04,321.62 L577.64,320.23 L578.24,321.4 L578.84,323.23 L579.44,319.5 L580.04,320.98 L580.64,320.07 L581.24,322.02 L581.84,319.81 L582.44,318.8 L583.04,319.25 L583.64,319 L584.24,321.73 L584.84,321.42 L585.44,320.32 L586.04,317.51 L586.64,321.96 L587.24,320.88 L587.84,319.91 L588.44,318.41 L589.04,319.93 L589.64,319.14 L590.24,320.96 L590.84,318.52 L591.44,318.07 L592.04,320.28 L592.64,320.3 L593.24,318.68 L593.84,318.68 L594.44,318.34 L595.04,320.54 L595.64,319.38 L596.24,317.25 L596.84,316.73 L597.44,318.76 L598.04,318.87 L598.64,319.67 L599.24,318.41 L599.84,316.77 L600.44,320.04 L601.04,318.04 L601.64,315.51 L602.24,314.82 L602.84,317.08 L603.44,316.13 L604.04,317.77 L604.64,319.52 L605.24,319.45 L605.84,318.57 L606.44,317.38 L607.04,317.87 L607.64,318.04 L608.24,314.99 L608.84,319.04 L609.44,318.61 L610.04,314.03 L610.64,316.7 L611.24,317.93 L611.84,318.46 L612.44,315.87 L613.04,315.94 L613.64,315.74 L614.24,318.44 L614.84,316.51 L615.44,316.91 L616.04,315.99 L616.64,316.13 L617.24,315.48 L617.84,314.38 L618.44,318.05 L619.04,315.13 L619.64,314.03 L620.24,315.01 L620.84,316.18 L621.44,315.89 L622.04,316.7 L622.64,315.66 L623.24,315.14 L623.84,315.78 L624.44,316.9 L625.04,317.44 L625.64,313.72 L626.24,317.34 L626.84,313.24 L627.44,317.23 L628.04,314.26 L628.64,315.2 L629.24,317.08 L629.84,316.02 L630.44,316.65 L631.04,316.51 L631.64,314.05 L632.24,316.72 L632.84,316.8 L633.44,313.61 L634.04,314.52 L634.64,314.99 L635.24,315.32 L635.84,313.99 L636.44,314.37 L637.04,314.97 L637.64,315.56 L638.24,312.27 L638.84,312.78 L639.44,314.03 L640.04,310.66 L640.64,314.27 L641.24,314.29 L641.84,312.49 L642.44,314.06 L643.04,314.07 L643.64,314.85 L644.24,313.71 L644.84,315.94 L645.44,315.23 L646.04,315.66 L646.64,315.82 L647.24,312.72 L647.84,314.56 L648.44,315.25 L649.04,313.55 L649.64,315.64 L650.24,312.8 L650.84,312.09 L651.44,315.53 L652.04,312.31 L652.64,313.58 L653.24,312.32 L653.84,313.52 L654.44,314.87 L655.04,315.32 L655.64,315.16 L656.24,314.32 L656.84,312.23 L657.44,312.76 L658.04,313.17 L658.64,311.6 L659.24,315.09 L659.84,315.03 L660.44,314.96 L661.04,313.33 L661.64,314.97 L662.24,312.36 L662.84,311.53 L663.44,311.98 L664.04,311.23 L664.64,313.99 L665.24,314.58 L665.84,312.84 L666.44,314.38 L667.04,313.26 L667.64,313.29 L668.24,312.38 L668.84,311.16 L669.44,311.2 L670.04,311.77 L670.64,313.25 L671.24,312.08 L671.24,318.79 L670.64,322.22 L670.04,321.73 L669.44,318.89 L668.84,322.3 L668.24,322.75 L667.64,321.33 L667.04,324.22 L666.44,321.18 L665.84,320.83 L665.24,321.42 L664.64,320.07 L664.04,322.03 L663.44,321.03 L662.84,322.16 L662.24,322.16 L661.64,325.2 L661.04,321.99 L660.44,320.96 L659.84,320.2 L659.24,319.8 L658.64,321.5 L658.04,320.6 L657.44,323.3 L656.84,320.91 L656.24,321.74 L655.64,323.58 L655.04,321.63 L654.44,321.04 L653.84,324.74 L653.24,322.67 L652.64,322.86 L652.04,321.7 L651.44,321.28 L650.84,322.97 L650.24,321.82 L649.64,321.64 L649.04,323.75 L648.44,319.28 L647.84,321.6 L647.24,321.73 L646.64,323.65 L646.04,321.98 L645.44,320.85 L644.84,323.85 L644.24,322.48 L643.64,321.06 L643.04,323.11 L642.44,320.06 L641.84,320.82 L641.24,321.53 L640.64,321.18 L640.04,318.65 L639.44,323.19 L638.84,322.84 L638.24,322.49 L637.64,323.52 L637.04,322.26 L636.44,324.72 L635.84,320.69 L635.24,324.96 L634.64,323.31 L634.04,323.55 L633.44,324.31 L632.84,325.42 L632.24,323.82 L631.64,323.88 L631.04,323.98 L630.44,327.73 L629.84,325.07 L629.24,322.28 L628.64,322.39 L628.04,321.88 L627.44,323.57 L626.84,324.16 L626.24,324.11 L625.64,325.6 L625.04,322.88 L624.44,324.07 L623.84,323.86 L623.24,321.99 L622.64,324.52 L622.04,325.93 L621.44,325.95 L620.84,323.71 L620.24,322.15 L619.64,327.5 L619.04,321.83 L618.44,323.3 L617.84,325.64 L617.24,325.15 L616.64,323.7 L616.04,326.41 L615.44,323.04 L614.84,326.97 L614.24,326 L613.64,325.44 L613.04,323.92 L612.44,325.46 L611.84,325.14 L611.24,326.57 L610.64,322.28 L610.04,325.52 L609.44,325.19 L608.84,325.36 L608.24,326.18 L607.64,326.46 L607.04,326.92 L606.44,325.06 L605.84,327.06 L605.24,324.86 L604.64,327.31 L604.04,327.87 L603.44,326.09 L602.84,328.51 L602.24,324.32 L601.64,328.48 L601.04,328.32 L600.44,328.5 L599.84,326.32 L599.24,326.83 L598.64,323.72 L598.04,325.07 L597.44,326.06 L596.84,329.3 L596.24,328.91 L595.64,329.55 L595.04,329.12 L594.44,328.7 L593.84,326.66 L593.24,325.39 L592.64,328.4 L592.04,327.32 L591.44,329.44 L590.84,327.18 L590.24,328.34 L589.64,333.64 L589.04,326.2 L588.44,327.73 L587.84,328.24 L587.24,327.88 L586.64,328.58 L586.04,328.49 L585.44,329.59 L584.84,329.18 L584.24,327.27 L583.64,330.17 L583.04,329.26 L582.44,328.19 L581.84,327.57 L581.24,329.7 L580.64,329.27 L580.04,329.84 L579.44,329.33 L578.84,328.97 L578.24,328.5 L577.64,329.8 L577.04,330.83 L576.44,330.77 L575.84,331.84 L575.24,333.07 L574.64,328.99 L574.04,330.83 L573.44,330.17 L572.84,329.28 L572.24,332.59 L571.64,334.54 L571.04,332.93 L570.44,332.13 L569.84,330.68 L569.24,332.7 L568.64,330.3 L568.04,333.26 L567.44,334 L566.84,331.91 L566.24,332.62 L565.64,331.09 L565.04,330.14 L564.44,330.77 L563.84,335.19 L563.24,332.07 L562.64,330.46 L562.04,334.1 L561.44,331.52 L560.84,333.56 L560.24,333.97 L559.64,334.69 L559.04,334.28 L558.44,332.18 L557.84,333.81 L557.24,336.11 L556.64,332.2 L556.04,340.07 L555.44,333.23 L554.84,335.7 L554.24,334 L553.64,336.07 L553.04,338.08 L552.44,335.12 L551.84,337.17 L551.24,334.47 L550.64,336.6 L550.04,335.64 L549.44,339.77 L548.84,337.02 L548.24,336.42 L547.64,335.69 L547.04,339.43 L546.44,336.79 L545.84,338.44 L545.24,338.7 L544.64,338.46 L544.04,337.48 L543.44,337.01 L542.84,335.66 L542.24,337.19 L541.64,340.51 L541.04,338.88 L540.44,337.5 L539.84,338.24 L539.24,340.47 L538.64,339.46 L538.04,340.2 L537.44,338.39 L536.84,339.18 L536.24,339.24 L535.64,340.76 L535.04,339.84 L534.44,342.19 L533.84,342.29 L533.24,341.99 L532.64,339.54 L532.04,343.29 L531.44,342.38 L530.84,343.47 L530.24,343.89 L529.64,343.3 L529.04,347.35 L528.44,345.5 L527.84,341.4 L527.24,343.22 L526.64,345.21 L526.04,343.89 L525.44,342.06 L524.84,342.5 L524.24,346.59 L523.64,345.16 L523.04,347.39 L522.44,345.5 L521.84,347.03 L521.24,345.82 L520.64,346.29 L520.04,344.45 L519.44,347.93 L518.84,346.72 L518.24,346.94 L517.64,347.99 L517.04,345.83 L516.44,346.68 L515.84,346.87 L515.24,349.33 L514.64,347.98 L514.04,348.59 L513.44,348.61 L512.84,347.68 L512.24,351.16 L511.64,348.93 L511.04,349.51 L510.44,351.4 L509.84,348.21 L509.24,351.5 L508.64,349.56 L508.04,352.35 L507.44,350.6 L506.84,350.85 L506.24,353.94 L505.64,352.4 L505.04,353.56 L504.44,353.4 L503.84,352.21 L503.24,357.4 L502.64,354.61 L502.04,352.68 L501.44,353.04 L500.84,355.48 L500.24,357.77 L499.64,356.42 L499.04,356.22 L498.44,355.56 L497.84,356.63 L497.24,357.29 L496.64,358.42 L496.04,357.25 L495.44,360.49 L494.84,359.53 L494.24,358.2 L493.64,357.26 L493.04,360.25 L492.44,359.71 L491.84,358.95 L491.24,363 L490.64,358.69 L490.04,361.83 L489.44,361.61 L488.84,361.41 L488.24,362.46 L487.64,362.21 L487.04,362.44 L486.44,363.15 L485.84,363.48 L485.24,363.75 L484.64,362.88 L484.04,366.92 L483.44,366.23 L482.84,368.72 L482.24,369.03 L481.64,369.51 L481.04,365.58 L480.44,368.88 L479.84,370.42 L479.24,368.68 L478.64,368.63 L478.04,370.59 L477.44,370.23 L476.84,371.87 L476.24,371.8 L475.64,371.75 L475.04,371.98 L474.44,373.02 L473.84,374.4 L473.24,373.39 L472.64,373.57 L472.04,373.88 L471.44,376.91 L470.84,375.82 L470.24,378.33 L469.64,379.81 L469.04,377.68 L468.44,380.88 L467.84,380.79 L467.24,379.36 L466.64,383 L466.04,384.57 L465.44,382.61 L464.84,384.25 L464.24,385.61 L463.64,384.34 L463.04,387.83 L462.44,386.1 L461.84,385.85 L461.24,387.26 L460.64,387.45 L460.04,387.99 L459.44,390.47 L458.84,389.78 L458.24,390.91 L457.64,391.52 L457.04,393.42 L456.44,393.83 L455.84,393.67 L455.24,393.97 L454.64,395.57 L454.04,396.15 L453.44,398.2 L452.84,397.25 L452.24,399.02 L451.64,400.58 L451.04,401.13 L450.44,402.33 L449.84,400.37 L449.24,405.25 L448.64,405.68 L448.04,407.94 L447.44,406.49 L446.84,407.19 L446.24,408.07 L445.64,408.4 L445.04,412.47 L444.44,412.02 L443.84,412.46 L443.24,415.16 L442.64,414.45 L442.04,416.21 L441.44,419.36 L440.84,417.59 L440.24,420.3 L439.64,422.05 L439.04,422.88 L438.44,423.9 L437.84,423.76 L437.24,423.8 L436.64,425.93 L436.04,427.98Z" fill="#E95628" stroke="#E95628" stroke-width="0.6" stroke-linejoin="round"/>
<path d="M406.4,307.55 L407,307.75 L407.6,306.84 L408.2,305.99 L408.8,307.18 L409.4,306.69 L410,306.36 L410.6,306.18 L411.2,308.07 L411.8,306.44 L412.4,307.02 L413,307.72 L413.6,307.82 L414.2,307.28 L414.8,308.2 L415.4,308.75 L416,306.93 L416.6,306.07 L417.2,307.29 L417.8,306.11 L418.4,307.48 L419,308.2 L419.6,308.83 L420.2,307.99 L420.8,305.26 L421.4,307.28 L422,309.18 L422.6,307 L423.2,307.47 L423.8,307.57 L424.4,307.77 L425,308.02 L425.6,307.45 L426.2,309.18 L426.8,308.38 L427.4,307.4 L428,306.09 L428.6,306.45 L429.2,304.78 L429.8,305.55 L430.4,309.24 L431,306.37 L431.6,305.83 L432.2,306.73 L432.8,309.23 L433.4,307.44 L434,307.99 L434.6,306.56 L435.2,305.62 L435.2,315.04 L434.6,315.37 L434,315.21 L433.4,317.37 L432.8,316.04 L432.2,315.54 L431.6,316.01 L431,316.2 L430.4,316.42 L429.8,317.93 L429.2,315.12 L428.6,316.91 L428,315.32 L427.4,314.26 L426.8,315.73 L426.2,315.87 L425.6,317.26 L425,316.71 L424.4,317.43 L423.8,316.5 L423.2,316.56 L422.6,315.37 L422,315.4 L421.4,314.8 L420.8,316.85 L420.2,317.33 L419.6,316.54 L419,315.41 L418.4,317.4 L417.8,314.69 L417.2,314.81 L416.6,317.15 L416,314.11 L415.4,316.87 L414.8,316.19 L414.2,315.34 L413.6,314.51 L413,316.69 L412.4,317.25 L411.8,317.99 L411.2,315.92 L410.6,316.12 L410,316.43 L409.4,315.84 L408.8,317.39 L408.2,316.21 L407.6,317.15 L407,314.96 L406.4,316.98Z" fill="#FF2891" stroke="#FF2891" stroke-width="0.6" stroke-linejoin="round"/>
<path d="M436.04,313.86 L436.64,311.94 L437.24,313.56 L437.84,312.43 L438.44,314.5 L439.04,314.76 L439.64,313.19 L440.24,313.64 L440.84,313.03 L441.44,310.26 L442.04,312.73 L442.64,313.45 L443.24,314.06 L443.84,314.17 L444.44,312.73 L445.04,311.08 L445.64,312.95 L446.24,314.24 L446.84,313.1 L447.44,312.01 L448.04,312.65 L448.64,314.22 L449.24,312.81 L449.84,312.2 L450.44,311.86 L451.04,314.96 L451.64,313.19 L452.24,312.16 L452.84,310.57 L453.44,311.38 L454.04,313.38 L454.64,311.57 L455.24,313.1 L455.84,312.73 L456.44,312.94 L457.04,312.22 L457.64,310.67 L458.24,313.6 L458.84,311.55 L459.44,312.4 L460.04,311.57 L460.64,311.51 L461.24,312.54 L461.84,311.66 L462.44,311.03 L463.04,313.6 L463.64,310.92 L464.24,311.96 L464.84,310.62 L465.44,314.57 L466.04,312.32 L466.64,311.48 L467.24,312.97 L467.84,314.34 L468.44,312.48 L469.04,312.49 L469.64,313.42 L470.24,313.16 L470.84,311.29 L471.44,312.3 L472.04,310.97 L472.64,309.72 L473.24,312.06 L473.84,312.08 L474.44,313.79 L475.04,314.25 L475.64,312.3 L476.24,312.8 L476.84,311.28 L477.44,310.88 L478.04,312.21 L478.64,311.56 L479.24,312.89 L479.84,311.55 L480.44,313.75 L481.04,311.51 L481.64,310.75 L482.24,314.26 L482.84,312.91 L483.44,311.22 L484.04,311.44 L484.64,311.47 L485.24,313.02 L485.84,310.19 L486.44,311.37 L487.04,311.54 L487.64,310.24 L488.24,311 L488.84,311.01 L489.44,311.79 L490.04,311.98 L490.64,313.66 L491.24,310.7 L491.84,309.81 L492.44,313.09 L493.04,311.16 L493.64,311.71 L494.24,312.47 L494.84,312.14 L495.44,313.48 L496.04,310.73 L496.64,311.72 L497.24,310.97 L497.84,310.02 L498.44,310.95 L499.04,312.58 L499.64,310.12 L500.24,311.49 L500.84,311.32 L501.44,312.3 L502.04,311.38 L502.64,311.95 L503.24,312.32 L503.84,312.11 L504.44,310.09 L505.04,310.16 L505.64,312.23 L506.24,312.13 L506.84,311.08 L507.44,312.41 L508.04,312.11 L508.64,310.56 L509.24,309.21 L509.84,310.64 L510.44,311.12 L511.04,310.9 L511.64,310.96 L512.24,311.66 L512.84,310.26 L513.44,311.19 L514.04,310.52 L514.64,310.98 L515.24,309.87 L515.84,310.31 L516.44,310.72 L517.04,311.52 L517.64,309.16 L518.24,307.02 L518.84,309.59 L519.44,309.94 L520.04,312.34 L520.64,310.84 L521.24,304.87 L521.84,311.66 L522.44,311.95 L523.04,310.64 L523.64,313.5 L524.24,310.6 L524.84,310.79 L525.44,311.63 L526.04,309.35 L526.64,311.79 L527.24,307.71 L527.84,311.94 L528.44,311.21 L529.04,309.94 L529.64,312.67 L530.24,308.92 L530.84,311.7 L531.44,310.07 L532.04,308.99 L532.64,309.71 L533.24,312.2 L533.84,308.1 L534.44,308.95 L535.04,308.83 L535.64,311.65 L536.24,311.15 L536.84,311.47 L537.44,310.08 L538.04,309.79 L538.64,309.05 L539.24,307.24 L539.84,309.44 L540.44,310.35 L541.04,311.01 L541.64,313.68 L542.24,311.26 L542.84,309.43 L543.44,313.82 L544.04,310.93 L544.64,311.83 L545.24,310.72 L545.84,310.31 L546.44,310.26 L547.04,312.84 L547.64,310.83 L548.24,309.85 L548.84,309.46 L549.44,309.18 L550.04,310.98 L550.64,308.76 L551.24,310.42 L551.84,309.5 L552.44,310.08 L553.04,311.01 L553.64,309.98 L554.24,309.98 L554.84,310.48 L555.44,309.84 L556.04,311.3 L556.64,310.03 L557.24,309.44 L557.84,311.81 L558.44,310.52 L559.04,309.68 L559.64,308.38 L560.24,310.79 L560.84,310.97 L561.44,308.67 L562.04,311.55 L562.64,309.79 L563.24,310.29 L563.84,308.31 L564.44,309.28 L565.04,310.15 L565.64,308.97 L566.24,310.76 L566.84,309.89 L567.44,311.82 L568.04,310.25 L568.64,310.26 L569.24,310.14 L569.84,311.49 L570.44,308.68 L571.04,311.65 L571.64,308.08 L572.24,310.66 L572.84,310.02 L573.44,310.54 L574.04,311.04 L574.64,304.98 L575.24,309.99 L575.84,307.79 L576.44,310.99 L577.04,310.91 L577.64,308.57 L578.24,311.78 L578.84,308.07 L579.44,308.26 L580.04,311.57 L580.64,308.43 L581.24,309.31 L581.84,310.2 L582.44,309.58 L583.04,306 L583.64,309.68 L584.24,309.57 L584.84,309.99 L585.44,309.95 L586.04,311 L586.64,310.1 L587.24,306.11 L587.84,308.54 L588.44,311.34 L589.04,310.09 L589.64,311.13 L590.24,310.55 L590.84,310.11 L591.44,310.9 L592.04,308.32 L592.64,308.94 L593.24,308.57 L593.84,305.42 L594.44,310.96 L595.04,309.48 L595.64,309.64 L596.24,309.68 L596.84,309.5 L597.44,310.56 L598.04,311.45 L598.64,307.92 L599.24,310.57 L599.84,310.23 L600.44,309.63 L601.04,310.87 L601.64,311.19 L602.24,310.32 L602.84,310.59 L603.44,309.7 L604.04,311.61 L604.64,310.07 L605.24,310.06 L605.84,310.34 L606.44,309.35 L607.04,308.87 L607.64,310.09 L608.24,309.37 L608.84,310.53 L609.44,310.01 L610.04,309.08 L610.64,310.92 L611.24,310.26 L611.84,310.31 L612.44,312.37 L613.04,308.78 L613.64,307.32 L614.24,306.68 L614.84,308.35 L615.44,309.47 L616.04,309.38 L616.64,309.94 L617.24,310.8 L617.84,311.58 L618.44,308.37 L619.04,309.6 L619.64,311.02 L620.24,311.23 L620.84,309.71 L621.44,310.58 L622.04,310.57 L622.64,309.15 L623.24,309.81 L623.84,311.47 L624.44,310.68 L625.04,309.77 L625.64,310.24 L626.24,309.95 L626.84,310.28 L627.44,310.55 L628.04,307.29 L628.64,311.12 L629.24,309.34 L629.84,309.82 L630.44,310.19 L631.04,309.28 L631.64,308.74 L632.24,309.43 L632.84,310.52 L633.44,309.75 L634.04,310.55 L634.64,310.24 L635.24,309.31 L635.84,308.79 L636.44,310.86 L637.04,309.81 L637.64,311.06 L638.24,309.47 L638.84,310.28 L639.44,308.71 L640.04,309.06 L640.64,309.23 L641.24,310.7 L641.84,309.31 L642.44,310.23 L643.04,309.31 L643.64,311.39 L644.24,309.64 L644.84,309.24 L645.44,310.36 L646.04,309.91 L646.64,311.87 L647.24,308.88 L647.84,308.26 L648.44,308.8 L649.04,310.61 L649.64,309.93 L650.24,312.43 L650.84,309.79 L651.44,307.44 L652.04,310.47 L652.64,308.43 L653.24,309.65 L653.84,310.4 L654.44,310.61 L655.04,309.18 L655.64,309.25 L656.24,309.9 L656.84,310.11 L657.44,309.6 L658.04,310.34 L658.64,311.16 L659.24,310.3 L659.84,310.35 L660.44,310.63 L661.04,309.07 L661.64,308.39 L662.24,308.93 L662.84,308.36 L663.44,311.94 L664.04,309.56 L664.64,309.56 L665.24,308.09 L665.84,310.43 L666.44,310.44 L667.04,307.88 L667.64,309.66 L668.24,308.54 L668.84,308.25 L669.44,310.67 L670.04,308.08 L670.64,309.88 L671.24,306.91 L671.24,321.04 L670.64,320.46 L670.04,319.73 L669.44,319.95 L668.84,320.08 L668.24,318.37 L667.64,320.84 L667.04,322.32 L666.44,321.56 L665.84,323.37 L665.24,322.04 L664.64,320.18 L664.04,321.31 L663.44,321.48 L662.84,320.06 L662.24,320.11 L661.64,318.88 L661.04,320.49 L660.44,320.18 L659.84,319.35 L659.24,319.59 L658.64,318.07 L658.04,319.85 L657.44,320.27 L656.84,322.51 L656.24,321.93 L655.64,320.35 L655.04,321.55 L654.44,319.76 L653.84,320.1 L653.24,321.81 L652.64,321.45 L652.04,320.26 L651.44,321.94 L650.84,320.36 L650.24,321 L649.64,319.88 L649.04,321.24 L648.44,322.04 L647.84,320.75 L647.24,320.1 L646.64,321.55 L646.04,320.48 L645.44,320.3 L644.84,320.8 L644.24,318.6 L643.64,320.89 L643.04,320.61 L642.44,319.69 L641.84,321.53 L641.24,320.42 L640.64,321.79 L640.04,319.67 L639.44,320.9 L638.84,320.49 L638.24,321.37 L637.64,321.33 L637.04,319.9 L636.44,318.67 L635.84,319.26 L635.24,322.26 L634.64,320.27 L634.04,320.59 L633.44,319.14 L632.84,320.33 L632.24,321.43 L631.64,321.04 L631.04,320.76 L630.44,321.22 L629.84,319.96 L629.24,320.82 L628.64,319.01 L628.04,320.67 L627.44,319.21 L626.84,321.03 L626.24,320.47 L625.64,321 L625.04,322.04 L624.44,321.84 L623.84,320.02 L623.24,320.24 L622.64,321.03 L622.04,322 L621.44,322.7 L620.84,322.12 L620.24,321.03 L619.64,321.2 L619.04,321.87 L618.44,320.58 L617.84,320.49 L617.24,321.43 L616.64,321.11 L616.04,319.49 L615.44,321.77 L614.84,320.49 L614.24,321.25 L613.64,322.07 L613.04,321.61 L612.44,320.48 L611.84,318.75 L611.24,321.46 L610.64,320.03 L610.04,321.73 L609.44,323.74 L608.84,323.73 L608.24,325.07 L607.64,319.99 L607.04,324.32 L606.44,320.84 L605.84,324.55 L605.24,320.1 L604.64,320.43 L604.04,321.55 L603.44,320.23 L602.84,321.21 L602.24,320.54 L601.64,320.57 L601.04,319.39 L600.44,320.45 L599.84,320.63 L599.24,321.2 L598.64,322.08 L598.04,322.06 L597.44,324.59 L596.84,321.55 L596.24,322.29 L595.64,320.85 L595.04,320.06 L594.44,320.25 L593.84,319.95 L593.24,323.28 L592.64,321.63 L592.04,319.57 L591.44,320.14 L590.84,319.28 L590.24,321.11 L589.64,320.05 L589.04,321.79 L588.44,322.1 L587.84,321.72 L587.24,320.48 L586.64,321.12 L586.04,321.62 L585.44,319.51 L584.84,322.09 L584.24,322.38 L583.64,324.13 L583.04,322.23 L582.44,322.52 L581.84,322.69 L581.24,318.81 L580.64,319.97 L580.04,322.13 L579.44,322.98 L578.84,320 L578.24,322.62 L577.64,320.24 L577.04,323.89 L576.44,319.73 L575.84,321.36 L575.24,321.6 L574.64,323.34 L574.04,323.27 L573.44,321.82 L572.84,320.55 L572.24,319.86 L571.64,321.24 L571.04,321.32 L570.44,322.97 L569.84,321.03 L569.24,319.22 L568.64,322.48 L568.04,322.21 L567.44,322.47 L566.84,320.68 L566.24,321.04 L565.64,321.58 L565.04,320.78 L564.44,323.16 L563.84,321.12 L563.24,320.23 L562.64,321.44 L562.04,322.37 L561.44,322.57 L560.84,321.13 L560.24,322 L559.64,321.36 L559.04,321.66 L558.44,319.63 L557.84,321.11 L557.24,321.38 L556.64,320.24 L556.04,319.95 L555.44,322.37 L554.84,323.56 L554.24,321.57 L553.64,321.52 L553.04,319.82 L552.44,320.6 L551.84,322.65 L551.24,321.6 L550.64,322.83 L550.04,322.45 L549.44,320.35 L548.84,320.91 L548.24,321.29 L547.64,322.31 L547.04,322.26 L546.44,321.74 L545.84,320.02 L545.24,326.95 L544.64,322.14 L544.04,322.67 L543.44,324.36 L542.84,322.25 L542.24,321.81 L541.64,324.73 L541.04,320.8 L540.44,321.24 L539.84,322.05 L539.24,320.98 L538.64,319.54 L538.04,323.44 L537.44,321.12 L536.84,320.75 L536.24,322.7 L535.64,320.25 L535.04,321.97 L534.44,321.68 L533.84,321.29 L533.24,321.72 L532.64,322.94 L532.04,322.27 L531.44,321.17 L530.84,321.24 L530.24,321.26 L529.64,322.53 L529.04,320.27 L528.44,323.31 L527.84,322.51 L527.24,321.1 L526.64,322.25 L526.04,322.62 L525.44,321.96 L524.84,322.07 L524.24,321.88 L523.64,322.44 L523.04,322.51 L522.44,324.25 L521.84,322.17 L521.24,322.85 L520.64,322.66 L520.04,323.24 L519.44,321.47 L518.84,323.37 L518.24,322.85 L517.64,322.9 L517.04,319.92 L516.44,322.25 L515.84,321.42 L515.24,321.64 L514.64,322.8 L514.04,322.15 L513.44,321.13 L512.84,321.58 L512.24,326.34 L511.64,321.62 L511.04,323.03 L510.44,323.63 L509.84,323.69 L509.24,323.65 L508.64,323.84 L508.04,322.4 L507.44,324.1 L506.84,320.1 L506.24,323.64 L505.64,321.4 L505.04,323.57 L504.44,322.47 L503.84,324.03 L503.24,322.21 L502.64,321.12 L502.04,321.45 L501.44,322.89 L500.84,322.87 L500.24,322.6 L499.64,320.74 L499.04,326.82 L498.44,324.7 L497.84,322.84 L497.24,322.29 L496.64,321.58 L496.04,321.38 L495.44,322.98 L494.84,322.37 L494.24,323.75 L493.64,323.14 L493.04,322.2 L492.44,322.89 L491.84,323.85 L491.24,321.9 L490.64,322.13 L490.04,321.61 L489.44,322.79 L488.84,322.02 L488.24,323.07 L487.64,322.73 L487.04,322.63 L486.44,323.3 L485.84,324.27 L485.24,323.61 L484.64,323.22 L484.04,324.37 L483.44,323.85 L482.84,322.68 L482.24,324.65 L481.64,322.01 L481.04,323.79 L480.44,322.46 L479.84,323.79 L479.24,319.48 L478.64,323.23 L478.04,322.71 L477.44,323.62 L476.84,321.31 L476.24,323.98 L475.64,323.7 L475.04,324.48 L474.44,323.88 L473.84,323.58 L473.24,322.52 L472.64,322.67 L472.04,323.11 L471.44,325.22 L470.84,323.03 L470.24,323.06 L469.64,322.41 L469.04,323.77 L468.44,322.35 L467.84,323.64 L467.24,326.64 L466.64,322.75 L466.04,324.98 L465.44,323.75 L464.84,325.04 L464.24,324.52 L463.64,324.8 L463.04,323.92 L462.44,323.5 L461.84,321.84 L461.24,325.01 L460.64,323.39 L460.04,323.27 L459.44,324.45 L458.84,324.68 L458.24,321.61 L457.64,323.49 L457.04,321.38 L456.44,323.52 L455.84,324.98 L455.24,324.55 L454.64,324.67 L454.04,323.59 L453.44,325.62 L452.84,323.6 L452.24,323.05 L451.64,323.55 L451.04,324.88 L450.44,323.01 L449.84,323.83 L449.24,323.45 L448.64,322.81 L448.04,322.96 L447.44,325.39 L446.84,325.03 L446.24,325.1 L445.64,323.19 L445.04,324.81 L444.44,324.72 L443.84,324.85 L443.24,323.38 L442.64,324.94 L442.04,325.12 L441.44,325.4 L440.84,323.73 L440.24,324.15 L439.64,322.03 L439.04,324.15 L438.44,322.78 L437.84,324.72 L437.24,322.37 L436.64,324.29 L436.04,324.53Z" fill="#FF2891" stroke="#FF2891" stroke-width="0.6" stroke-linejoin="round"/>
<path d="M435.87,460.13 V478.9" stroke="#60709E" stroke-width="2.2"/>
<path d="M435.87,308.02 V460.13" stroke="#FF2891" stroke-width="2.2"/>
<path d="M437.34,421.95 L438.52,419.4 L439.7,416.93 L440.88,414.54 L442.05,412.22 L443.23,409.98 L444.41,407.81 L445.59,405.7 L446.77,403.66 L447.95,401.68 L449.13,399.76 L450.31,397.89 L451.48,396.08 L452.66,394.32 L453.84,392.6 L455.02,390.94 L456.2,389.32 L457.38,387.75 L458.56,386.21 L459.73,384.72 L460.91,383.27 L462.09,381.85 L463.27,380.47 L464.45,379.13 L465.63,377.82 L466.81,376.54 L467.99,375.29 L469.16,374.07 L470.34,372.88 L471.52,371.72 L472.7,370.59 L473.88,369.48 L475.06,368.4 L476.24,367.35 L477.41,366.31 L478.59,365.3 L479.77,364.32 L480.95,363.35 L482.13,362.41 L483.31,361.48 L484.49,360.58 L485.67,359.69 L486.84,358.83 L488.02,357.98 L489.2,357.15 L490.38,356.33 L491.56,355.54 L492.74,354.76 L493.92,353.99 L495.09,353.24 L496.27,352.51 L497.45,351.79 L498.63,351.08 L499.81,350.39 L500.99,349.71 L502.17,349.05 L503.35,348.39 L504.52,347.75 L505.7,347.13 L506.88,346.51 L508.06,345.91 L509.24,345.32 L510.42,344.73 L511.6,344.16 L512.77,343.6 L513.95,343.05 L515.13,342.52 L516.31,341.99 L517.49,341.47 L518.67,340.96 L519.85,340.46 L521.03,339.96 L522.2,339.48 L523.38,339.01 L524.56,338.54 L525.74,338.09 L526.92,337.64 L528.1,337.2 L529.28,336.76 L530.45,336.34 L531.63,335.92 L532.81,335.51 L533.99,335.11 L535.17,334.71 L536.35,334.32 L537.53,333.94 L538.71,333.57 L539.88,333.2 L541.06,332.84 L542.24,332.48 L543.42,332.13 L544.6,331.79 L545.78,331.45 L546.96,331.12 L548.13,330.79 L549.31,330.47 L550.49,330.16 L551.67,329.85 L552.85,329.55 L554.03,329.25 L555.21,328.96 L556.39,328.67 L557.56,328.38 L558.74,328.11 L559.92,327.83 L561.1,327.56 L562.28,327.3 L563.46,327.04 L564.64,326.79 L565.81,326.53 L566.99,326.29 L568.17,326.05 L569.35,325.81 L570.53,325.57 L571.71,325.34 L572.89,325.12 L574.07,324.9 L575.24,324.68 L576.42,324.46 L577.6,324.25 L578.78,324.04 L579.96,323.84 L581.14,323.64 L582.32,323.44 L583.49,323.25 L584.67,323.06 L585.85,322.87 L587.03,322.69 L588.21,322.51 L589.39,322.33 L590.57,322.16 L591.75,321.98 L592.92,321.82 L594.1,321.65 L595.28,321.49 L596.46,321.33 L597.64,321.17 L598.82,321.01 L600,320.86 L601.17,320.71 L602.35,320.56 L603.53,320.42 L604.71,320.28 L605.89,320.14 L607.07,320 L608.25,319.87 L609.43,319.73 L610.6,319.6 L611.78,319.47 L612.96,319.35 L614.14,319.22 L615.32,319.1 L616.5,318.98 L617.68,318.86 L618.85,318.75 L620.03,318.63 L621.21,318.52 L622.39,318.41 L623.57,318.3 L624.75,318.2 L625.93,318.09 L627.11,317.99 L628.28,317.89 L629.46,317.79 L630.64,317.69 L631.82,317.6 L633,317.5 L634.18,317.41 L635.36,317.32 L636.53,317.23 L637.71,317.14 L638.89,317.05 L640.07,316.97 L641.25,316.89 L642.43,316.8 L643.61,316.72 L644.79,316.64 L645.96,316.57 L647.14,316.49 L648.32,316.41 L649.5,316.34 L650.68,316.27 L651.86,316.19 L653.04,316.12 L654.21,316.05 L655.39,315.99 L656.57,315.92 L657.75,315.85 L658.93,315.79 L660.11,315.72 L661.29,315.66 L662.47,315.6 L663.64,315.54 L664.82,315.48 L666,315.42 L667.18,315.36 L668.36,315.31 L669.54,315.25 L670.72,315.2" fill="none" stroke="#000" stroke-width="2.1" stroke-linejoin="round" />
<path d="M437.34,315.08 L438.52,314.88 L439.7,314.69 L440.88,314.52 L442.05,314.36 L443.23,314.21 L444.41,314.07 L445.59,313.95 L446.77,313.83 L447.95,313.72 L449.13,313.62 L450.31,313.53 L451.48,313.45 L452.66,313.37 L453.84,313.3 L455.02,313.23 L456.2,313.17 L457.38,313.12 L458.56,313.06 L459.73,313.02 L460.91,312.97 L462.09,312.93 L463.27,312.89 L464.45,312.86 L465.63,312.82 L466.81,312.79 L467.99,312.77 L469.16,312.74 L470.34,312.72 L471.52,312.7 L472.7,312.68 L473.88,312.66 L475.06,312.64 L476.24,312.63 L477.41,312.61 L478.59,312.6 L479.77,312.59 L480.95,312.57 L482.13,312.56 L483.31,312.55 L484.49,312.54 L485.67,312.54 L486.84,312.53 L488.02,312.52 L489.2,312.52 L490.38,312.51 L491.56,312.5 L492.74,312.5 L493.92,312.49 L495.09,312.49 L496.27,312.49 L497.45,312.48 L498.63,312.48 L499.81,312.48 L500.99,312.47 L502.17,312.47 L503.35,312.47 L504.52,312.46 L505.7,312.46 L506.88,312.46 L508.06,312.46 L509.24,312.46 L510.42,312.46 L511.6,312.45 L512.77,312.45 L513.95,312.45 L515.13,312.45 L516.31,312.45 L517.49,312.45 L518.67,312.45 L519.85,312.45 L521.03,312.45 L522.2,312.45 L523.38,312.44 L524.56,312.44 L525.74,312.44 L526.92,312.44 L528.1,312.44 L529.28,312.44 L530.45,312.44 L531.63,312.44 L532.81,312.44 L533.99,312.44 L535.17,312.44 L536.35,312.44 L537.53,312.44 L538.71,312.44 L539.88,312.44 L541.06,312.44 L542.24,312.44 L543.42,312.44 L544.6,312.44 L545.78,312.44 L546.96,312.44 L548.13,312.44 L549.31,312.44 L550.49,312.44 L551.67,312.44 L552.85,312.44 L554.03,312.44 L555.21,312.44 L556.39,312.44 L557.56,312.44 L558.74,312.44 L559.92,312.44 L561.1,312.44 L562.28,312.44 L563.46,312.44 L564.64,312.44 L565.81,312.44 L566.99,312.44 L568.17,312.44 L569.35,312.44 L570.53,312.44 L571.71,312.44 L572.89,312.44 L574.07,312.44 L575.24,312.44 L576.42,312.44 L577.6,312.44 L578.78,312.44 L579.96,312.44 L581.14,312.44 L582.32,312.44 L583.49,312.44 L584.67,312.44 L585.85,312.44 L587.03,312.44 L588.21,312.44 L589.39,312.44 L590.57,312.44 L591.75,312.44 L592.92,312.44 L594.1,312.44 L595.28,312.44 L596.46,312.44 L597.64,312.44 L598.82,312.44 L600,312.44 L601.17,312.44 L602.35,312.44 L603.53,312.44 L604.71,312.44 L605.89,312.44 L607.07,312.44 L608.25,312.44 L609.43,312.44 L610.6,312.44 L611.78,312.44 L612.96,312.44 L614.14,312.44 L615.32,312.44 L616.5,312.44 L617.68,312.44 L618.85,312.44 L620.03,312.44 L621.21,312.44 L622.39,312.44 L623.57,312.44 L624.75,312.44 L625.93,312.44 L627.11,312.44 L628.28,312.44 L629.46,312.44 L630.64,312.44 L631.82,312.44 L633,312.44 L634.18,312.44 L635.36,312.44 L636.53,312.44 L637.71,312.44 L638.89,312.44 L640.07,312.44 L641.25,312.44 L642.43,312.44 L643.61,312.44 L644.79,312.44 L645.96,312.44 L647.14,312.44 L648.32,312.44 L649.5,312.44 L650.68,312.44 L651.86,312.44 L653.04,312.44 L654.21,312.44 L655.39,312.44 L656.57,312.44 L657.75,312.44 L658.93,312.44 L660.11,312.44 L661.29,312.44 L662.47,312.44 L663.64,312.44 L664.82,312.44 L666,312.44 L667.18,312.44 L668.36,312.44 L669.54,312.44 L670.72,312.44" fill="none" stroke="#000" stroke-width="2.1" stroke-linejoin="round" />
<path d="M437.34,321.08 L438.52,320.98 L439.7,320.89 L440.88,320.79 L442.05,320.7 L443.23,320.61 L444.41,320.52 L445.59,320.43 L446.77,320.34 L447.95,320.25 L449.13,320.16 L450.31,320.08 L451.48,319.99 L452.66,319.91 L453.84,319.83 L455.02,319.75 L456.2,319.67 L457.38,319.59 L458.56,319.51 L459.73,319.43 L460.91,319.35 L462.09,319.28 L463.27,319.2 L464.45,319.13 L465.63,319.05 L466.81,318.98 L467.99,318.91 L469.16,318.84 L470.34,318.77 L471.52,318.7 L472.7,318.63 L473.88,318.56 L475.06,318.5 L476.24,318.43 L477.41,318.37 L478.59,318.3 L479.77,318.24 L480.95,318.17 L482.13,318.11 L483.31,318.05 L484.49,317.99 L485.67,317.93 L486.84,317.87 L488.02,317.81 L489.2,317.75 L490.38,317.7 L491.56,317.64 L492.74,317.58 L493.92,317.53 L495.09,317.47 L496.27,317.42 L497.45,317.37 L498.63,317.31 L499.81,317.26 L500.99,317.21 L502.17,317.16 L503.35,317.11 L504.52,317.06 L505.7,317.01 L506.88,316.96 L508.06,316.91 L509.24,316.87 L510.42,316.82 L511.6,316.77 L512.77,316.73 L513.95,316.68 L515.13,316.64 L516.31,316.59 L517.49,316.55 L518.67,316.51 L519.85,316.46 L521.03,316.42 L522.2,316.38 L523.38,316.34 L524.56,316.3 L525.74,316.26 L526.92,316.22 L528.1,316.18 L529.28,316.14 L530.45,316.1 L531.63,316.06 L532.81,316.02 L533.99,315.99 L535.17,315.95 L536.35,315.91 L537.53,315.88 L538.71,315.84 L539.88,315.81 L541.06,315.77 L542.24,315.74 L543.42,315.71 L544.6,315.67 L545.78,315.64 L546.96,315.61 L548.13,315.58 L549.31,315.54 L550.49,315.51 L551.67,315.48 L552.85,315.45 L554.03,315.42 L555.21,315.39 L556.39,315.36 L557.56,315.33 L558.74,315.3 L559.92,315.27 L561.1,315.24 L562.28,315.22 L563.46,315.19 L564.64,315.16 L565.81,315.14 L566.99,315.11 L568.17,315.08 L569.35,315.06 L570.53,315.03 L571.71,315 L572.89,314.98 L574.07,314.95 L575.24,314.93 L576.42,314.91 L577.6,314.88 L578.78,314.86 L579.96,314.83 L581.14,314.81 L582.32,314.79 L583.49,314.77 L584.67,314.74 L585.85,314.72 L587.03,314.7 L588.21,314.68 L589.39,314.66 L590.57,314.64 L591.75,314.62 L592.92,314.59 L594.1,314.57 L595.28,314.55 L596.46,314.53 L597.64,314.51 L598.82,314.5 L600,314.48 L601.17,314.46 L602.35,314.44 L603.53,314.42 L604.71,314.4 L605.89,314.38 L607.07,314.37 L608.25,314.35 L609.43,314.33 L610.6,314.31 L611.78,314.3 L612.96,314.28 L614.14,314.26 L615.32,314.25 L616.5,314.23 L617.68,314.21 L618.85,314.2 L620.03,314.18 L621.21,314.17 L622.39,314.15 L623.57,314.14 L624.75,314.12 L625.93,314.11 L627.11,314.09 L628.28,314.08 L629.46,314.06 L630.64,314.05 L631.82,314.03 L633,314.02 L634.18,314.01 L635.36,313.99 L636.53,313.98 L637.71,313.97 L638.89,313.95 L640.07,313.94 L641.25,313.93 L642.43,313.92 L643.61,313.9 L644.79,313.89 L645.96,313.88 L647.14,313.87 L648.32,313.86 L649.5,313.84 L650.68,313.83 L651.86,313.82 L653.04,313.81 L654.21,313.8 L655.39,313.79 L656.57,313.78 L657.75,313.77 L658.93,313.75 L660.11,313.74 L661.29,313.73 L662.47,313.72 L663.64,313.71 L664.82,313.7 L666,313.69 L667.18,313.68 L668.36,313.67 L669.54,313.66 L670.72,313.65" fill="none" stroke="#000" stroke-width="2.1" stroke-linejoin="round" />
<text x="139.6" y="391.1" font-size="13.9">&#934;<tspan font-size="10.3" dy="3.5">T</tspan><tspan dy="-3.5"> in DCM</tspan></text>
<text x="139.6" y="411.3" font-size="13.9" text-anchor="start" >Monomer 0.9</text>
<path d="M231.5,406.7 H263" stroke="#E95628" stroke-width="3.4" stroke-linecap="round"/>
<text x="266.3" y="411.3" font-size="13.9" text-anchor="start" >Monomer</text>
<text x="139.6" y="428.2" font-size="13.9" text-anchor="start" >Dimer 0.17</text>
<path d="M231.5,423.6 H263" stroke="#FF2891" stroke-width="3.4" stroke-linecap="round"/>
<text x="266.3" y="428.2" font-size="13.9" text-anchor="start" >Dimer</text>
<text x="139.6" y="445.1" font-size="13.9" text-anchor="start" >Trimer 0.1</text>
<path d="M231.5,440.5 H263" stroke="#A84EA8" stroke-width="3.4" stroke-linecap="round"/>
<text x="266.3" y="445.1" font-size="13.9" text-anchor="start" >Trimer</text>
<text x="139.6" y="462" font-size="13.9" text-anchor="start" >Tetramer 0.07</text>
<path d="M231.5,457.4 H263" stroke="#60709E" stroke-width="3.4" stroke-linecap="round"/>
<text x="266.3" y="462" font-size="13.9" text-anchor="start" >Tetramer</text>
<text x="472.7" y="400.8" font-size="13.9">&#934;<tspan font-size="10.3" dy="3.5">T</tspan><tspan dy="-3.5"> in ACN</tspan></text>
<text x="472.7" y="421" font-size="13.9" text-anchor="start" >Monomer 0.92</text>
<path d="M570.8,416.4 H602.3" stroke="#E95628" stroke-width="3.4" stroke-linecap="round"/>
<text x="605.2" y="421" font-size="13.9" text-anchor="start" >Monomer</text>
<text x="472.7" y="437.9" font-size="13.9" text-anchor="start" >Dimer 0.14</text>
<path d="M570.8,433.3 H602.3" stroke="#FF2891" stroke-width="3.4" stroke-linecap="round"/>
<text x="605.2" y="437.9" font-size="13.9" text-anchor="start" >Dimer</text>
<text x="472.7" y="454.8" font-size="13.9" text-anchor="start" >Tetramer 0.08</text>
<path d="M570.8,450.2 H602.3" stroke="#60709E" stroke-width="3.4" stroke-linecap="round"/>
<text x="605.2" y="454.8" font-size="13.9" text-anchor="start" >Tetramer</text>
</svg>
</body></html>
